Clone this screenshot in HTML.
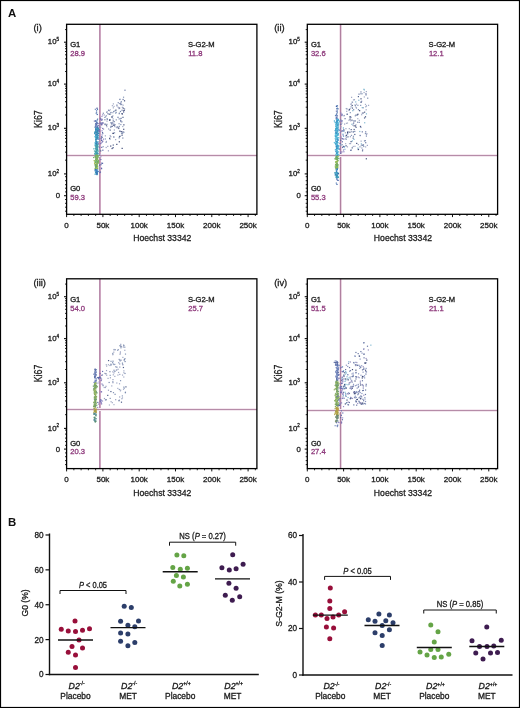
<!DOCTYPE html>
<html><head><meta charset="utf-8"><style>
html,body{margin:0;padding:0;background:#fff;overflow:hidden;}
svg{display:block;will-change:transform;}
text{font-family:"Liberation Sans", sans-serif;stroke-width:0.3px;}
</style></head><body>
<svg width="520" height="708" viewBox="0 0 520 708">
<rect x="0.5" y="0.5" width="519" height="707" fill="none" stroke="#000" stroke-width="1.2"/>
<text x="7.9" y="16.6" font-size="11.4" font-weight="bold" fill="#111">A</text>
<text x="7.9" y="525.8" font-size="11.4" font-weight="bold" fill="#111">B</text>
<line x1="64.00" y1="173.90" x2="66.60" y2="173.90" stroke="#111" stroke-width="1.1"/>
<line x1="65.00" y1="160.17" x2="66.60" y2="160.17" stroke="#111" stroke-width="0.9"/>
<line x1="65.00" y1="152.14" x2="66.60" y2="152.14" stroke="#111" stroke-width="0.9"/>
<line x1="65.00" y1="146.45" x2="66.60" y2="146.45" stroke="#111" stroke-width="0.9"/>
<line x1="65.00" y1="142.03" x2="66.60" y2="142.03" stroke="#111" stroke-width="0.9"/>
<line x1="65.00" y1="138.42" x2="66.60" y2="138.42" stroke="#111" stroke-width="0.9"/>
<line x1="65.00" y1="135.36" x2="66.60" y2="135.36" stroke="#111" stroke-width="0.9"/>
<line x1="65.00" y1="132.72" x2="66.60" y2="132.72" stroke="#111" stroke-width="0.9"/>
<line x1="65.00" y1="130.39" x2="66.60" y2="130.39" stroke="#111" stroke-width="0.9"/>
<line x1="64.00" y1="128.30" x2="66.60" y2="128.30" stroke="#111" stroke-width="1.1"/>
<line x1="65.00" y1="114.99" x2="66.60" y2="114.99" stroke="#111" stroke-width="0.9"/>
<line x1="65.00" y1="107.21" x2="66.60" y2="107.21" stroke="#111" stroke-width="0.9"/>
<line x1="65.00" y1="101.69" x2="66.60" y2="101.69" stroke="#111" stroke-width="0.9"/>
<line x1="65.00" y1="97.41" x2="66.60" y2="97.41" stroke="#111" stroke-width="0.9"/>
<line x1="65.00" y1="93.91" x2="66.60" y2="93.91" stroke="#111" stroke-width="0.9"/>
<line x1="65.00" y1="90.95" x2="66.60" y2="90.95" stroke="#111" stroke-width="0.9"/>
<line x1="65.00" y1="88.38" x2="66.60" y2="88.38" stroke="#111" stroke-width="0.9"/>
<line x1="65.00" y1="86.12" x2="66.60" y2="86.12" stroke="#111" stroke-width="0.9"/>
<line x1="64.00" y1="84.10" x2="66.60" y2="84.10" stroke="#111" stroke-width="1.1"/>
<line x1="65.00" y1="71.49" x2="66.60" y2="71.49" stroke="#111" stroke-width="0.9"/>
<line x1="65.00" y1="64.11" x2="66.60" y2="64.11" stroke="#111" stroke-width="0.9"/>
<line x1="65.00" y1="58.87" x2="66.60" y2="58.87" stroke="#111" stroke-width="0.9"/>
<line x1="65.00" y1="54.81" x2="66.60" y2="54.81" stroke="#111" stroke-width="0.9"/>
<line x1="65.00" y1="51.50" x2="66.60" y2="51.50" stroke="#111" stroke-width="0.9"/>
<line x1="65.00" y1="48.69" x2="66.60" y2="48.69" stroke="#111" stroke-width="0.9"/>
<line x1="65.00" y1="46.26" x2="66.60" y2="46.26" stroke="#111" stroke-width="0.9"/>
<line x1="65.00" y1="44.12" x2="66.60" y2="44.12" stroke="#111" stroke-width="0.9"/>
<line x1="64.00" y1="42.20" x2="66.60" y2="42.20" stroke="#111" stroke-width="1.1"/>
<line x1="65.00" y1="29.59" x2="66.60" y2="29.59" stroke="#111" stroke-width="0.9"/>
<line x1="64.00" y1="195.70" x2="66.60" y2="195.70" stroke="#111" stroke-width="1.1"/>
<line x1="65.00" y1="176.70" x2="66.60" y2="176.70" stroke="#111" stroke-width="0.9"/>
<line x1="65.00" y1="180.70" x2="66.60" y2="180.70" stroke="#111" stroke-width="0.9"/>
<line x1="65.00" y1="184.70" x2="66.60" y2="184.70" stroke="#111" stroke-width="0.9"/>
<line x1="65.00" y1="188.20" x2="66.60" y2="188.20" stroke="#111" stroke-width="0.9"/>
<line x1="65.00" y1="191.90" x2="66.60" y2="191.90" stroke="#111" stroke-width="0.9"/>
<line x1="65.00" y1="199.50" x2="66.60" y2="199.50" stroke="#111" stroke-width="0.9"/>
<line x1="65.00" y1="203.30" x2="66.60" y2="203.30" stroke="#111" stroke-width="0.9"/>
<line x1="65.00" y1="207.20" x2="66.60" y2="207.20" stroke="#111" stroke-width="0.9"/>
<line x1="65.00" y1="211.20" x2="66.60" y2="211.20" stroke="#111" stroke-width="0.9"/>
<line x1="66.60" y1="214.30" x2="66.60" y2="217.10" stroke="#111" stroke-width="1.0"/>
<line x1="73.86" y1="214.30" x2="73.86" y2="216.00" stroke="#111" stroke-width="0.9"/>
<line x1="81.12" y1="214.30" x2="81.12" y2="216.00" stroke="#111" stroke-width="0.9"/>
<line x1="88.38" y1="214.30" x2="88.38" y2="216.00" stroke="#111" stroke-width="0.9"/>
<line x1="95.64" y1="214.30" x2="95.64" y2="216.00" stroke="#111" stroke-width="0.9"/>
<line x1="102.90" y1="214.30" x2="102.90" y2="217.10" stroke="#111" stroke-width="1.0"/>
<line x1="110.16" y1="214.30" x2="110.16" y2="216.00" stroke="#111" stroke-width="0.9"/>
<line x1="117.42" y1="214.30" x2="117.42" y2="216.00" stroke="#111" stroke-width="0.9"/>
<line x1="124.67" y1="214.30" x2="124.67" y2="216.00" stroke="#111" stroke-width="0.9"/>
<line x1="131.93" y1="214.30" x2="131.93" y2="216.00" stroke="#111" stroke-width="0.9"/>
<line x1="139.19" y1="214.30" x2="139.19" y2="217.10" stroke="#111" stroke-width="1.0"/>
<line x1="146.45" y1="214.30" x2="146.45" y2="216.00" stroke="#111" stroke-width="0.9"/>
<line x1="153.71" y1="214.30" x2="153.71" y2="216.00" stroke="#111" stroke-width="0.9"/>
<line x1="160.97" y1="214.30" x2="160.97" y2="216.00" stroke="#111" stroke-width="0.9"/>
<line x1="168.23" y1="214.30" x2="168.23" y2="216.00" stroke="#111" stroke-width="0.9"/>
<line x1="175.49" y1="214.30" x2="175.49" y2="217.10" stroke="#111" stroke-width="1.0"/>
<line x1="182.75" y1="214.30" x2="182.75" y2="216.00" stroke="#111" stroke-width="0.9"/>
<line x1="190.01" y1="214.30" x2="190.01" y2="216.00" stroke="#111" stroke-width="0.9"/>
<line x1="197.27" y1="214.30" x2="197.27" y2="216.00" stroke="#111" stroke-width="0.9"/>
<line x1="204.53" y1="214.30" x2="204.53" y2="216.00" stroke="#111" stroke-width="0.9"/>
<line x1="211.79" y1="214.30" x2="211.79" y2="217.10" stroke="#111" stroke-width="1.0"/>
<line x1="219.05" y1="214.30" x2="219.05" y2="216.00" stroke="#111" stroke-width="0.9"/>
<line x1="226.31" y1="214.30" x2="226.31" y2="216.00" stroke="#111" stroke-width="0.9"/>
<line x1="233.57" y1="214.30" x2="233.57" y2="216.00" stroke="#111" stroke-width="0.9"/>
<line x1="240.82" y1="214.30" x2="240.82" y2="216.00" stroke="#111" stroke-width="0.9"/>
<line x1="248.08" y1="214.30" x2="248.08" y2="217.10" stroke="#111" stroke-width="1.0"/>
<line x1="255.34" y1="214.30" x2="255.34" y2="216.00" stroke="#111" stroke-width="0.9"/>
<rect x="99" y="24.30" width="1" height="190.00" fill="#b98cac" shape-rendering="crispEdges"/>
<rect x="100" y="24.30" width="1" height="190.00" fill="#cda5c0" shape-rendering="crispEdges"/>
<rect x="66.60" y="154" width="190.30" height="1" fill="#f5e8f0" shape-rendering="crispEdges"/>
<rect x="66.60" y="155" width="190.30" height="1" fill="#b68ca8" shape-rendering="crispEdges"/>
<rect x="66.60" y="156" width="190.30" height="1" fill="#f3e8ef" shape-rendering="crispEdges"/>
<g><rect x="96.88" y="108.88" width="1.2" height="1.2" fill="#5a80b8"/><rect x="94.75" y="108.70" width="1.2" height="1.2" fill="#6a88b8"/><rect x="95.55" y="112.59" width="1.2" height="1.2" fill="#6a88b8"/><rect x="96.42" y="107.71" width="1.2" height="1.2" fill="#6a88b8"/><rect x="96.00" y="112.16" width="1.2" height="1.2" fill="#6a88b8"/><rect x="95.94" y="110.33" width="1.2" height="1.2" fill="#4a70b0"/><rect x="96.63" y="113.90" width="1.2" height="1.2" fill="#3a60a8"/><rect x="96.47" y="107.68" width="1.2" height="1.2" fill="#7a78b0"/><rect x="97.01" y="118.48" width="1.2" height="1.2" fill="#6a88b8"/><rect x="95.07" y="124.93" width="1.2" height="1.2" fill="#7a78b0"/><rect x="95.03" y="120.40" width="1.2" height="1.2" fill="#4a70b0"/><rect x="96.40" y="121.51" width="1.2" height="1.2" fill="#5a80c0"/><rect x="95.28" y="120.37" width="1.2" height="1.2" fill="#3a60a8"/><rect x="96.19" y="122.15" width="1.2" height="1.2" fill="#7a78b0"/><rect x="97.03" y="126.70" width="1.2" height="1.2" fill="#5a80c0"/><rect x="96.75" y="126.14" width="1.2" height="1.2" fill="#3a60a8"/><rect x="97.92" y="125.09" width="1.2" height="1.2" fill="#7a78b0"/><rect x="94.52" y="126.83" width="1.2" height="1.2" fill="#6a88b8"/><rect x="96.49" y="122.97" width="1.2" height="1.2" fill="#5a80b8"/><rect x="95.69" y="123.69" width="1.2" height="1.2" fill="#6a88b8"/><rect x="94.80" y="126.02" width="1.2" height="1.2" fill="#3a60a8"/><rect x="95.96" y="122.72" width="1.2" height="1.2" fill="#5a80c0"/><rect x="95.52" y="125.58" width="1.2" height="1.2" fill="#7a78b0"/><rect x="96.28" y="126.34" width="1.2" height="1.2" fill="#6a90c8"/><rect x="95.32" y="124.47" width="1.2" height="1.2" fill="#7a78b0"/><rect x="96.69" y="119.37" width="1.2" height="1.2" fill="#4a70b0"/><rect x="95.18" y="123.09" width="1.2" height="1.2" fill="#3a60a8"/><rect x="96.65" y="122.62" width="1.2" height="1.2" fill="#5a80b8"/><rect x="97.20" y="124.73" width="1.2" height="1.2" fill="#6a88b8"/><rect x="95.87" y="124.22" width="1.2" height="1.2" fill="#4a70b0"/><rect x="97.53" y="122.92" width="1.2" height="1.2" fill="#7a78b0"/><rect x="95.83" y="126.68" width="1.2" height="1.2" fill="#7a78b0"/><rect x="93.79" y="120.49" width="1.2" height="1.2" fill="#7a78b0"/><rect x="95.81" y="121.58" width="1.2" height="1.2" fill="#5a80b8"/><rect x="94.87" y="124.33" width="1.2" height="1.2" fill="#6a88b8"/><rect x="95.08" y="125.45" width="1.2" height="1.2" fill="#6a90c8"/><rect x="97.00" y="126.99" width="1.2" height="1.2" fill="#4a70b0"/><rect x="95.59" y="123.07" width="1.2" height="1.2" fill="#7a78b0"/><rect x="96.98" y="130.89" width="1.2" height="1.2" fill="#3a88b8"/><rect x="95.68" y="137.09" width="1.2" height="1.2" fill="#4aa8c8"/><rect x="94.59" y="143.40" width="1.2" height="1.2" fill="#50b0d0"/><rect x="96.85" y="133.28" width="1.2" height="1.2" fill="#3a78b0"/><rect x="96.18" y="136.58" width="1.2" height="1.2" fill="#3a78b0"/><rect x="95.21" y="127.88" width="1.2" height="1.2" fill="#4aa8c8"/><rect x="95.46" y="138.20" width="1.2" height="1.2" fill="#3c96b4"/><rect x="95.82" y="140.97" width="1.2" height="1.2" fill="#3a88b8"/><rect x="96.32" y="127.95" width="1.2" height="1.2" fill="#3c96b4"/><rect x="95.88" y="135.10" width="1.2" height="1.2" fill="#3a88b8"/><rect x="96.97" y="131.64" width="1.2" height="1.2" fill="#3a88b8"/><rect x="96.80" y="132.33" width="1.2" height="1.2" fill="#4aa8c8"/><rect x="95.46" y="130.11" width="1.2" height="1.2" fill="#3a88b8"/><rect x="95.91" y="138.42" width="1.2" height="1.2" fill="#3a88b8"/><rect x="95.55" y="135.13" width="1.2" height="1.2" fill="#3c96b4"/><rect x="96.92" y="132.70" width="1.2" height="1.2" fill="#3a88b8"/><rect x="96.16" y="134.56" width="1.2" height="1.2" fill="#3a78b0"/><rect x="96.40" y="144.00" width="1.2" height="1.2" fill="#3a78b0"/><rect x="96.64" y="134.74" width="1.2" height="1.2" fill="#50b0d0"/><rect x="95.90" y="129.89" width="1.2" height="1.2" fill="#4aa8c8"/><rect x="95.05" y="134.98" width="1.2" height="1.2" fill="#4aa8c8"/><rect x="95.96" y="144.01" width="1.2" height="1.2" fill="#3a78b0"/><rect x="95.78" y="135.06" width="1.2" height="1.2" fill="#3a78b0"/><rect x="95.97" y="141.06" width="1.2" height="1.2" fill="#50b0d0"/><rect x="95.29" y="128.40" width="1.2" height="1.2" fill="#3c96b4"/><rect x="98.25" y="132.61" width="1.2" height="1.2" fill="#3c96b4"/><rect x="97.38" y="132.68" width="1.2" height="1.2" fill="#50b0d0"/><rect x="95.45" y="137.00" width="1.2" height="1.2" fill="#4aa8c8"/><rect x="96.18" y="127.54" width="1.2" height="1.2" fill="#4aa8c8"/><rect x="95.83" y="143.76" width="1.2" height="1.2" fill="#3a78b0"/><rect x="96.85" y="135.23" width="1.2" height="1.2" fill="#3a78b0"/><rect x="94.40" y="136.05" width="1.2" height="1.2" fill="#50b0d0"/><rect x="96.95" y="130.81" width="1.2" height="1.2" fill="#50b0d0"/><rect x="96.68" y="137.45" width="1.2" height="1.2" fill="#50b0d0"/><rect x="95.62" y="129.18" width="1.2" height="1.2" fill="#50b0d0"/><rect x="95.35" y="127.69" width="1.2" height="1.2" fill="#3a78b0"/><rect x="96.14" y="142.22" width="1.2" height="1.2" fill="#4aa8c8"/><rect x="95.90" y="141.98" width="1.2" height="1.2" fill="#3a78b0"/><rect x="95.67" y="140.71" width="1.2" height="1.2" fill="#3c96b4"/><rect x="96.53" y="141.64" width="1.2" height="1.2" fill="#3a78b0"/><rect x="97.01" y="133.25" width="1.2" height="1.2" fill="#50b0d0"/><rect x="95.08" y="140.46" width="1.2" height="1.2" fill="#3a78b0"/><rect x="95.94" y="131.39" width="1.2" height="1.2" fill="#4aa8c8"/><rect x="95.63" y="130.23" width="1.2" height="1.2" fill="#3a78b0"/><rect x="96.07" y="131.02" width="1.2" height="1.2" fill="#3a88b8"/><rect x="94.78" y="133.66" width="1.2" height="1.2" fill="#3a88b8"/><rect x="96.20" y="129.34" width="1.2" height="1.2" fill="#50b0d0"/><rect x="98.15" y="129.70" width="1.2" height="1.2" fill="#3a78b0"/><rect x="95.60" y="140.49" width="1.2" height="1.2" fill="#50b0d0"/><rect x="96.83" y="142.12" width="1.2" height="1.2" fill="#4aa8c8"/><rect x="95.33" y="141.48" width="1.2" height="1.2" fill="#50b0d0"/><rect x="97.05" y="128.70" width="1.2" height="1.2" fill="#3a78b0"/><rect x="96.62" y="131.20" width="1.2" height="1.2" fill="#3a88b8"/><rect x="96.35" y="137.00" width="1.2" height="1.2" fill="#3c96b4"/><rect x="95.73" y="135.18" width="1.2" height="1.2" fill="#3a88b8"/><rect x="97.56" y="127.61" width="1.2" height="1.2" fill="#3c96b4"/><rect x="97.40" y="128.96" width="1.2" height="1.2" fill="#3c96b4"/><rect x="97.24" y="130.59" width="1.2" height="1.2" fill="#3a78b0"/><rect x="96.41" y="134.56" width="1.2" height="1.2" fill="#4aa8c8"/><rect x="96.36" y="130.10" width="1.2" height="1.2" fill="#3c96b4"/><rect x="97.59" y="134.80" width="1.2" height="1.2" fill="#3a78b0"/><rect x="95.64" y="142.86" width="1.2" height="1.2" fill="#3a88b8"/><rect x="95.81" y="136.75" width="1.2" height="1.2" fill="#4aa8c8"/><rect x="95.24" y="138.48" width="1.2" height="1.2" fill="#3c96b4"/><rect x="96.47" y="127.86" width="1.2" height="1.2" fill="#3a78b0"/><rect x="94.00" y="132.84" width="1.2" height="1.2" fill="#50b0d0"/><rect x="97.84" y="132.73" width="1.2" height="1.2" fill="#3a78b0"/><rect x="96.77" y="143.89" width="1.2" height="1.2" fill="#3c96b4"/><rect x="96.34" y="131.65" width="1.2" height="1.2" fill="#3a78b0"/><rect x="94.48" y="142.15" width="1.2" height="1.2" fill="#50b0d0"/><rect x="95.94" y="138.65" width="1.2" height="1.2" fill="#3a88b8"/><rect x="97.12" y="130.79" width="1.2" height="1.2" fill="#3a88b8"/><rect x="95.50" y="128.78" width="1.2" height="1.2" fill="#50b0d0"/><rect x="98.53" y="128.94" width="1.2" height="1.2" fill="#3a78b0"/><rect x="96.83" y="138.34" width="1.2" height="1.2" fill="#3a88b8"/><rect x="95.67" y="128.10" width="1.2" height="1.2" fill="#4aa8c8"/><rect x="97.09" y="132.78" width="1.2" height="1.2" fill="#3a88b8"/><rect x="94.44" y="131.58" width="1.2" height="1.2" fill="#3c96b4"/><rect x="94.93" y="136.65" width="1.2" height="1.2" fill="#4aa8c8"/><rect x="95.42" y="131.14" width="1.2" height="1.2" fill="#4aa8c8"/><rect x="95.80" y="134.23" width="1.2" height="1.2" fill="#3c96b4"/><rect x="97.80" y="127.77" width="1.2" height="1.2" fill="#3c96b4"/><rect x="96.27" y="132.34" width="1.2" height="1.2" fill="#4aa8c8"/><rect x="94.99" y="129.12" width="1.2" height="1.2" fill="#3a88b8"/><rect x="96.53" y="128.71" width="1.2" height="1.2" fill="#4aa8c8"/><rect x="95.83" y="144.14" width="1.2" height="1.2" fill="#3a88b8"/><rect x="95.57" y="132.60" width="1.2" height="1.2" fill="#3a78b0"/><rect x="94.35" y="132.39" width="1.2" height="1.2" fill="#4aa8c8"/><rect x="96.19" y="129.81" width="1.2" height="1.2" fill="#3a88b8"/><rect x="95.88" y="141.36" width="1.2" height="1.2" fill="#3a78b0"/><rect x="97.44" y="141.07" width="1.2" height="1.2" fill="#4aa8c8"/><rect x="95.05" y="130.43" width="1.2" height="1.2" fill="#50b0d0"/><rect x="97.71" y="136.54" width="1.2" height="1.2" fill="#4aa8c8"/><rect x="96.54" y="131.69" width="1.2" height="1.2" fill="#3c96b4"/><rect x="95.10" y="139.00" width="1.2" height="1.2" fill="#3a88b8"/><rect x="96.31" y="136.60" width="1.2" height="1.2" fill="#3a78b0"/><rect x="95.35" y="135.11" width="1.2" height="1.2" fill="#3a88b8"/><rect x="96.50" y="135.66" width="1.2" height="1.2" fill="#50b0d0"/><rect x="97.37" y="144.00" width="1.2" height="1.2" fill="#3a78b0"/><rect x="96.16" y="129.75" width="1.2" height="1.2" fill="#4aa8c8"/><rect x="96.72" y="129.75" width="1.2" height="1.2" fill="#3a78b0"/><rect x="95.92" y="134.22" width="1.2" height="1.2" fill="#3a78b0"/><rect x="95.44" y="128.92" width="1.2" height="1.2" fill="#3a88b8"/><rect x="96.05" y="135.92" width="1.2" height="1.2" fill="#50b0d0"/><rect x="95.59" y="143.21" width="1.2" height="1.2" fill="#3a88b8"/><rect x="95.51" y="135.82" width="1.2" height="1.2" fill="#50b0d0"/><rect x="95.81" y="143.66" width="1.2" height="1.2" fill="#3a78b0"/><rect x="95.21" y="142.82" width="1.2" height="1.2" fill="#3a88b8"/><rect x="96.39" y="143.93" width="1.2" height="1.2" fill="#3a78b0"/><rect x="97.99" y="138.37" width="1.2" height="1.2" fill="#3a88b8"/><rect x="96.19" y="130.11" width="1.2" height="1.2" fill="#3a88b8"/><rect x="94.15" y="132.48" width="1.2" height="1.2" fill="#3a88b8"/><rect x="95.03" y="141.83" width="1.2" height="1.2" fill="#50b0d0"/><rect x="97.01" y="137.51" width="1.2" height="1.2" fill="#3c96b4"/><rect x="97.13" y="142.64" width="1.2" height="1.2" fill="#4aa8c8"/><rect x="95.71" y="130.05" width="1.2" height="1.2" fill="#50b0d0"/><rect x="94.63" y="131.10" width="1.2" height="1.2" fill="#3c96b4"/><rect x="95.36" y="135.82" width="1.2" height="1.2" fill="#50b0d0"/><rect x="95.37" y="139.59" width="1.2" height="1.2" fill="#4aa8c8"/><rect x="96.88" y="136.65" width="1.2" height="1.2" fill="#3c96b4"/><rect x="96.58" y="136.31" width="1.2" height="1.2" fill="#3c96b4"/><rect x="96.37" y="131.95" width="1.2" height="1.2" fill="#3c96b4"/><rect x="97.00" y="143.71" width="1.2" height="1.2" fill="#3c96b4"/><rect x="97.19" y="134.97" width="1.2" height="1.2" fill="#4aa8c8"/><rect x="94.80" y="143.91" width="1.2" height="1.2" fill="#50b0d0"/><rect x="97.09" y="134.15" width="1.2" height="1.2" fill="#3a88b8"/><rect x="95.25" y="134.85" width="1.2" height="1.2" fill="#4aa8c8"/><rect x="95.28" y="129.43" width="1.2" height="1.2" fill="#3a78b0"/><rect x="97.11" y="136.48" width="1.2" height="1.2" fill="#3a88b8"/><rect x="95.29" y="131.62" width="1.2" height="1.2" fill="#3a78b0"/><rect x="96.36" y="144.44" width="1.2" height="1.2" fill="#40a0b0"/><rect x="96.90" y="144.71" width="1.2" height="1.2" fill="#48a8b8"/><rect x="96.20" y="152.75" width="1.2" height="1.2" fill="#48a8b8"/><rect x="96.71" y="147.13" width="1.2" height="1.2" fill="#50a8a0"/><rect x="94.31" y="152.72" width="1.2" height="1.2" fill="#48a8b8"/><rect x="96.59" y="149.85" width="1.2" height="1.2" fill="#3a90b0"/><rect x="96.44" y="148.60" width="1.2" height="1.2" fill="#3a90b0"/><rect x="96.43" y="146.45" width="1.2" height="1.2" fill="#40a0b0"/><rect x="97.15" y="153.44" width="1.2" height="1.2" fill="#40a0b0"/><rect x="96.18" y="149.85" width="1.2" height="1.2" fill="#48a8b8"/><rect x="94.86" y="145.15" width="1.2" height="1.2" fill="#3a90b0"/><rect x="97.16" y="149.43" width="1.2" height="1.2" fill="#50a8a0"/><rect x="95.79" y="151.99" width="1.2" height="1.2" fill="#3a90b0"/><rect x="96.41" y="147.90" width="1.2" height="1.2" fill="#3a90b0"/><rect x="95.86" y="147.79" width="1.2" height="1.2" fill="#40a0b0"/><rect x="94.84" y="150.88" width="1.2" height="1.2" fill="#3a90b0"/><rect x="93.26" y="148.22" width="1.2" height="1.2" fill="#48a8b8"/><rect x="94.98" y="154.27" width="1.2" height="1.2" fill="#3a90b0"/><rect x="93.89" y="150.41" width="1.2" height="1.2" fill="#50a8a0"/><rect x="95.78" y="151.43" width="1.2" height="1.2" fill="#3a90b0"/><rect x="95.17" y="150.60" width="1.2" height="1.2" fill="#40a0b0"/><rect x="95.84" y="151.19" width="1.2" height="1.2" fill="#3a90b0"/><rect x="95.35" y="154.10" width="1.2" height="1.2" fill="#40a0b0"/><rect x="97.08" y="149.33" width="1.2" height="1.2" fill="#48a8b8"/><rect x="95.25" y="150.80" width="1.2" height="1.2" fill="#3a90b0"/><rect x="94.98" y="151.61" width="1.2" height="1.2" fill="#48a8b8"/><rect x="97.45" y="150.74" width="1.2" height="1.2" fill="#48a8b8"/><rect x="95.39" y="152.07" width="1.2" height="1.2" fill="#40a0b0"/><rect x="95.87" y="147.89" width="1.2" height="1.2" fill="#50a8a0"/><rect x="97.41" y="145.92" width="1.2" height="1.2" fill="#50a8a0"/><rect x="95.73" y="149.25" width="1.2" height="1.2" fill="#40a0b0"/><rect x="96.06" y="151.85" width="1.2" height="1.2" fill="#3a90b0"/><rect x="96.89" y="145.10" width="1.2" height="1.2" fill="#48a8b8"/><rect x="96.40" y="149.47" width="1.2" height="1.2" fill="#48a8b8"/><rect x="94.88" y="151.30" width="1.2" height="1.2" fill="#50a8a0"/><rect x="96.79" y="146.49" width="1.2" height="1.2" fill="#48a8b8"/><rect x="95.83" y="146.77" width="1.2" height="1.2" fill="#50a8a0"/><rect x="96.29" y="149.08" width="1.2" height="1.2" fill="#40a0b0"/><rect x="95.19" y="146.09" width="1.2" height="1.2" fill="#50a8a0"/><rect x="94.83" y="147.96" width="1.2" height="1.2" fill="#48a8b8"/><rect x="95.16" y="148.33" width="1.2" height="1.2" fill="#50a8a0"/><rect x="96.61" y="153.07" width="1.2" height="1.2" fill="#50a8a0"/><rect x="95.93" y="151.56" width="1.2" height="1.2" fill="#48a8b8"/><rect x="97.23" y="152.84" width="1.2" height="1.2" fill="#40a0b0"/><rect x="96.62" y="152.92" width="1.2" height="1.2" fill="#3a90b0"/><rect x="95.33" y="153.73" width="1.2" height="1.2" fill="#48a8b8"/><rect x="96.47" y="152.25" width="1.2" height="1.2" fill="#48a8b8"/><rect x="97.17" y="153.11" width="1.2" height="1.2" fill="#3a90b0"/><rect x="96.47" y="150.21" width="1.2" height="1.2" fill="#50a8a0"/><rect x="95.79" y="148.99" width="1.2" height="1.2" fill="#48a8b8"/><rect x="96.92" y="145.79" width="1.2" height="1.2" fill="#50a8a0"/><rect x="97.09" y="147.50" width="1.2" height="1.2" fill="#3a90b0"/><rect x="95.72" y="146.80" width="1.2" height="1.2" fill="#50a8a0"/><rect x="94.60" y="145.08" width="1.2" height="1.2" fill="#48a8b8"/><rect x="95.59" y="148.37" width="1.2" height="1.2" fill="#48a8b8"/><rect x="96.02" y="144.85" width="1.2" height="1.2" fill="#40a0b0"/><rect x="96.05" y="153.29" width="1.2" height="1.2" fill="#3a90b0"/><rect x="96.23" y="147.82" width="1.2" height="1.2" fill="#50a8a0"/><rect x="95.86" y="145.58" width="1.2" height="1.2" fill="#3a90b0"/><rect x="95.62" y="146.73" width="1.2" height="1.2" fill="#3a90b0"/><rect x="96.32" y="148.18" width="1.2" height="1.2" fill="#50a8a0"/><rect x="96.57" y="149.03" width="1.2" height="1.2" fill="#3a90b0"/><rect x="95.82" y="146.52" width="1.2" height="1.2" fill="#40a0b0"/><rect x="95.21" y="153.49" width="1.2" height="1.2" fill="#40a0b0"/><rect x="96.52" y="144.86" width="1.2" height="1.2" fill="#50a8a0"/><rect x="94.30" y="153.29" width="1.2" height="1.2" fill="#50a8a0"/><rect x="94.50" y="153.59" width="1.2" height="1.2" fill="#48a8b8"/><rect x="97.09" y="152.34" width="1.2" height="1.2" fill="#40a0b0"/><rect x="96.81" y="144.55" width="1.2" height="1.2" fill="#40a0b0"/><rect x="97.05" y="150.05" width="1.2" height="1.2" fill="#50a8a0"/><rect x="94.32" y="156.22" width="1.2" height="1.2" fill="#70b060"/><rect x="96.40" y="154.90" width="1.2" height="1.2" fill="#70b060"/><rect x="97.44" y="161.75" width="1.2" height="1.2" fill="#70b060"/><rect x="97.52" y="160.46" width="1.2" height="1.2" fill="#88b850"/><rect x="95.03" y="154.79" width="1.2" height="1.2" fill="#88b850"/><rect x="94.87" y="163.68" width="1.2" height="1.2" fill="#7aa868"/><rect x="95.92" y="159.02" width="1.2" height="1.2" fill="#88b850"/><rect x="96.69" y="157.84" width="1.2" height="1.2" fill="#b0c050"/><rect x="95.30" y="167.49" width="1.2" height="1.2" fill="#b0c050"/><rect x="95.55" y="164.17" width="1.2" height="1.2" fill="#b0c050"/><rect x="96.94" y="167.97" width="1.2" height="1.2" fill="#b0c050"/><rect x="95.36" y="157.19" width="1.2" height="1.2" fill="#b0c050"/><rect x="95.26" y="160.34" width="1.2" height="1.2" fill="#b0c050"/><rect x="94.79" y="164.50" width="1.2" height="1.2" fill="#70b060"/><rect x="96.51" y="157.92" width="1.2" height="1.2" fill="#88b850"/><rect x="95.92" y="166.36" width="1.2" height="1.2" fill="#70b060"/><rect x="97.38" y="155.14" width="1.2" height="1.2" fill="#7aa868"/><rect x="96.89" y="161.42" width="1.2" height="1.2" fill="#70b060"/><rect x="97.07" y="168.19" width="1.2" height="1.2" fill="#7aa868"/><rect x="96.28" y="163.70" width="1.2" height="1.2" fill="#7aa868"/><rect x="96.79" y="165.09" width="1.2" height="1.2" fill="#b0c050"/><rect x="95.42" y="158.18" width="1.2" height="1.2" fill="#60a878"/><rect x="96.20" y="165.61" width="1.2" height="1.2" fill="#7aa868"/><rect x="96.12" y="155.21" width="1.2" height="1.2" fill="#60a878"/><rect x="97.10" y="158.78" width="1.2" height="1.2" fill="#70b060"/><rect x="97.17" y="166.38" width="1.2" height="1.2" fill="#60a878"/><rect x="96.58" y="155.72" width="1.2" height="1.2" fill="#88b850"/><rect x="95.11" y="159.02" width="1.2" height="1.2" fill="#60a878"/><rect x="94.52" y="161.53" width="1.2" height="1.2" fill="#7aa868"/><rect x="97.21" y="155.87" width="1.2" height="1.2" fill="#7aa868"/><rect x="94.38" y="161.73" width="1.2" height="1.2" fill="#b0c050"/><rect x="95.38" y="164.22" width="1.2" height="1.2" fill="#b0c050"/><rect x="98.74" y="154.82" width="1.2" height="1.2" fill="#88b850"/><rect x="95.65" y="157.20" width="1.2" height="1.2" fill="#7aa868"/><rect x="96.68" y="161.70" width="1.2" height="1.2" fill="#b0c050"/><rect x="96.48" y="155.31" width="1.2" height="1.2" fill="#60a878"/><rect x="95.55" y="165.81" width="1.2" height="1.2" fill="#60a878"/><rect x="95.37" y="158.86" width="1.2" height="1.2" fill="#60a878"/><rect x="95.99" y="158.95" width="1.2" height="1.2" fill="#b0c050"/><rect x="94.94" y="156.11" width="1.2" height="1.2" fill="#60a878"/><rect x="95.63" y="167.20" width="1.2" height="1.2" fill="#70b060"/><rect x="96.71" y="160.73" width="1.2" height="1.2" fill="#60a878"/><rect x="97.76" y="161.12" width="1.2" height="1.2" fill="#7aa868"/><rect x="94.93" y="165.82" width="1.2" height="1.2" fill="#70b060"/><rect x="96.15" y="167.31" width="1.2" height="1.2" fill="#b0c050"/><rect x="95.54" y="161.29" width="1.2" height="1.2" fill="#60a878"/><rect x="95.57" y="165.38" width="1.2" height="1.2" fill="#60a878"/><rect x="94.57" y="168.27" width="1.2" height="1.2" fill="#60a878"/><rect x="93.55" y="160.04" width="1.2" height="1.2" fill="#b0c050"/><rect x="96.55" y="161.51" width="1.2" height="1.2" fill="#70b060"/><rect x="95.56" y="156.48" width="1.2" height="1.2" fill="#70b060"/><rect x="94.93" y="156.98" width="1.2" height="1.2" fill="#7aa868"/><rect x="94.80" y="167.55" width="1.2" height="1.2" fill="#b0c050"/><rect x="94.88" y="163.94" width="1.2" height="1.2" fill="#70b060"/><rect x="97.07" y="157.26" width="1.2" height="1.2" fill="#70b060"/><rect x="96.48" y="166.37" width="1.2" height="1.2" fill="#88b850"/><rect x="96.83" y="163.41" width="1.2" height="1.2" fill="#70b060"/><rect x="97.59" y="162.67" width="1.2" height="1.2" fill="#7aa868"/><rect x="95.60" y="164.34" width="1.2" height="1.2" fill="#b0c050"/><rect x="97.85" y="161.31" width="1.2" height="1.2" fill="#88b850"/><rect x="95.49" y="160.36" width="1.2" height="1.2" fill="#88b850"/><rect x="94.99" y="165.57" width="1.2" height="1.2" fill="#70b060"/><rect x="96.69" y="165.80" width="1.2" height="1.2" fill="#88b850"/><rect x="95.99" y="154.52" width="1.2" height="1.2" fill="#b0c050"/><rect x="94.96" y="165.18" width="1.2" height="1.2" fill="#7aa868"/><rect x="95.91" y="163.02" width="1.2" height="1.2" fill="#b0c050"/><rect x="95.78" y="165.55" width="1.2" height="1.2" fill="#7aa868"/><rect x="95.87" y="154.49" width="1.2" height="1.2" fill="#60a878"/><rect x="95.30" y="164.14" width="1.2" height="1.2" fill="#60a878"/><rect x="95.13" y="161.57" width="1.2" height="1.2" fill="#60a878"/><rect x="94.87" y="167.99" width="1.2" height="1.2" fill="#b0c050"/><rect x="95.69" y="158.36" width="1.2" height="1.2" fill="#7aa868"/><rect x="96.93" y="161.99" width="1.2" height="1.2" fill="#7aa868"/><rect x="93.98" y="162.84" width="1.2" height="1.2" fill="#b0c050"/><rect x="95.66" y="158.71" width="1.2" height="1.2" fill="#b0c050"/><rect x="97.01" y="156.36" width="1.2" height="1.2" fill="#88b850"/><rect x="96.94" y="157.94" width="1.2" height="1.2" fill="#b0c050"/><rect x="96.06" y="154.91" width="1.2" height="1.2" fill="#7aa868"/><rect x="97.76" y="160.03" width="1.2" height="1.2" fill="#70b060"/><rect x="95.26" y="166.98" width="1.2" height="1.2" fill="#70b060"/><rect x="95.25" y="166.25" width="1.2" height="1.2" fill="#60a878"/><rect x="96.67" y="163.30" width="1.2" height="1.2" fill="#7aa868"/><rect x="94.76" y="165.16" width="1.2" height="1.2" fill="#7aa868"/><rect x="97.05" y="159.36" width="1.2" height="1.2" fill="#7aa868"/><rect x="97.65" y="156.48" width="1.2" height="1.2" fill="#60a878"/><rect x="95.95" y="166.41" width="1.2" height="1.2" fill="#b0c050"/><rect x="96.88" y="165.41" width="1.2" height="1.2" fill="#b0c050"/><rect x="95.71" y="158.42" width="1.2" height="1.2" fill="#7aa868"/><rect x="94.57" y="164.08" width="1.2" height="1.2" fill="#7aa868"/><rect x="96.63" y="157.42" width="1.2" height="1.2" fill="#7aa868"/><rect x="95.23" y="167.69" width="1.2" height="1.2" fill="#70b060"/><rect x="96.55" y="156.21" width="1.2" height="1.2" fill="#88b850"/><rect x="96.68" y="157.61" width="1.2" height="1.2" fill="#7aa868"/><rect x="96.11" y="165.25" width="1.2" height="1.2" fill="#70b060"/><rect x="95.72" y="159.99" width="1.2" height="1.2" fill="#70b060"/><rect x="94.32" y="160.39" width="1.2" height="1.2" fill="#70b060"/><rect x="95.19" y="162.09" width="1.2" height="1.2" fill="#70b060"/><rect x="95.82" y="164.68" width="1.2" height="1.2" fill="#7aa868"/><rect x="95.84" y="166.09" width="1.2" height="1.2" fill="#60a878"/><rect x="93.07" y="156.91" width="1.2" height="1.2" fill="#70b060"/><rect x="95.86" y="173.12" width="1.2" height="1.2" fill="#3868a8"/><rect x="95.72" y="169.14" width="1.2" height="1.2" fill="#3868a8"/><rect x="94.44" y="170.17" width="1.2" height="1.2" fill="#4080c0"/><rect x="95.92" y="172.04" width="1.2" height="1.2" fill="#3868a8"/><rect x="94.82" y="169.03" width="1.2" height="1.2" fill="#3a70b0"/><rect x="97.02" y="169.40" width="1.2" height="1.2" fill="#4a90c8"/><rect x="97.71" y="170.90" width="1.2" height="1.2" fill="#4a90c8"/><rect x="94.55" y="173.61" width="1.2" height="1.2" fill="#3a98b8"/><rect x="96.24" y="173.88" width="1.2" height="1.2" fill="#3868a8"/><rect x="95.02" y="169.02" width="1.2" height="1.2" fill="#4a90c8"/><rect x="96.56" y="173.95" width="1.2" height="1.2" fill="#3a98b8"/><rect x="95.89" y="172.15" width="1.2" height="1.2" fill="#4a90c8"/><rect x="96.28" y="172.96" width="1.2" height="1.2" fill="#4a90c8"/><rect x="95.57" y="170.02" width="1.2" height="1.2" fill="#3a70b0"/><rect x="96.32" y="170.87" width="1.2" height="1.2" fill="#3a98b8"/><rect x="96.35" y="172.18" width="1.2" height="1.2" fill="#4080c0"/><rect x="95.68" y="171.60" width="1.2" height="1.2" fill="#3868a8"/><rect x="95.74" y="170.02" width="1.2" height="1.2" fill="#3868a8"/><rect x="95.95" y="172.57" width="1.2" height="1.2" fill="#4a90c8"/><rect x="96.50" y="171.99" width="1.2" height="1.2" fill="#3a70b0"/><rect x="95.64" y="170.43" width="1.2" height="1.2" fill="#3a98b8"/><rect x="95.72" y="172.57" width="1.2" height="1.2" fill="#3a98b8"/><rect x="95.12" y="169.30" width="1.2" height="1.2" fill="#3a70b0"/><rect x="95.98" y="172.27" width="1.2" height="1.2" fill="#3a70b0"/><rect x="95.36" y="170.29" width="1.2" height="1.2" fill="#3a70b0"/><rect x="96.03" y="173.72" width="1.2" height="1.2" fill="#4a90c8"/><rect x="95.11" y="169.75" width="1.2" height="1.2" fill="#4080c0"/><rect x="94.98" y="171.78" width="1.2" height="1.2" fill="#4080c0"/><rect x="96.29" y="169.76" width="1.2" height="1.2" fill="#4a90c8"/><rect x="96.89" y="170.93" width="1.2" height="1.2" fill="#4080c0"/><rect x="96.58" y="173.04" width="1.2" height="1.2" fill="#3a70b0"/><rect x="94.80" y="168.91" width="1.2" height="1.2" fill="#3a70b0"/><rect x="94.99" y="170.08" width="1.2" height="1.2" fill="#4a90c8"/><rect x="94.98" y="172.01" width="1.2" height="1.2" fill="#3a98b8"/><rect x="96.48" y="170.68" width="1.2" height="1.2" fill="#4080c0"/><rect x="117.81" y="102.05" width="1.2" height="1.2" fill="#8898b8"/><rect x="122.37" y="116.74" width="1.2" height="1.2" fill="#50608a"/><rect x="111.77" y="105.11" width="1.2" height="1.2" fill="#a0a8c4"/><rect x="122.98" y="110.46" width="1.2" height="1.2" fill="#404c78"/><rect x="118.47" y="123.11" width="1.2" height="1.2" fill="#8898b8"/><rect x="119.52" y="118.20" width="1.2" height="1.2" fill="#6a78a4"/><rect x="120.20" y="104.04" width="1.2" height="1.2" fill="#a8b0c8"/><rect x="109.57" y="129.50" width="1.2" height="1.2" fill="#50608a"/><rect x="122.20" y="132.15" width="1.2" height="1.2" fill="#50608a"/><rect x="121.41" y="112.99" width="1.2" height="1.2" fill="#50608a"/><rect x="115.67" y="119.24" width="1.2" height="1.2" fill="#8898b8"/><rect x="114.41" y="124.16" width="1.2" height="1.2" fill="#6a78a4"/><rect x="107.94" y="109.64" width="1.2" height="1.2" fill="#6a78a4"/><rect x="110.86" y="122.50" width="1.2" height="1.2" fill="#9aa0c0"/><rect x="110.35" y="111.88" width="1.2" height="1.2" fill="#6a78a4"/><rect x="121.74" y="132.92" width="1.2" height="1.2" fill="#8898b8"/><rect x="116.96" y="126.00" width="1.2" height="1.2" fill="#a8b0c8"/><rect x="119.06" y="98.90" width="1.2" height="1.2" fill="#9aa0c0"/><rect x="106.41" y="120.51" width="1.2" height="1.2" fill="#9aa0c0"/><rect x="106.02" y="111.71" width="1.2" height="1.2" fill="#a0a8c4"/><rect x="105.69" y="115.17" width="1.2" height="1.2" fill="#8898b8"/><rect x="113.02" y="136.36" width="1.2" height="1.2" fill="#7888ac"/><rect x="119.45" y="98.67" width="1.2" height="1.2" fill="#8898b8"/><rect x="121.11" y="103.91" width="1.2" height="1.2" fill="#8898b8"/><rect x="118.97" y="107.52" width="1.2" height="1.2" fill="#404c78"/><rect x="110.26" y="122.12" width="1.2" height="1.2" fill="#8898b8"/><rect x="123.31" y="131.69" width="1.2" height="1.2" fill="#8898b8"/><rect x="122.66" y="107.56" width="1.2" height="1.2" fill="#404c78"/><rect x="117.40" y="116.72" width="1.2" height="1.2" fill="#6a78a4"/><rect x="115.58" y="126.35" width="1.2" height="1.2" fill="#a8b0c8"/><rect x="120.19" y="103.30" width="1.2" height="1.2" fill="#6a78a4"/><rect x="102.23" y="132.93" width="1.2" height="1.2" fill="#8898b8"/><rect x="120.64" y="117.69" width="1.2" height="1.2" fill="#7888ac"/><rect x="121.56" y="147.77" width="1.2" height="1.2" fill="#404c78"/><rect x="122.18" y="125.94" width="1.2" height="1.2" fill="#a0a8c4"/><rect x="123.95" y="100.21" width="1.2" height="1.2" fill="#404c78"/><rect x="118.15" y="127.94" width="1.2" height="1.2" fill="#a0a8c4"/><rect x="122.23" y="137.45" width="1.2" height="1.2" fill="#7888ac"/><rect x="120.46" y="120.97" width="1.2" height="1.2" fill="#a0a8c4"/><rect x="113.76" y="129.39" width="1.2" height="1.2" fill="#a0a8c4"/><rect x="119.72" y="130.93" width="1.2" height="1.2" fill="#a0a8c4"/><rect x="118.45" y="118.31" width="1.2" height="1.2" fill="#a0a8c4"/><rect x="112.79" y="132.70" width="1.2" height="1.2" fill="#404c78"/><rect x="120.37" y="101.95" width="1.2" height="1.2" fill="#9aa0c0"/><rect x="118.73" y="141.18" width="1.2" height="1.2" fill="#404c78"/><rect x="102.97" y="128.61" width="1.2" height="1.2" fill="#a0a8c4"/><rect x="122.68" y="131.21" width="1.2" height="1.2" fill="#9aa0c0"/><rect x="117.74" y="102.01" width="1.2" height="1.2" fill="#a0a8c4"/><rect x="105.95" y="124.52" width="1.2" height="1.2" fill="#404c78"/><rect x="110.17" y="136.07" width="1.2" height="1.2" fill="#9aa0c0"/><rect x="113.48" y="123.52" width="1.2" height="1.2" fill="#9aa0c0"/><rect x="113.44" y="105.78" width="1.2" height="1.2" fill="#a8b0c8"/><rect x="113.86" y="110.46" width="1.2" height="1.2" fill="#a0a8c4"/><rect x="108.96" y="119.59" width="1.2" height="1.2" fill="#404c78"/><rect x="118.81" y="112.69" width="1.2" height="1.2" fill="#50608a"/><rect x="116.30" y="104.52" width="1.2" height="1.2" fill="#6a78a4"/><rect x="116.44" y="105.42" width="1.2" height="1.2" fill="#a0a8c4"/><rect x="109.66" y="109.17" width="1.2" height="1.2" fill="#a8b0c8"/><rect x="112.42" y="132.84" width="1.2" height="1.2" fill="#404c78"/><rect x="112.39" y="147.16" width="1.2" height="1.2" fill="#a8b0c8"/><rect x="100.82" y="124.36" width="1.2" height="1.2" fill="#a0a8c4"/><rect x="109.42" y="138.75" width="1.2" height="1.2" fill="#a0a8c4"/><rect x="112.26" y="115.25" width="1.2" height="1.2" fill="#a0a8c4"/><rect x="104.31" y="119.15" width="1.2" height="1.2" fill="#7888ac"/><rect x="115.03" y="139.06" width="1.2" height="1.2" fill="#a0a8c4"/><rect x="122.53" y="104.59" width="1.2" height="1.2" fill="#a0a8c4"/><rect x="101.39" y="136.76" width="1.2" height="1.2" fill="#404c78"/><rect x="108.76" y="110.07" width="1.2" height="1.2" fill="#9aa0c0"/><rect x="109.61" y="135.11" width="1.2" height="1.2" fill="#a0a8c4"/><rect x="121.13" y="130.96" width="1.2" height="1.2" fill="#404c78"/><rect x="107.82" y="150.24" width="1.2" height="1.2" fill="#9aa0c0"/><rect x="111.45" y="116.63" width="1.2" height="1.2" fill="#6a78a4"/><rect x="114.98" y="110.09" width="1.2" height="1.2" fill="#a8b0c8"/><rect x="104.98" y="116.19" width="1.2" height="1.2" fill="#9aa0c0"/><rect x="122.96" y="96.63" width="1.2" height="1.2" fill="#8898b8"/><rect x="118.65" y="113.19" width="1.2" height="1.2" fill="#a0a8c4"/><rect x="110.13" y="145.46" width="1.2" height="1.2" fill="#404c78"/><rect x="121.29" y="121.22" width="1.2" height="1.2" fill="#7888ac"/><rect x="104.77" y="138.38" width="1.2" height="1.2" fill="#8898b8"/><rect x="116.22" y="143.78" width="1.2" height="1.2" fill="#404c78"/><rect x="121.79" y="106.74" width="1.2" height="1.2" fill="#9aa0c0"/><rect x="112.77" y="103.30" width="1.2" height="1.2" fill="#a0a8c4"/><rect x="112.64" y="120.34" width="1.2" height="1.2" fill="#50608a"/><rect x="112.21" y="112.08" width="1.2" height="1.2" fill="#a0a8c4"/><rect x="123.60" y="109.78" width="1.2" height="1.2" fill="#404c78"/><rect x="112.54" y="122.55" width="1.2" height="1.2" fill="#a8b0c8"/><rect x="117.65" y="106.72" width="1.2" height="1.2" fill="#9aa0c0"/><rect x="120.74" y="120.85" width="1.2" height="1.2" fill="#50608a"/><rect x="104.47" y="123.54" width="1.2" height="1.2" fill="#404c78"/><rect x="106.53" y="118.24" width="1.2" height="1.2" fill="#6a78a4"/><rect x="115.11" y="112.55" width="1.2" height="1.2" fill="#8898b8"/><rect x="112.77" y="124.60" width="1.2" height="1.2" fill="#6a78a4"/><rect x="99.60" y="149.52" width="1.2" height="1.2" fill="#9aa0c0"/><rect x="111.48" y="125.82" width="1.2" height="1.2" fill="#404c78"/><rect x="109.53" y="119.30" width="1.2" height="1.2" fill="#8898b8"/><rect x="123.12" y="128.69" width="1.2" height="1.2" fill="#404c78"/><rect x="107.18" y="145.77" width="1.2" height="1.2" fill="#9aa0c0"/><rect x="120.74" y="120.90" width="1.2" height="1.2" fill="#a8b0c8"/><rect x="111.23" y="123.49" width="1.2" height="1.2" fill="#6a78a4"/><rect x="120.23" y="123.95" width="1.2" height="1.2" fill="#8898b8"/><rect x="121.54" y="131.86" width="1.2" height="1.2" fill="#a0a8c4"/><rect x="112.55" y="147.00" width="1.2" height="1.2" fill="#6a78a4"/><rect x="108.00" y="128.37" width="1.2" height="1.2" fill="#9aa0c0"/><rect x="123.28" y="124.25" width="1.2" height="1.2" fill="#404c78"/><rect x="113.82" y="121.06" width="1.2" height="1.2" fill="#8898b8"/><rect x="121.46" y="109.64" width="1.2" height="1.2" fill="#6a78a4"/><rect x="109.05" y="137.73" width="1.2" height="1.2" fill="#404c78"/><rect x="118.34" y="108.02" width="1.2" height="1.2" fill="#a0a8c4"/><rect x="103.70" y="114.38" width="1.2" height="1.2" fill="#a0a8c4"/><rect x="123.95" y="108.34" width="1.2" height="1.2" fill="#7888ac"/><rect x="110.42" y="125.76" width="1.2" height="1.2" fill="#6a78a4"/><rect x="104.65" y="124.04" width="1.2" height="1.2" fill="#8898b8"/><rect x="104.75" y="135.25" width="1.2" height="1.2" fill="#9aa0c0"/><rect x="118.91" y="136.02" width="1.2" height="1.2" fill="#50608a"/><rect x="106.26" y="126.08" width="1.2" height="1.2" fill="#a0a8c4"/><rect x="104.22" y="116.83" width="1.2" height="1.2" fill="#8898b8"/><rect x="118.77" y="125.79" width="1.2" height="1.2" fill="#8898b8"/><rect x="118.08" y="127.40" width="1.2" height="1.2" fill="#404c78"/><rect x="120.93" y="132.74" width="1.2" height="1.2" fill="#8898b8"/><rect x="106.38" y="123.68" width="1.2" height="1.2" fill="#9aa0c0"/><rect x="113.54" y="124.70" width="1.2" height="1.2" fill="#404c78"/><rect x="111.44" y="122.39" width="1.2" height="1.2" fill="#6a78a4"/><rect x="102.55" y="146.05" width="1.2" height="1.2" fill="#8898b8"/><rect x="101.81" y="122.61" width="1.2" height="1.2" fill="#50608a"/><rect x="113.01" y="110.95" width="1.2" height="1.2" fill="#8898b8"/><rect x="112.49" y="118.34" width="1.2" height="1.2" fill="#9aa0c0"/><rect x="119.89" y="110.90" width="1.2" height="1.2" fill="#7888ac"/><rect x="110.20" y="126.87" width="1.2" height="1.2" fill="#8898b8"/><rect x="119.28" y="130.52" width="1.2" height="1.2" fill="#404c78"/><rect x="116.52" y="127.08" width="1.2" height="1.2" fill="#6a78a4"/><rect x="112.65" y="144.47" width="1.2" height="1.2" fill="#50608a"/><rect x="120.68" y="100.95" width="1.2" height="1.2" fill="#8898b8"/><rect x="105.81" y="140.85" width="1.2" height="1.2" fill="#a0a8c4"/><rect x="119.99" y="120.11" width="1.2" height="1.2" fill="#6a78a4"/><rect x="105.55" y="141.73" width="1.2" height="1.2" fill="#8898b8"/><rect x="119.41" y="135.66" width="1.2" height="1.2" fill="#50608a"/><rect x="121.47" y="134.61" width="1.2" height="1.2" fill="#404c78"/><rect x="109.19" y="119.31" width="1.2" height="1.2" fill="#404c78"/><rect x="119.29" y="102.99" width="1.2" height="1.2" fill="#6a78a4"/><rect x="122.59" y="98.91" width="1.2" height="1.2" fill="#7888ac"/><rect x="122.47" y="98.87" width="1.2" height="1.2" fill="#9aa0c0"/><rect x="115.31" y="109.50" width="1.2" height="1.2" fill="#50608a"/><rect x="111.38" y="116.26" width="1.2" height="1.2" fill="#404c78"/><rect x="113.46" y="136.49" width="1.2" height="1.2" fill="#a0a8c4"/><rect x="113.94" y="132.20" width="1.2" height="1.2" fill="#8898b8"/><rect x="101.44" y="119.15" width="1.2" height="1.2" fill="#7888ac"/><rect x="105.59" y="146.90" width="1.2" height="1.2" fill="#a0a8c4"/><rect x="118.56" y="137.23" width="1.2" height="1.2" fill="#7888ac"/><rect x="112.75" y="107.22" width="1.2" height="1.2" fill="#a0a8c4"/><rect x="123.06" y="111.80" width="1.2" height="1.2" fill="#9aa0c0"/><rect x="109.95" y="113.49" width="1.2" height="1.2" fill="#8898b8"/><rect x="100.14" y="150.32" width="1.2" height="1.2" fill="#50608a"/><rect x="121.71" y="113.40" width="1.2" height="1.2" fill="#404c78"/><rect x="106.54" y="111.33" width="1.2" height="1.2" fill="#8898b8"/><rect x="117.43" y="126.63" width="1.2" height="1.2" fill="#a0a8c4"/><rect x="102.72" y="112.65" width="1.2" height="1.2" fill="#7888ac"/><rect x="114.05" y="125.96" width="1.2" height="1.2" fill="#a8b0c8"/><rect x="100.14" y="126.75" width="1.2" height="1.2" fill="#9aa0c0"/><rect x="111.92" y="122.11" width="1.2" height="1.2" fill="#9aa0c0"/><rect x="106.79" y="118.81" width="1.2" height="1.2" fill="#8898b8"/><rect x="115.60" y="111.79" width="1.2" height="1.2" fill="#8898b8"/><rect x="108.68" y="113.59" width="1.2" height="1.2" fill="#404c78"/><rect x="107.34" y="113.14" width="1.2" height="1.2" fill="#6a78a4"/><rect x="102.41" y="122.25" width="1.2" height="1.2" fill="#6a78a4"/><rect x="111.50" y="147.93" width="1.2" height="1.2" fill="#404c78"/><rect x="124.38" y="89.62" width="1.2" height="1.2" fill="#6a78a4"/><rect x="101.79" y="122.70" width="1.2" height="1.2" fill="#8a80c0"/><rect x="102.24" y="122.71" width="1.2" height="1.2" fill="#8a80c0"/><rect x="98.43" y="130.26" width="1.2" height="1.2" fill="#6a70b0"/><rect x="101.71" y="141.36" width="1.2" height="1.2" fill="#6a70b0"/><rect x="100.14" y="143.05" width="1.2" height="1.2" fill="#7a6ab0"/><rect x="100.53" y="122.09" width="1.2" height="1.2" fill="#9a90c8"/><rect x="100.75" y="123.25" width="1.2" height="1.2" fill="#6a70b0"/><rect x="101.32" y="115.82" width="1.2" height="1.2" fill="#9a90c8"/><rect x="98.67" y="146.68" width="1.2" height="1.2" fill="#7a6ab0"/><rect x="101.91" y="132.00" width="1.2" height="1.2" fill="#5a68a8"/><rect x="101.67" y="119.14" width="1.2" height="1.2" fill="#9a90c8"/><rect x="99.22" y="154.09" width="1.2" height="1.2" fill="#6a70b0"/><rect x="98.84" y="126.50" width="1.2" height="1.2" fill="#8a80c0"/><rect x="97.77" y="142.58" width="1.2" height="1.2" fill="#7a6ab0"/><rect x="100.77" y="138.59" width="1.2" height="1.2" fill="#9a90c8"/><rect x="100.72" y="142.24" width="1.2" height="1.2" fill="#9a90c8"/><rect x="100.69" y="123.83" width="1.2" height="1.2" fill="#6a70b0"/><rect x="102.24" y="149.61" width="1.2" height="1.2" fill="#5a68a8"/><rect x="99.11" y="130.59" width="1.2" height="1.2" fill="#7a6ab0"/><rect x="99.73" y="117.68" width="1.2" height="1.2" fill="#6a70b0"/><rect x="102.13" y="127.88" width="1.2" height="1.2" fill="#7a6ab0"/><rect x="101.01" y="136.13" width="1.2" height="1.2" fill="#6a70b0"/><rect x="102.17" y="140.61" width="1.2" height="1.2" fill="#7a6ab0"/><rect x="102.04" y="114.27" width="1.2" height="1.2" fill="#9a90c8"/><rect x="100.22" y="118.85" width="1.2" height="1.2" fill="#7a6ab0"/><rect x="101.38" y="124.06" width="1.2" height="1.2" fill="#7a6ab0"/><rect x="101.41" y="130.26" width="1.2" height="1.2" fill="#8a80c0"/><rect x="101.02" y="139.86" width="1.2" height="1.2" fill="#5a68a8"/><rect x="98.65" y="138.65" width="1.2" height="1.2" fill="#6a70b0"/><rect x="100.77" y="119.50" width="1.2" height="1.2" fill="#6a70b0"/><rect x="101.20" y="118.41" width="1.2" height="1.2" fill="#9a90c8"/><rect x="102.88" y="138.53" width="1.2" height="1.2" fill="#8a80c0"/><rect x="100.56" y="137.86" width="1.2" height="1.2" fill="#6a70b0"/><rect x="101.11" y="146.78" width="1.2" height="1.2" fill="#6a70b0"/><rect x="101.42" y="134.38" width="1.2" height="1.2" fill="#8a80c0"/><rect x="98.55" y="138.70" width="1.2" height="1.2" fill="#9a90c8"/><rect x="98.58" y="130.52" width="1.2" height="1.2" fill="#7a6ab0"/><rect x="99.56" y="122.51" width="1.2" height="1.2" fill="#5a68a8"/><rect x="100.87" y="167.51" width="1.2" height="1.2" fill="#8a80c0"/><rect x="99.04" y="169.11" width="1.2" height="1.2" fill="#9a90c8"/><rect x="100.31" y="156.12" width="1.2" height="1.2" fill="#9a90c8"/><rect x="100.98" y="168.06" width="1.2" height="1.2" fill="#5a68a8"/><rect x="100.27" y="158.91" width="1.2" height="1.2" fill="#6a70b0"/><rect x="99.86" y="171.50" width="1.2" height="1.2" fill="#5a68a8"/><rect x="101.15" y="162.57" width="1.2" height="1.2" fill="#5a68a8"/><rect x="101.95" y="162.76" width="1.2" height="1.2" fill="#5a68a8"/><rect x="99.26" y="171.96" width="1.2" height="1.2" fill="#6a70b0"/><rect x="98.91" y="164.61" width="1.2" height="1.2" fill="#5a68a8"/><rect x="98.95" y="167.43" width="1.2" height="1.2" fill="#9a90c8"/><rect x="100.40" y="164.11" width="1.2" height="1.2" fill="#5a68a8"/></g>
<rect x="66.60" y="24.30" width="190.30" height="190.00" fill="none" stroke="#000" stroke-width="1.3"/>
<text x="70.20" y="47.30" font-size="7.6" text-anchor="start" fill="#1a1a1a" stroke="#1a1a1a" >G1</text>
<text x="70.20" y="56.00" font-size="7.6" text-anchor="start" fill="#8e3a7c" stroke="#8e3a7c" >28.9</text>
<text x="187.90" y="47.30" font-size="7.6" text-anchor="start" fill="#1a1a1a" stroke="#1a1a1a" >S-G2-M</text>
<text x="188.20" y="56.20" font-size="7.6" text-anchor="start" fill="#8e3a7c" stroke="#8e3a7c" >11.8</text>
<text x="70.20" y="191.30" font-size="7.6" text-anchor="start" fill="#1a1a1a" stroke="#1a1a1a" >G0</text>
<text x="70.20" y="199.90" font-size="7.6" text-anchor="start" fill="#8e3a7c" stroke="#8e3a7c" >59.3</text>
<text x="59.10" y="176.00" font-size="7.8" text-anchor="end" fill="#1a1a1a" stroke="#1a1a1a">10<tspan font-size="4.6" dy="-3.2">2</tspan></text>
<text x="59.10" y="130.40" font-size="7.8" text-anchor="end" fill="#1a1a1a" stroke="#1a1a1a">10<tspan font-size="4.6" dy="-3.2">3</tspan></text>
<text x="59.10" y="86.20" font-size="7.8" text-anchor="end" fill="#1a1a1a" stroke="#1a1a1a">10<tspan font-size="4.6" dy="-3.2">4</tspan></text>
<text x="59.10" y="44.30" font-size="7.8" text-anchor="end" fill="#1a1a1a" stroke="#1a1a1a">10<tspan font-size="4.6" dy="-3.2">5</tspan></text>
<text x="60.20" y="198.40" font-size="7.8" text-anchor="end" fill="#1a1a1a" stroke="#1a1a1a" >0</text>
<text x="66.60" y="227.50" font-size="8.0" text-anchor="middle" fill="#1a1a1a" stroke="#1a1a1a" >0</text>
<text x="102.90" y="227.50" font-size="8.0" text-anchor="middle" fill="#1a1a1a" stroke="#1a1a1a" >50k</text>
<text x="139.19" y="227.50" font-size="8.0" text-anchor="middle" fill="#1a1a1a" stroke="#1a1a1a" >100k</text>
<text x="175.49" y="227.50" font-size="8.0" text-anchor="middle" fill="#1a1a1a" stroke="#1a1a1a" >150k</text>
<text x="211.79" y="227.50" font-size="8.0" text-anchor="middle" fill="#1a1a1a" stroke="#1a1a1a" >200k</text>
<text x="248.08" y="227.50" font-size="8.0" text-anchor="middle" fill="#1a1a1a" stroke="#1a1a1a" >250k</text>
<text x="162.25" y="241.30" font-size="9.8" text-anchor="middle" fill="#1a1a1a" stroke="#1a1a1a" textLength="58.2" lengthAdjust="spacingAndGlyphs">Hoechst 33342</text>
<text transform="translate(41.70,119.10) rotate(-90)" font-size="10.2" text-anchor="middle" textLength="17.6" lengthAdjust="spacingAndGlyphs" fill="#1a1a1a" stroke="#1a1a1a">Ki67</text>
<text x="33.50" y="31.30" font-size="9.4" text-anchor="start" fill="#1a1a1a" stroke="#1a1a1a" >(i)</text>
<line x1="304.70" y1="173.90" x2="307.30" y2="173.90" stroke="#111" stroke-width="1.1"/>
<line x1="305.70" y1="160.17" x2="307.30" y2="160.17" stroke="#111" stroke-width="0.9"/>
<line x1="305.70" y1="152.14" x2="307.30" y2="152.14" stroke="#111" stroke-width="0.9"/>
<line x1="305.70" y1="146.45" x2="307.30" y2="146.45" stroke="#111" stroke-width="0.9"/>
<line x1="305.70" y1="142.03" x2="307.30" y2="142.03" stroke="#111" stroke-width="0.9"/>
<line x1="305.70" y1="138.42" x2="307.30" y2="138.42" stroke="#111" stroke-width="0.9"/>
<line x1="305.70" y1="135.36" x2="307.30" y2="135.36" stroke="#111" stroke-width="0.9"/>
<line x1="305.70" y1="132.72" x2="307.30" y2="132.72" stroke="#111" stroke-width="0.9"/>
<line x1="305.70" y1="130.39" x2="307.30" y2="130.39" stroke="#111" stroke-width="0.9"/>
<line x1="304.70" y1="128.30" x2="307.30" y2="128.30" stroke="#111" stroke-width="1.1"/>
<line x1="305.70" y1="114.99" x2="307.30" y2="114.99" stroke="#111" stroke-width="0.9"/>
<line x1="305.70" y1="107.21" x2="307.30" y2="107.21" stroke="#111" stroke-width="0.9"/>
<line x1="305.70" y1="101.69" x2="307.30" y2="101.69" stroke="#111" stroke-width="0.9"/>
<line x1="305.70" y1="97.41" x2="307.30" y2="97.41" stroke="#111" stroke-width="0.9"/>
<line x1="305.70" y1="93.91" x2="307.30" y2="93.91" stroke="#111" stroke-width="0.9"/>
<line x1="305.70" y1="90.95" x2="307.30" y2="90.95" stroke="#111" stroke-width="0.9"/>
<line x1="305.70" y1="88.38" x2="307.30" y2="88.38" stroke="#111" stroke-width="0.9"/>
<line x1="305.70" y1="86.12" x2="307.30" y2="86.12" stroke="#111" stroke-width="0.9"/>
<line x1="304.70" y1="84.10" x2="307.30" y2="84.10" stroke="#111" stroke-width="1.1"/>
<line x1="305.70" y1="71.49" x2="307.30" y2="71.49" stroke="#111" stroke-width="0.9"/>
<line x1="305.70" y1="64.11" x2="307.30" y2="64.11" stroke="#111" stroke-width="0.9"/>
<line x1="305.70" y1="58.87" x2="307.30" y2="58.87" stroke="#111" stroke-width="0.9"/>
<line x1="305.70" y1="54.81" x2="307.30" y2="54.81" stroke="#111" stroke-width="0.9"/>
<line x1="305.70" y1="51.50" x2="307.30" y2="51.50" stroke="#111" stroke-width="0.9"/>
<line x1="305.70" y1="48.69" x2="307.30" y2="48.69" stroke="#111" stroke-width="0.9"/>
<line x1="305.70" y1="46.26" x2="307.30" y2="46.26" stroke="#111" stroke-width="0.9"/>
<line x1="305.70" y1="44.12" x2="307.30" y2="44.12" stroke="#111" stroke-width="0.9"/>
<line x1="304.70" y1="42.20" x2="307.30" y2="42.20" stroke="#111" stroke-width="1.1"/>
<line x1="305.70" y1="29.59" x2="307.30" y2="29.59" stroke="#111" stroke-width="0.9"/>
<line x1="304.70" y1="195.70" x2="307.30" y2="195.70" stroke="#111" stroke-width="1.1"/>
<line x1="305.70" y1="176.70" x2="307.30" y2="176.70" stroke="#111" stroke-width="0.9"/>
<line x1="305.70" y1="180.70" x2="307.30" y2="180.70" stroke="#111" stroke-width="0.9"/>
<line x1="305.70" y1="184.70" x2="307.30" y2="184.70" stroke="#111" stroke-width="0.9"/>
<line x1="305.70" y1="188.20" x2="307.30" y2="188.20" stroke="#111" stroke-width="0.9"/>
<line x1="305.70" y1="191.90" x2="307.30" y2="191.90" stroke="#111" stroke-width="0.9"/>
<line x1="305.70" y1="199.50" x2="307.30" y2="199.50" stroke="#111" stroke-width="0.9"/>
<line x1="305.70" y1="203.30" x2="307.30" y2="203.30" stroke="#111" stroke-width="0.9"/>
<line x1="305.70" y1="207.20" x2="307.30" y2="207.20" stroke="#111" stroke-width="0.9"/>
<line x1="305.70" y1="211.20" x2="307.30" y2="211.20" stroke="#111" stroke-width="0.9"/>
<line x1="307.30" y1="214.30" x2="307.30" y2="217.10" stroke="#111" stroke-width="1.0"/>
<line x1="314.56" y1="214.30" x2="314.56" y2="216.00" stroke="#111" stroke-width="0.9"/>
<line x1="321.82" y1="214.30" x2="321.82" y2="216.00" stroke="#111" stroke-width="0.9"/>
<line x1="329.08" y1="214.30" x2="329.08" y2="216.00" stroke="#111" stroke-width="0.9"/>
<line x1="336.34" y1="214.30" x2="336.34" y2="216.00" stroke="#111" stroke-width="0.9"/>
<line x1="343.60" y1="214.30" x2="343.60" y2="217.10" stroke="#111" stroke-width="1.0"/>
<line x1="350.86" y1="214.30" x2="350.86" y2="216.00" stroke="#111" stroke-width="0.9"/>
<line x1="358.12" y1="214.30" x2="358.12" y2="216.00" stroke="#111" stroke-width="0.9"/>
<line x1="365.37" y1="214.30" x2="365.37" y2="216.00" stroke="#111" stroke-width="0.9"/>
<line x1="372.63" y1="214.30" x2="372.63" y2="216.00" stroke="#111" stroke-width="0.9"/>
<line x1="379.89" y1="214.30" x2="379.89" y2="217.10" stroke="#111" stroke-width="1.0"/>
<line x1="387.15" y1="214.30" x2="387.15" y2="216.00" stroke="#111" stroke-width="0.9"/>
<line x1="394.41" y1="214.30" x2="394.41" y2="216.00" stroke="#111" stroke-width="0.9"/>
<line x1="401.67" y1="214.30" x2="401.67" y2="216.00" stroke="#111" stroke-width="0.9"/>
<line x1="408.93" y1="214.30" x2="408.93" y2="216.00" stroke="#111" stroke-width="0.9"/>
<line x1="416.19" y1="214.30" x2="416.19" y2="217.10" stroke="#111" stroke-width="1.0"/>
<line x1="423.45" y1="214.30" x2="423.45" y2="216.00" stroke="#111" stroke-width="0.9"/>
<line x1="430.71" y1="214.30" x2="430.71" y2="216.00" stroke="#111" stroke-width="0.9"/>
<line x1="437.97" y1="214.30" x2="437.97" y2="216.00" stroke="#111" stroke-width="0.9"/>
<line x1="445.23" y1="214.30" x2="445.23" y2="216.00" stroke="#111" stroke-width="0.9"/>
<line x1="452.49" y1="214.30" x2="452.49" y2="217.10" stroke="#111" stroke-width="1.0"/>
<line x1="459.75" y1="214.30" x2="459.75" y2="216.00" stroke="#111" stroke-width="0.9"/>
<line x1="467.01" y1="214.30" x2="467.01" y2="216.00" stroke="#111" stroke-width="0.9"/>
<line x1="474.27" y1="214.30" x2="474.27" y2="216.00" stroke="#111" stroke-width="0.9"/>
<line x1="481.52" y1="214.30" x2="481.52" y2="216.00" stroke="#111" stroke-width="0.9"/>
<line x1="488.78" y1="214.30" x2="488.78" y2="217.10" stroke="#111" stroke-width="1.0"/>
<line x1="496.04" y1="214.30" x2="496.04" y2="216.00" stroke="#111" stroke-width="0.9"/>
<rect x="339" y="24.30" width="1" height="190.00" fill="#f2e4ec" shape-rendering="crispEdges"/>
<rect x="340" y="24.30" width="1" height="190.00" fill="#b080a0" shape-rendering="crispEdges"/>
<rect x="341" y="24.30" width="1" height="190.00" fill="#e8d4e0" shape-rendering="crispEdges"/>
<rect x="307.30" y="154" width="190.30" height="1" fill="#f5e8f0" shape-rendering="crispEdges"/>
<rect x="307.30" y="155" width="190.30" height="1" fill="#b68ca8" shape-rendering="crispEdges"/>
<rect x="307.30" y="156" width="190.30" height="1" fill="#f3e8ef" shape-rendering="crispEdges"/>
<g><rect x="336.51" y="117.70" width="1.2" height="1.2" fill="#3a60a8"/><rect x="336.23" y="108.18" width="1.2" height="1.2" fill="#4a70b0"/><rect x="336.03" y="114.18" width="1.2" height="1.2" fill="#7a78b0"/><rect x="335.82" y="105.80" width="1.2" height="1.2" fill="#3a60a8"/><rect x="336.67" y="111.70" width="1.2" height="1.2" fill="#6a88b8"/><rect x="336.87" y="115.26" width="1.2" height="1.2" fill="#7a78b0"/><rect x="335.63" y="117.59" width="1.2" height="1.2" fill="#5a80b8"/><rect x="336.11" y="116.82" width="1.2" height="1.2" fill="#3a60a8"/><rect x="337.57" y="108.22" width="1.2" height="1.2" fill="#6a88b8"/><rect x="335.72" y="116.67" width="1.2" height="1.2" fill="#7a78b0"/><rect x="336.50" y="105.03" width="1.2" height="1.2" fill="#4a70b0"/><rect x="336.72" y="107.60" width="1.2" height="1.2" fill="#4a70b0"/><rect x="335.81" y="110.56" width="1.2" height="1.2" fill="#7a78b0"/><rect x="336.89" y="105.31" width="1.2" height="1.2" fill="#6a88b8"/><rect x="336.16" y="115.15" width="1.2" height="1.2" fill="#5a80b8"/><rect x="334.91" y="115.04" width="1.2" height="1.2" fill="#5a80b8"/><rect x="336.74" y="108.19" width="1.2" height="1.2" fill="#6a88b8"/><rect x="335.76" y="113.84" width="1.2" height="1.2" fill="#6a88b8"/><rect x="336.30" y="112.88" width="1.2" height="1.2" fill="#6a88b8"/><rect x="336.82" y="110.41" width="1.2" height="1.2" fill="#5a80b8"/><rect x="334.64" y="142.88" width="1.2" height="1.2" fill="#40a0c8"/><rect x="336.79" y="139.41" width="1.2" height="1.2" fill="#60c0e0"/><rect x="335.74" y="145.18" width="1.2" height="1.2" fill="#40a0c8"/><rect x="336.35" y="148.54" width="1.2" height="1.2" fill="#48b0d0"/><rect x="335.27" y="150.84" width="1.2" height="1.2" fill="#3a88c0"/><rect x="335.38" y="129.85" width="1.2" height="1.2" fill="#60c0e0"/><rect x="335.19" y="139.20" width="1.2" height="1.2" fill="#3a88c0"/><rect x="336.25" y="129.94" width="1.2" height="1.2" fill="#48b0d0"/><rect x="335.49" y="136.49" width="1.2" height="1.2" fill="#50b8d8"/><rect x="337.20" y="147.42" width="1.2" height="1.2" fill="#40a0c8"/><rect x="336.74" y="145.26" width="1.2" height="1.2" fill="#50b8d8"/><rect x="336.01" y="120.57" width="1.2" height="1.2" fill="#50b8d8"/><rect x="336.54" y="128.50" width="1.2" height="1.2" fill="#50b8d8"/><rect x="337.92" y="146.31" width="1.2" height="1.2" fill="#48b0d0"/><rect x="336.32" y="150.00" width="1.2" height="1.2" fill="#50b8d8"/><rect x="336.85" y="134.05" width="1.2" height="1.2" fill="#50b8d8"/><rect x="335.91" y="120.50" width="1.2" height="1.2" fill="#50b8d8"/><rect x="336.77" y="121.47" width="1.2" height="1.2" fill="#50b8d8"/><rect x="336.28" y="119.34" width="1.2" height="1.2" fill="#40a0c8"/><rect x="336.14" y="123.13" width="1.2" height="1.2" fill="#48b0d0"/><rect x="336.25" y="145.59" width="1.2" height="1.2" fill="#60c0e0"/><rect x="336.29" y="120.00" width="1.2" height="1.2" fill="#48b0d0"/><rect x="337.02" y="124.00" width="1.2" height="1.2" fill="#60c0e0"/><rect x="336.47" y="141.63" width="1.2" height="1.2" fill="#50b8d8"/><rect x="335.61" y="128.98" width="1.2" height="1.2" fill="#60c0e0"/><rect x="336.35" y="146.74" width="1.2" height="1.2" fill="#50b8d8"/><rect x="336.36" y="151.77" width="1.2" height="1.2" fill="#48b0d0"/><rect x="334.71" y="135.89" width="1.2" height="1.2" fill="#48b0d0"/><rect x="335.71" y="121.86" width="1.2" height="1.2" fill="#50b8d8"/><rect x="334.89" y="134.97" width="1.2" height="1.2" fill="#48b0d0"/><rect x="336.48" y="137.58" width="1.2" height="1.2" fill="#40a0c8"/><rect x="335.39" y="123.72" width="1.2" height="1.2" fill="#40a0c8"/><rect x="335.64" y="127.99" width="1.2" height="1.2" fill="#50b8d8"/><rect x="335.78" y="144.28" width="1.2" height="1.2" fill="#48b0d0"/><rect x="336.29" y="143.21" width="1.2" height="1.2" fill="#48b0d0"/><rect x="336.73" y="121.95" width="1.2" height="1.2" fill="#48b0d0"/><rect x="338.16" y="137.21" width="1.2" height="1.2" fill="#48b0d0"/><rect x="336.11" y="127.00" width="1.2" height="1.2" fill="#3a88c0"/><rect x="336.80" y="121.12" width="1.2" height="1.2" fill="#60c0e0"/><rect x="336.58" y="144.65" width="1.2" height="1.2" fill="#40a0c8"/><rect x="336.06" y="143.73" width="1.2" height="1.2" fill="#48b0d0"/><rect x="337.61" y="119.71" width="1.2" height="1.2" fill="#3a88c0"/><rect x="335.96" y="124.33" width="1.2" height="1.2" fill="#50b8d8"/><rect x="336.27" y="122.09" width="1.2" height="1.2" fill="#48b0d0"/><rect x="336.44" y="146.17" width="1.2" height="1.2" fill="#3a88c0"/><rect x="336.41" y="135.19" width="1.2" height="1.2" fill="#60c0e0"/><rect x="336.71" y="142.15" width="1.2" height="1.2" fill="#48b0d0"/><rect x="337.99" y="145.37" width="1.2" height="1.2" fill="#3a88c0"/><rect x="337.36" y="134.15" width="1.2" height="1.2" fill="#3a88c0"/><rect x="336.44" y="152.77" width="1.2" height="1.2" fill="#60c0e0"/><rect x="337.50" y="125.11" width="1.2" height="1.2" fill="#40a0c8"/><rect x="337.10" y="119.12" width="1.2" height="1.2" fill="#50b8d8"/><rect x="335.74" y="140.99" width="1.2" height="1.2" fill="#40a0c8"/><rect x="338.52" y="129.81" width="1.2" height="1.2" fill="#3a88c0"/><rect x="335.77" y="122.14" width="1.2" height="1.2" fill="#50b8d8"/><rect x="337.74" y="148.45" width="1.2" height="1.2" fill="#50b8d8"/><rect x="335.76" y="133.59" width="1.2" height="1.2" fill="#60c0e0"/><rect x="336.35" y="141.10" width="1.2" height="1.2" fill="#50b8d8"/><rect x="334.99" y="128.92" width="1.2" height="1.2" fill="#50b8d8"/><rect x="337.64" y="126.51" width="1.2" height="1.2" fill="#3a88c0"/><rect x="335.58" y="125.52" width="1.2" height="1.2" fill="#3a88c0"/><rect x="335.95" y="123.57" width="1.2" height="1.2" fill="#40a0c8"/><rect x="336.59" y="133.02" width="1.2" height="1.2" fill="#50b8d8"/><rect x="336.58" y="141.21" width="1.2" height="1.2" fill="#40a0c8"/><rect x="337.49" y="142.12" width="1.2" height="1.2" fill="#50b8d8"/><rect x="335.99" y="141.27" width="1.2" height="1.2" fill="#3a88c0"/><rect x="336.14" y="147.16" width="1.2" height="1.2" fill="#40a0c8"/><rect x="335.37" y="153.91" width="1.2" height="1.2" fill="#48b0d0"/><rect x="336.18" y="147.95" width="1.2" height="1.2" fill="#3a88c0"/><rect x="337.27" y="145.02" width="1.2" height="1.2" fill="#3a88c0"/><rect x="336.65" y="152.89" width="1.2" height="1.2" fill="#48b0d0"/><rect x="335.72" y="124.19" width="1.2" height="1.2" fill="#60c0e0"/><rect x="335.22" y="128.00" width="1.2" height="1.2" fill="#50b8d8"/><rect x="336.83" y="140.08" width="1.2" height="1.2" fill="#60c0e0"/><rect x="334.57" y="121.95" width="1.2" height="1.2" fill="#48b0d0"/><rect x="338.50" y="148.23" width="1.2" height="1.2" fill="#50b8d8"/><rect x="337.33" y="147.95" width="1.2" height="1.2" fill="#50b8d8"/><rect x="335.66" y="123.16" width="1.2" height="1.2" fill="#40a0c8"/><rect x="335.87" y="132.85" width="1.2" height="1.2" fill="#40a0c8"/><rect x="334.69" y="134.64" width="1.2" height="1.2" fill="#60c0e0"/><rect x="337.61" y="129.02" width="1.2" height="1.2" fill="#3a88c0"/><rect x="338.25" y="121.96" width="1.2" height="1.2" fill="#60c0e0"/><rect x="335.81" y="127.60" width="1.2" height="1.2" fill="#48b0d0"/><rect x="336.26" y="135.45" width="1.2" height="1.2" fill="#48b0d0"/><rect x="337.70" y="133.35" width="1.2" height="1.2" fill="#60c0e0"/><rect x="336.26" y="145.37" width="1.2" height="1.2" fill="#3a88c0"/><rect x="337.36" y="134.72" width="1.2" height="1.2" fill="#48b0d0"/><rect x="336.50" y="132.94" width="1.2" height="1.2" fill="#50b8d8"/><rect x="335.26" y="136.25" width="1.2" height="1.2" fill="#3a88c0"/><rect x="337.01" y="144.50" width="1.2" height="1.2" fill="#3a88c0"/><rect x="335.09" y="131.72" width="1.2" height="1.2" fill="#50b8d8"/><rect x="335.93" y="146.58" width="1.2" height="1.2" fill="#48b0d0"/><rect x="336.86" y="138.12" width="1.2" height="1.2" fill="#3a88c0"/><rect x="337.66" y="154.56" width="1.2" height="1.2" fill="#50b8d8"/><rect x="334.58" y="129.98" width="1.2" height="1.2" fill="#3a88c0"/><rect x="336.04" y="142.45" width="1.2" height="1.2" fill="#50b8d8"/><rect x="337.51" y="119.03" width="1.2" height="1.2" fill="#60c0e0"/><rect x="335.85" y="132.67" width="1.2" height="1.2" fill="#48b0d0"/><rect x="337.49" y="151.13" width="1.2" height="1.2" fill="#48b0d0"/><rect x="337.17" y="128.55" width="1.2" height="1.2" fill="#60c0e0"/><rect x="335.20" y="139.87" width="1.2" height="1.2" fill="#50b8d8"/><rect x="336.37" y="141.06" width="1.2" height="1.2" fill="#3a88c0"/><rect x="335.81" y="136.24" width="1.2" height="1.2" fill="#48b0d0"/><rect x="336.26" y="154.38" width="1.2" height="1.2" fill="#50b8d8"/><rect x="337.12" y="131.36" width="1.2" height="1.2" fill="#50b8d8"/><rect x="335.75" y="146.32" width="1.2" height="1.2" fill="#3a88c0"/><rect x="337.08" y="152.62" width="1.2" height="1.2" fill="#60c0e0"/><rect x="335.88" y="135.43" width="1.2" height="1.2" fill="#50b8d8"/><rect x="335.52" y="141.10" width="1.2" height="1.2" fill="#3a88c0"/><rect x="337.40" y="127.85" width="1.2" height="1.2" fill="#48b0d0"/><rect x="333.80" y="120.40" width="1.2" height="1.2" fill="#40a0c8"/><rect x="336.31" y="124.17" width="1.2" height="1.2" fill="#40a0c8"/><rect x="337.05" y="139.02" width="1.2" height="1.2" fill="#60c0e0"/><rect x="336.14" y="149.85" width="1.2" height="1.2" fill="#60c0e0"/><rect x="336.77" y="134.78" width="1.2" height="1.2" fill="#48b0d0"/><rect x="335.80" y="136.30" width="1.2" height="1.2" fill="#60c0e0"/><rect x="336.10" y="144.71" width="1.2" height="1.2" fill="#40a0c8"/><rect x="336.88" y="129.65" width="1.2" height="1.2" fill="#40a0c8"/><rect x="335.10" y="142.58" width="1.2" height="1.2" fill="#50b8d8"/><rect x="337.26" y="137.21" width="1.2" height="1.2" fill="#48b0d0"/><rect x="334.77" y="132.87" width="1.2" height="1.2" fill="#60c0e0"/><rect x="336.00" y="141.67" width="1.2" height="1.2" fill="#40a0c8"/><rect x="337.28" y="119.92" width="1.2" height="1.2" fill="#60c0e0"/><rect x="335.98" y="128.67" width="1.2" height="1.2" fill="#50b8d8"/><rect x="336.63" y="122.54" width="1.2" height="1.2" fill="#40a0c8"/><rect x="335.59" y="126.31" width="1.2" height="1.2" fill="#40a0c8"/><rect x="335.83" y="121.26" width="1.2" height="1.2" fill="#3a88c0"/><rect x="336.43" y="150.57" width="1.2" height="1.2" fill="#3a88c0"/><rect x="337.06" y="151.50" width="1.2" height="1.2" fill="#48b0d0"/><rect x="335.89" y="152.80" width="1.2" height="1.2" fill="#40a0c8"/><rect x="336.99" y="124.28" width="1.2" height="1.2" fill="#40a0c8"/><rect x="335.72" y="125.26" width="1.2" height="1.2" fill="#48b0d0"/><rect x="336.45" y="147.82" width="1.2" height="1.2" fill="#3a88c0"/><rect x="337.75" y="133.21" width="1.2" height="1.2" fill="#40a0c8"/><rect x="336.10" y="128.79" width="1.2" height="1.2" fill="#60c0e0"/><rect x="335.24" y="143.93" width="1.2" height="1.2" fill="#40a0c8"/><rect x="336.31" y="145.87" width="1.2" height="1.2" fill="#40a0c8"/><rect x="334.69" y="138.08" width="1.2" height="1.2" fill="#50b8d8"/><rect x="335.91" y="132.00" width="1.2" height="1.2" fill="#40a0c8"/><rect x="336.60" y="134.71" width="1.2" height="1.2" fill="#50b8d8"/><rect x="337.09" y="151.46" width="1.2" height="1.2" fill="#48b0d0"/><rect x="338.18" y="154.22" width="1.2" height="1.2" fill="#50b8d8"/><rect x="335.17" y="131.38" width="1.2" height="1.2" fill="#3a88c0"/><rect x="337.68" y="118.71" width="1.2" height="1.2" fill="#40a0c8"/><rect x="336.70" y="127.16" width="1.2" height="1.2" fill="#40a0c8"/><rect x="335.61" y="135.75" width="1.2" height="1.2" fill="#48b0d0"/><rect x="336.58" y="131.71" width="1.2" height="1.2" fill="#48b0d0"/><rect x="337.20" y="147.40" width="1.2" height="1.2" fill="#40a0c8"/><rect x="335.77" y="127.69" width="1.2" height="1.2" fill="#40a0c8"/><rect x="336.59" y="125.34" width="1.2" height="1.2" fill="#48b0d0"/><rect x="338.12" y="145.34" width="1.2" height="1.2" fill="#60c0e0"/><rect x="336.85" y="120.68" width="1.2" height="1.2" fill="#48b0d0"/><rect x="337.10" y="124.97" width="1.2" height="1.2" fill="#40a0c8"/><rect x="336.63" y="123.31" width="1.2" height="1.2" fill="#60c0e0"/><rect x="337.16" y="139.74" width="1.2" height="1.2" fill="#60c0e0"/><rect x="337.07" y="153.82" width="1.2" height="1.2" fill="#48b0d0"/><rect x="335.59" y="155.30" width="1.2" height="1.2" fill="#60c0e0"/><rect x="336.87" y="150.64" width="1.2" height="1.2" fill="#60c0e0"/><rect x="335.43" y="149.39" width="1.2" height="1.2" fill="#60c0e0"/><rect x="335.69" y="142.99" width="1.2" height="1.2" fill="#3a88c0"/><rect x="336.78" y="154.99" width="1.2" height="1.2" fill="#3a88c0"/><rect x="335.56" y="132.68" width="1.2" height="1.2" fill="#3a88c0"/><rect x="338.33" y="120.11" width="1.2" height="1.2" fill="#48b0d0"/><rect x="337.95" y="122.78" width="1.2" height="1.2" fill="#60c0e0"/><rect x="336.90" y="152.26" width="1.2" height="1.2" fill="#50b8d8"/><rect x="336.62" y="127.76" width="1.2" height="1.2" fill="#40a0c8"/><rect x="337.13" y="126.56" width="1.2" height="1.2" fill="#50b8d8"/><rect x="336.43" y="130.83" width="1.2" height="1.2" fill="#3a88c0"/><rect x="336.78" y="120.24" width="1.2" height="1.2" fill="#3a88c0"/><rect x="335.95" y="123.56" width="1.2" height="1.2" fill="#50b8d8"/><rect x="336.02" y="123.53" width="1.2" height="1.2" fill="#48b0d0"/><rect x="336.30" y="138.61" width="1.2" height="1.2" fill="#50b8d8"/><rect x="335.10" y="148.82" width="1.2" height="1.2" fill="#48b0d0"/><rect x="336.13" y="123.58" width="1.2" height="1.2" fill="#3a88c0"/><rect x="335.72" y="118.46" width="1.2" height="1.2" fill="#3a88c0"/><rect x="336.15" y="126.24" width="1.2" height="1.2" fill="#50b8d8"/><rect x="335.79" y="141.19" width="1.2" height="1.2" fill="#3a88c0"/><rect x="335.78" y="151.85" width="1.2" height="1.2" fill="#60c0e0"/><rect x="336.71" y="137.16" width="1.2" height="1.2" fill="#50b8d8"/><rect x="336.06" y="149.23" width="1.2" height="1.2" fill="#48b0d0"/><rect x="336.49" y="141.60" width="1.2" height="1.2" fill="#40a0c8"/><rect x="337.05" y="131.00" width="1.2" height="1.2" fill="#48b0d0"/><rect x="335.15" y="134.23" width="1.2" height="1.2" fill="#50b8d8"/><rect x="337.15" y="139.21" width="1.2" height="1.2" fill="#3a88c0"/><rect x="335.39" y="128.48" width="1.2" height="1.2" fill="#40a0c8"/><rect x="336.14" y="126.88" width="1.2" height="1.2" fill="#48b0d0"/><rect x="336.19" y="144.27" width="1.2" height="1.2" fill="#60c0e0"/><rect x="336.13" y="146.22" width="1.2" height="1.2" fill="#48b0d0"/><rect x="335.29" y="125.59" width="1.2" height="1.2" fill="#50b8d8"/><rect x="335.75" y="145.86" width="1.2" height="1.2" fill="#3a88c0"/><rect x="336.17" y="138.37" width="1.2" height="1.2" fill="#48b0d0"/><rect x="334.72" y="149.31" width="1.2" height="1.2" fill="#60c0e0"/><rect x="335.28" y="129.96" width="1.2" height="1.2" fill="#48b0d0"/><rect x="333.76" y="141.93" width="1.2" height="1.2" fill="#60c0e0"/><rect x="336.33" y="152.33" width="1.2" height="1.2" fill="#3a88c0"/><rect x="335.95" y="141.69" width="1.2" height="1.2" fill="#48b0d0"/><rect x="335.63" y="124.23" width="1.2" height="1.2" fill="#60c0e0"/><rect x="337.62" y="139.45" width="1.2" height="1.2" fill="#3a88c0"/><rect x="336.20" y="151.63" width="1.2" height="1.2" fill="#40a0c8"/><rect x="336.12" y="142.79" width="1.2" height="1.2" fill="#50b8d8"/><rect x="336.11" y="163.67" width="1.2" height="1.2" fill="#70b060"/><rect x="334.39" y="158.19" width="1.2" height="1.2" fill="#60a878"/><rect x="336.15" y="158.80" width="1.2" height="1.2" fill="#88b850"/><rect x="335.24" y="160.99" width="1.2" height="1.2" fill="#88b850"/><rect x="336.50" y="164.41" width="1.2" height="1.2" fill="#7aa868"/><rect x="335.45" y="168.02" width="1.2" height="1.2" fill="#7aa868"/><rect x="336.29" y="161.55" width="1.2" height="1.2" fill="#7aa868"/><rect x="336.82" y="161.18" width="1.2" height="1.2" fill="#7aa868"/><rect x="336.14" y="166.45" width="1.2" height="1.2" fill="#60a878"/><rect x="336.56" y="163.27" width="1.2" height="1.2" fill="#7aa868"/><rect x="335.42" y="158.29" width="1.2" height="1.2" fill="#88b850"/><rect x="335.52" y="164.27" width="1.2" height="1.2" fill="#60a878"/><rect x="334.85" y="166.70" width="1.2" height="1.2" fill="#70b060"/><rect x="335.97" y="155.56" width="1.2" height="1.2" fill="#70b060"/><rect x="336.03" y="157.97" width="1.2" height="1.2" fill="#60a878"/><rect x="336.95" y="165.70" width="1.2" height="1.2" fill="#60a878"/><rect x="337.11" y="166.09" width="1.2" height="1.2" fill="#70b060"/><rect x="336.69" y="159.07" width="1.2" height="1.2" fill="#b0c050"/><rect x="336.94" y="157.11" width="1.2" height="1.2" fill="#7aa868"/><rect x="337.19" y="164.77" width="1.2" height="1.2" fill="#b0c050"/><rect x="336.24" y="161.21" width="1.2" height="1.2" fill="#7aa868"/><rect x="336.63" y="165.81" width="1.2" height="1.2" fill="#88b850"/><rect x="335.67" y="157.37" width="1.2" height="1.2" fill="#88b850"/><rect x="338.27" y="158.04" width="1.2" height="1.2" fill="#60a878"/><rect x="336.01" y="163.09" width="1.2" height="1.2" fill="#88b850"/><rect x="335.37" y="163.77" width="1.2" height="1.2" fill="#b0c050"/><rect x="336.08" y="156.20" width="1.2" height="1.2" fill="#b0c050"/><rect x="335.92" y="164.92" width="1.2" height="1.2" fill="#7aa868"/><rect x="335.53" y="156.95" width="1.2" height="1.2" fill="#7aa868"/><rect x="336.52" y="159.10" width="1.2" height="1.2" fill="#88b850"/><rect x="334.86" y="158.31" width="1.2" height="1.2" fill="#70b060"/><rect x="336.00" y="163.24" width="1.2" height="1.2" fill="#b0c050"/><rect x="337.48" y="164.17" width="1.2" height="1.2" fill="#7aa868"/><rect x="336.72" y="158.41" width="1.2" height="1.2" fill="#60a878"/><rect x="335.33" y="156.71" width="1.2" height="1.2" fill="#7aa868"/><rect x="336.24" y="162.95" width="1.2" height="1.2" fill="#7aa868"/><rect x="336.33" y="164.95" width="1.2" height="1.2" fill="#7aa868"/><rect x="336.48" y="155.94" width="1.2" height="1.2" fill="#88b850"/><rect x="336.31" y="158.08" width="1.2" height="1.2" fill="#88b850"/><rect x="336.55" y="163.80" width="1.2" height="1.2" fill="#70b060"/><rect x="335.13" y="163.74" width="1.2" height="1.2" fill="#88b850"/><rect x="335.99" y="161.09" width="1.2" height="1.2" fill="#88b850"/><rect x="335.67" y="155.84" width="1.2" height="1.2" fill="#70b060"/><rect x="336.25" y="167.68" width="1.2" height="1.2" fill="#60a878"/><rect x="336.16" y="165.33" width="1.2" height="1.2" fill="#60a878"/><rect x="335.97" y="156.79" width="1.2" height="1.2" fill="#60a878"/><rect x="337.38" y="160.12" width="1.2" height="1.2" fill="#7aa868"/><rect x="335.93" y="167.05" width="1.2" height="1.2" fill="#b0c050"/><rect x="336.44" y="163.20" width="1.2" height="1.2" fill="#7aa868"/><rect x="336.49" y="166.29" width="1.2" height="1.2" fill="#70b060"/><rect x="337.28" y="159.94" width="1.2" height="1.2" fill="#70b060"/><rect x="336.15" y="166.61" width="1.2" height="1.2" fill="#70b060"/><rect x="334.93" y="164.38" width="1.2" height="1.2" fill="#7aa868"/><rect x="336.24" y="160.85" width="1.2" height="1.2" fill="#88b850"/><rect x="337.33" y="157.51" width="1.2" height="1.2" fill="#60a878"/><rect x="336.60" y="164.15" width="1.2" height="1.2" fill="#60a878"/><rect x="337.73" y="155.66" width="1.2" height="1.2" fill="#b0c050"/><rect x="334.76" y="165.64" width="1.2" height="1.2" fill="#88b850"/><rect x="336.63" y="160.64" width="1.2" height="1.2" fill="#b0c050"/><rect x="336.09" y="167.26" width="1.2" height="1.2" fill="#88b850"/><rect x="336.33" y="158.43" width="1.2" height="1.2" fill="#7aa868"/><rect x="336.38" y="156.44" width="1.2" height="1.2" fill="#60a878"/><rect x="336.48" y="162.97" width="1.2" height="1.2" fill="#b0c050"/><rect x="337.26" y="167.37" width="1.2" height="1.2" fill="#7aa868"/><rect x="336.89" y="167.29" width="1.2" height="1.2" fill="#7aa868"/><rect x="336.90" y="164.96" width="1.2" height="1.2" fill="#70b060"/><rect x="335.43" y="168.06" width="1.2" height="1.2" fill="#7aa868"/><rect x="335.88" y="167.70" width="1.2" height="1.2" fill="#b0c050"/><rect x="336.65" y="167.76" width="1.2" height="1.2" fill="#88b850"/><rect x="335.20" y="161.84" width="1.2" height="1.2" fill="#88b850"/><rect x="336.67" y="166.49" width="1.2" height="1.2" fill="#88b850"/><rect x="336.78" y="168.11" width="1.2" height="1.2" fill="#7aa868"/><rect x="336.30" y="162.81" width="1.2" height="1.2" fill="#7aa868"/><rect x="337.16" y="157.85" width="1.2" height="1.2" fill="#7aa868"/><rect x="336.56" y="158.90" width="1.2" height="1.2" fill="#70b060"/><rect x="337.48" y="176.20" width="1.2" height="1.2" fill="#3aa0b8"/><rect x="336.44" y="172.45" width="1.2" height="1.2" fill="#3a98b8"/><rect x="336.23" y="172.93" width="1.2" height="1.2" fill="#4080c0"/><rect x="336.32" y="174.92" width="1.2" height="1.2" fill="#3a70b0"/><rect x="337.44" y="173.36" width="1.2" height="1.2" fill="#3868a8"/><rect x="336.33" y="177.02" width="1.2" height="1.2" fill="#3a98b0"/><rect x="337.70" y="172.78" width="1.2" height="1.2" fill="#3a70b0"/><rect x="334.76" y="172.39" width="1.2" height="1.2" fill="#4a90c8"/><rect x="336.25" y="169.51" width="1.2" height="1.2" fill="#3868a8"/><rect x="334.52" y="174.33" width="1.2" height="1.2" fill="#4a90c8"/><rect x="336.82" y="172.70" width="1.2" height="1.2" fill="#3a70b0"/><rect x="335.89" y="177.08" width="1.2" height="1.2" fill="#4aa8c0"/><rect x="336.15" y="174.71" width="1.2" height="1.2" fill="#3a98b0"/><rect x="334.16" y="172.28" width="1.2" height="1.2" fill="#3a98b0"/><rect x="336.32" y="172.27" width="1.2" height="1.2" fill="#3a70b0"/><rect x="335.44" y="173.82" width="1.2" height="1.2" fill="#4080c0"/><rect x="336.88" y="174.77" width="1.2" height="1.2" fill="#3aa0b8"/><rect x="337.07" y="172.21" width="1.2" height="1.2" fill="#48b0cc"/><rect x="336.50" y="168.50" width="1.2" height="1.2" fill="#3a70b0"/><rect x="336.00" y="171.46" width="1.2" height="1.2" fill="#3a70b0"/><rect x="336.97" y="175.84" width="1.2" height="1.2" fill="#3a98b8"/><rect x="334.98" y="174.10" width="1.2" height="1.2" fill="#3868a8"/><rect x="337.23" y="176.81" width="1.2" height="1.2" fill="#3aa0b8"/><rect x="336.17" y="171.67" width="1.2" height="1.2" fill="#3aa0b8"/><rect x="336.67" y="168.49" width="1.2" height="1.2" fill="#4a90c8"/><rect x="337.83" y="172.94" width="1.2" height="1.2" fill="#3868a8"/><rect x="335.15" y="174.47" width="1.2" height="1.2" fill="#4aa8c0"/><rect x="335.97" y="170.52" width="1.2" height="1.2" fill="#4080c0"/><rect x="336.02" y="175.82" width="1.2" height="1.2" fill="#4a90c8"/><rect x="336.18" y="173.80" width="1.2" height="1.2" fill="#4080c0"/><rect x="335.50" y="169.22" width="1.2" height="1.2" fill="#4aa8c0"/><rect x="336.37" y="173.85" width="1.2" height="1.2" fill="#3a98b0"/><rect x="337.69" y="176.90" width="1.2" height="1.2" fill="#3a98b8"/><rect x="336.21" y="176.11" width="1.2" height="1.2" fill="#3868a8"/><rect x="335.79" y="170.66" width="1.2" height="1.2" fill="#4080c0"/><rect x="335.87" y="173.98" width="1.2" height="1.2" fill="#4a90c8"/><rect x="336.27" y="175.69" width="1.2" height="1.2" fill="#3a70b0"/><rect x="335.79" y="174.57" width="1.2" height="1.2" fill="#3a98b0"/><rect x="335.26" y="176.42" width="1.2" height="1.2" fill="#3aa0b8"/><rect x="336.63" y="175.91" width="1.2" height="1.2" fill="#4aa8c0"/><rect x="336.67" y="168.41" width="1.2" height="1.2" fill="#48b0cc"/><rect x="335.54" y="172.74" width="1.2" height="1.2" fill="#4080c0"/><rect x="335.39" y="172.16" width="1.2" height="1.2" fill="#3aa0b8"/><rect x="336.74" y="168.50" width="1.2" height="1.2" fill="#3a70b0"/><rect x="335.87" y="172.89" width="1.2" height="1.2" fill="#48b0cc"/><rect x="335.95" y="178.39" width="1.2" height="1.2" fill="#6a88b8"/><rect x="336.38" y="183.82" width="1.2" height="1.2" fill="#3a60a8"/><rect x="336.84" y="179.64" width="1.2" height="1.2" fill="#7a78b0"/><rect x="335.72" y="182.50" width="1.2" height="1.2" fill="#5a80b8"/><rect x="337.63" y="179.76" width="1.2" height="1.2" fill="#4a70b0"/><rect x="336.53" y="178.41" width="1.2" height="1.2" fill="#4a70b0"/><rect x="365.12" y="142.12" width="1.2" height="1.2" fill="#6a78a4"/><rect x="350.47" y="106.31" width="1.2" height="1.2" fill="#8898b8"/><rect x="345.38" y="135.64" width="1.2" height="1.2" fill="#a0a8c4"/><rect x="343.70" y="114.91" width="1.2" height="1.2" fill="#8898b8"/><rect x="360.76" y="143.29" width="1.2" height="1.2" fill="#80b8d0"/><rect x="350.61" y="129.02" width="1.2" height="1.2" fill="#50608a"/><rect x="362.88" y="144.32" width="1.2" height="1.2" fill="#6a78a4"/><rect x="359.39" y="146.26" width="1.2" height="1.2" fill="#8898b8"/><rect x="361.92" y="150.20" width="1.2" height="1.2" fill="#50608a"/><rect x="362.54" y="107.18" width="1.2" height="1.2" fill="#7888ac"/><rect x="359.03" y="110.09" width="1.2" height="1.2" fill="#404c78"/><rect x="358.42" y="93.54" width="1.2" height="1.2" fill="#6a78a4"/><rect x="365.45" y="93.29" width="1.2" height="1.2" fill="#a0a8c4"/><rect x="345.67" y="107.94" width="1.2" height="1.2" fill="#a0a8c4"/><rect x="361.29" y="147.43" width="1.2" height="1.2" fill="#9aa0c0"/><rect x="360.53" y="140.54" width="1.2" height="1.2" fill="#a0a8c4"/><rect x="363.71" y="96.36" width="1.2" height="1.2" fill="#a0a8c4"/><rect x="349.70" y="112.03" width="1.2" height="1.2" fill="#8898b8"/><rect x="357.31" y="113.65" width="1.2" height="1.2" fill="#404c78"/><rect x="366.75" y="144.78" width="1.2" height="1.2" fill="#9aa0c0"/><rect x="354.43" y="104.41" width="1.2" height="1.2" fill="#8898b8"/><rect x="350.58" y="149.47" width="1.2" height="1.2" fill="#7888ac"/><rect x="349.57" y="116.17" width="1.2" height="1.2" fill="#404c78"/><rect x="341.19" y="122.52" width="1.2" height="1.2" fill="#8898b8"/><rect x="365.05" y="146.30" width="1.2" height="1.2" fill="#a0a8c4"/><rect x="357.79" y="96.02" width="1.2" height="1.2" fill="#50608a"/><rect x="361.08" y="100.61" width="1.2" height="1.2" fill="#9aa0c0"/><rect x="349.59" y="116.49" width="1.2" height="1.2" fill="#404c78"/><rect x="363.71" y="89.30" width="1.2" height="1.2" fill="#80b8d0"/><rect x="355.46" y="114.51" width="1.2" height="1.2" fill="#50608a"/><rect x="351.75" y="140.34" width="1.2" height="1.2" fill="#80b8d0"/><rect x="359.73" y="134.95" width="1.2" height="1.2" fill="#6a78a4"/><rect x="350.48" y="141.05" width="1.2" height="1.2" fill="#404c78"/><rect x="357.27" y="147.53" width="1.2" height="1.2" fill="#80b8d0"/><rect x="356.88" y="114.28" width="1.2" height="1.2" fill="#50608a"/><rect x="347.24" y="131.20" width="1.2" height="1.2" fill="#6a78a4"/><rect x="360.30" y="126.82" width="1.2" height="1.2" fill="#8898b8"/><rect x="346.65" y="113.79" width="1.2" height="1.2" fill="#404c78"/><rect x="362.06" y="149.03" width="1.2" height="1.2" fill="#9aa0c0"/><rect x="354.88" y="105.21" width="1.2" height="1.2" fill="#7888ac"/><rect x="367.12" y="97.59" width="1.2" height="1.2" fill="#7888ac"/><rect x="357.19" y="118.05" width="1.2" height="1.2" fill="#a8b0c8"/><rect x="365.28" y="92.97" width="1.2" height="1.2" fill="#a0a8c4"/><rect x="365.92" y="133.75" width="1.2" height="1.2" fill="#9aa0c0"/><rect x="365.81" y="135.45" width="1.2" height="1.2" fill="#7888ac"/><rect x="351.62" y="147.27" width="1.2" height="1.2" fill="#50608a"/><rect x="345.47" y="145.25" width="1.2" height="1.2" fill="#404c78"/><rect x="365.42" y="94.31" width="1.2" height="1.2" fill="#6a78a4"/><rect x="343.38" y="130.50" width="1.2" height="1.2" fill="#9aa0c0"/><rect x="341.63" y="144.08" width="1.2" height="1.2" fill="#8898b8"/><rect x="364.87" y="103.81" width="1.2" height="1.2" fill="#a8b0c8"/><rect x="367.97" y="104.76" width="1.2" height="1.2" fill="#a0a8c4"/><rect x="351.29" y="123.67" width="1.2" height="1.2" fill="#80b8d0"/><rect x="364.82" y="132.95" width="1.2" height="1.2" fill="#8898b8"/><rect x="362.48" y="112.39" width="1.2" height="1.2" fill="#404c78"/><rect x="365.88" y="105.35" width="1.2" height="1.2" fill="#8898b8"/><rect x="361.47" y="144.60" width="1.2" height="1.2" fill="#50608a"/><rect x="346.90" y="132.29" width="1.2" height="1.2" fill="#80b8d0"/><rect x="342.92" y="145.82" width="1.2" height="1.2" fill="#8898b8"/><rect x="353.07" y="109.14" width="1.2" height="1.2" fill="#7888ac"/><rect x="351.89" y="101.68" width="1.2" height="1.2" fill="#8898b8"/><rect x="357.70" y="144.04" width="1.2" height="1.2" fill="#a0a8c4"/><rect x="350.14" y="120.21" width="1.2" height="1.2" fill="#9aa0c0"/><rect x="354.18" y="130.86" width="1.2" height="1.2" fill="#7888ac"/><rect x="360.08" y="104.77" width="1.2" height="1.2" fill="#8898b8"/><rect x="357.71" y="148.99" width="1.2" height="1.2" fill="#6a78a4"/><rect x="341.21" y="130.89" width="1.2" height="1.2" fill="#8898b8"/><rect x="355.13" y="101.33" width="1.2" height="1.2" fill="#80b8d0"/><rect x="347.05" y="133.27" width="1.2" height="1.2" fill="#6a78a4"/><rect x="364.03" y="111.58" width="1.2" height="1.2" fill="#50608a"/><rect x="345.36" y="128.06" width="1.2" height="1.2" fill="#a0a8c4"/><rect x="360.41" y="98.22" width="1.2" height="1.2" fill="#404c78"/><rect x="346.88" y="122.45" width="1.2" height="1.2" fill="#a8b0c8"/><rect x="342.44" y="146.14" width="1.2" height="1.2" fill="#a8b0c8"/><rect x="353.51" y="125.21" width="1.2" height="1.2" fill="#404c78"/><rect x="354.39" y="120.44" width="1.2" height="1.2" fill="#50608a"/><rect x="344.76" y="132.21" width="1.2" height="1.2" fill="#a0a8c4"/><rect x="351.53" y="101.54" width="1.2" height="1.2" fill="#a0a8c4"/><rect x="346.45" y="108.38" width="1.2" height="1.2" fill="#8898b8"/><rect x="350.15" y="103.63" width="1.2" height="1.2" fill="#a8b0c8"/><rect x="365.11" y="131.27" width="1.2" height="1.2" fill="#6a78a4"/><rect x="365.85" y="113.27" width="1.2" height="1.2" fill="#80b8d0"/><rect x="354.33" y="145.70" width="1.2" height="1.2" fill="#a0a8c4"/><rect x="346.85" y="146.24" width="1.2" height="1.2" fill="#a0a8c4"/><rect x="348.43" y="119.64" width="1.2" height="1.2" fill="#9aa0c0"/><rect x="349.80" y="136.10" width="1.2" height="1.2" fill="#9aa0c0"/><rect x="352.72" y="131.79" width="1.2" height="1.2" fill="#a8b0c8"/><rect x="361.70" y="112.70" width="1.2" height="1.2" fill="#9aa0c0"/><rect x="359.19" y="130.90" width="1.2" height="1.2" fill="#80b8d0"/><rect x="363.16" y="145.91" width="1.2" height="1.2" fill="#8898b8"/><rect x="361.70" y="131.25" width="1.2" height="1.2" fill="#6a78a4"/><rect x="343.28" y="129.35" width="1.2" height="1.2" fill="#50608a"/><rect x="342.98" y="129.26" width="1.2" height="1.2" fill="#8898b8"/><rect x="355.48" y="126.70" width="1.2" height="1.2" fill="#50608a"/><rect x="350.87" y="134.78" width="1.2" height="1.2" fill="#8898b8"/><rect x="358.20" y="99.65" width="1.2" height="1.2" fill="#80b8d0"/><rect x="363.49" y="91.92" width="1.2" height="1.2" fill="#a0a8c4"/><rect x="364.90" y="116.22" width="1.2" height="1.2" fill="#404c78"/><rect x="355.54" y="106.90" width="1.2" height="1.2" fill="#a8b0c8"/><rect x="347.32" y="131.33" width="1.2" height="1.2" fill="#a0a8c4"/><rect x="350.15" y="149.78" width="1.2" height="1.2" fill="#6a78a4"/><rect x="352.67" y="131.04" width="1.2" height="1.2" fill="#7888ac"/><rect x="343.29" y="115.23" width="1.2" height="1.2" fill="#a8b0c8"/><rect x="349.30" y="131.59" width="1.2" height="1.2" fill="#404c78"/><rect x="352.83" y="135.70" width="1.2" height="1.2" fill="#8898b8"/><rect x="346.00" y="134.56" width="1.2" height="1.2" fill="#9aa0c0"/><rect x="346.11" y="110.73" width="1.2" height="1.2" fill="#a0a8c4"/><rect x="361.45" y="93.15" width="1.2" height="1.2" fill="#8898b8"/><rect x="349.46" y="118.54" width="1.2" height="1.2" fill="#404c78"/><rect x="360.39" y="101.74" width="1.2" height="1.2" fill="#9aa0c0"/><rect x="340.13" y="119.27" width="1.2" height="1.2" fill="#7888ac"/><rect x="350.09" y="116.90" width="1.2" height="1.2" fill="#6a78a4"/><rect x="360.27" y="93.14" width="1.2" height="1.2" fill="#8898b8"/><rect x="344.48" y="118.05" width="1.2" height="1.2" fill="#6a78a4"/><rect x="355.34" y="124.12" width="1.2" height="1.2" fill="#a8b0c8"/><rect x="361.68" y="106.99" width="1.2" height="1.2" fill="#80b8d0"/><rect x="357.86" y="109.10" width="1.2" height="1.2" fill="#7888ac"/><rect x="345.77" y="136.89" width="1.2" height="1.2" fill="#a8b0c8"/><rect x="354.71" y="115.23" width="1.2" height="1.2" fill="#8898b8"/><rect x="350.85" y="103.33" width="1.2" height="1.2" fill="#a0a8c4"/><rect x="343.28" y="145.95" width="1.2" height="1.2" fill="#404c78"/><rect x="351.59" y="104.90" width="1.2" height="1.2" fill="#404c78"/><rect x="357.30" y="104.73" width="1.2" height="1.2" fill="#8898b8"/><rect x="349.97" y="142.99" width="1.2" height="1.2" fill="#a0a8c4"/><rect x="362.26" y="144.73" width="1.2" height="1.2" fill="#7888ac"/><rect x="364.09" y="122.16" width="1.2" height="1.2" fill="#80b8d0"/><rect x="352.59" y="137.52" width="1.2" height="1.2" fill="#50608a"/><rect x="347.00" y="131.93" width="1.2" height="1.2" fill="#404c78"/><rect x="359.90" y="126.20" width="1.2" height="1.2" fill="#a0a8c4"/><rect x="354.20" y="133.88" width="1.2" height="1.2" fill="#50608a"/><rect x="354.51" y="120.10" width="1.2" height="1.2" fill="#a0a8c4"/><rect x="357.87" y="148.81" width="1.2" height="1.2" fill="#404c78"/><rect x="364.60" y="140.04" width="1.2" height="1.2" fill="#6a78a4"/><rect x="354.87" y="125.38" width="1.2" height="1.2" fill="#404c78"/><rect x="352.65" y="123.26" width="1.2" height="1.2" fill="#a0a8c4"/><rect x="355.87" y="107.46" width="1.2" height="1.2" fill="#9aa0c0"/><rect x="348.71" y="128.05" width="1.2" height="1.2" fill="#a0a8c4"/><rect x="344.33" y="148.67" width="1.2" height="1.2" fill="#80b8d0"/><rect x="340.50" y="126.27" width="1.2" height="1.2" fill="#9aa0c0"/><rect x="348.48" y="109.88" width="1.2" height="1.2" fill="#8898b8"/><rect x="358.61" y="121.77" width="1.2" height="1.2" fill="#7888ac"/><rect x="345.87" y="122.75" width="1.2" height="1.2" fill="#a8b0c8"/><rect x="351.86" y="107.48" width="1.2" height="1.2" fill="#50608a"/><rect x="360.65" y="145.01" width="1.2" height="1.2" fill="#a8b0c8"/><rect x="359.46" y="134.85" width="1.2" height="1.2" fill="#9aa0c0"/><rect x="356.13" y="142.80" width="1.2" height="1.2" fill="#404c78"/><rect x="341.59" y="137.98" width="1.2" height="1.2" fill="#404c78"/><rect x="360.36" y="91.33" width="1.2" height="1.2" fill="#7888ac"/><rect x="350.98" y="96.73" width="1.2" height="1.2" fill="#a0a8c4"/><rect x="351.39" y="119.57" width="1.2" height="1.2" fill="#50608a"/><rect x="352.66" y="145.86" width="1.2" height="1.2" fill="#a0a8c4"/><rect x="345.04" y="143.07" width="1.2" height="1.2" fill="#a8b0c8"/><rect x="353.09" y="122.39" width="1.2" height="1.2" fill="#6a78a4"/><rect x="344.03" y="123.47" width="1.2" height="1.2" fill="#9aa0c0"/><rect x="347.22" y="136.37" width="1.2" height="1.2" fill="#a0a8c4"/><rect x="352.92" y="99.26" width="1.2" height="1.2" fill="#a8b0c8"/><rect x="360.55" y="101.46" width="1.2" height="1.2" fill="#50608a"/><rect x="363.31" y="88.69" width="1.2" height="1.2" fill="#80b8d0"/><rect x="350.93" y="131.09" width="1.2" height="1.2" fill="#a0a8c4"/><rect x="352.16" y="110.10" width="1.2" height="1.2" fill="#80b8d0"/><rect x="363.95" y="117.36" width="1.2" height="1.2" fill="#50608a"/><rect x="359.88" y="125.83" width="1.2" height="1.2" fill="#50608a"/><rect x="349.59" y="108.16" width="1.2" height="1.2" fill="#a0a8c4"/><rect x="346.60" y="113.47" width="1.2" height="1.2" fill="#8898b8"/><rect x="344.98" y="138.19" width="1.2" height="1.2" fill="#a8b0c8"/><rect x="345.70" y="138.66" width="1.2" height="1.2" fill="#8898b8"/><rect x="353.56" y="128.90" width="1.2" height="1.2" fill="#50608a"/><rect x="355.90" y="103.58" width="1.2" height="1.2" fill="#a0a8c4"/><rect x="352.90" y="120.38" width="1.2" height="1.2" fill="#8898b8"/><rect x="353.40" y="138.77" width="1.2" height="1.2" fill="#80b8d0"/><rect x="347.43" y="136.14" width="1.2" height="1.2" fill="#8898b8"/><rect x="365.58" y="109.18" width="1.2" height="1.2" fill="#a0a8c4"/><rect x="352.34" y="124.74" width="1.2" height="1.2" fill="#a8b0c8"/><rect x="358.71" y="119.76" width="1.2" height="1.2" fill="#a0a8c4"/><rect x="361.07" y="114.11" width="1.2" height="1.2" fill="#a0a8c4"/><rect x="348.90" y="143.03" width="1.2" height="1.2" fill="#a8b0c8"/><rect x="366.31" y="133.05" width="1.2" height="1.2" fill="#a0a8c4"/><rect x="356.97" y="121.64" width="1.2" height="1.2" fill="#8898b8"/><rect x="350.42" y="116.64" width="1.2" height="1.2" fill="#a0a8c4"/><rect x="365.75" y="90.98" width="1.2" height="1.2" fill="#a0a8c4"/><rect x="363.90" y="140.33" width="1.2" height="1.2" fill="#8898b8"/><rect x="365.11" y="106.18" width="1.2" height="1.2" fill="#a0a8c4"/><rect x="353.84" y="99.13" width="1.2" height="1.2" fill="#9aa0c0"/><rect x="348.72" y="108.89" width="1.2" height="1.2" fill="#404c78"/><rect x="345.70" y="134.86" width="1.2" height="1.2" fill="#404c78"/><rect x="365.74" y="158.19" width="1.2" height="1.2" fill="#404c78"/><rect x="340.17" y="152.58" width="1.2" height="1.2" fill="#5a68a8"/><rect x="343.77" y="146.41" width="1.2" height="1.2" fill="#60a8d0"/><rect x="341.46" y="130.20" width="1.2" height="1.2" fill="#5a68a8"/><rect x="342.40" y="133.64" width="1.2" height="1.2" fill="#60a8d0"/><rect x="339.04" y="120.94" width="1.2" height="1.2" fill="#70b0d0"/><rect x="339.85" y="128.68" width="1.2" height="1.2" fill="#6a70b0"/><rect x="342.92" y="149.40" width="1.2" height="1.2" fill="#8a80c0"/><rect x="342.95" y="135.72" width="1.2" height="1.2" fill="#70b0d0"/><rect x="340.33" y="123.82" width="1.2" height="1.2" fill="#5a68a8"/><rect x="340.25" y="144.43" width="1.2" height="1.2" fill="#60a8d0"/><rect x="340.21" y="139.76" width="1.2" height="1.2" fill="#5a68a8"/><rect x="341.39" y="120.14" width="1.2" height="1.2" fill="#5a68a8"/><rect x="342.82" y="127.38" width="1.2" height="1.2" fill="#60a8d0"/><rect x="341.32" y="151.32" width="1.2" height="1.2" fill="#7a6ab0"/><rect x="340.12" y="120.43" width="1.2" height="1.2" fill="#8a80c0"/><rect x="343.29" y="151.16" width="1.2" height="1.2" fill="#8a80c0"/><rect x="338.04" y="123.93" width="1.2" height="1.2" fill="#60a8d0"/><rect x="341.18" y="120.96" width="1.2" height="1.2" fill="#8a80c0"/><rect x="339.88" y="151.45" width="1.2" height="1.2" fill="#8a80c0"/><rect x="339.55" y="129.00" width="1.2" height="1.2" fill="#9a90c8"/><rect x="341.93" y="138.18" width="1.2" height="1.2" fill="#8a80c0"/><rect x="341.40" y="113.72" width="1.2" height="1.2" fill="#5a68a8"/><rect x="339.16" y="148.60" width="1.2" height="1.2" fill="#7a6ab0"/><rect x="341.73" y="141.19" width="1.2" height="1.2" fill="#5a68a8"/><rect x="340.69" y="136.49" width="1.2" height="1.2" fill="#9a90c8"/><rect x="341.10" y="113.80" width="1.2" height="1.2" fill="#9a90c8"/><rect x="339.47" y="142.79" width="1.2" height="1.2" fill="#5a68a8"/><rect x="343.18" y="138.50" width="1.2" height="1.2" fill="#6a70b0"/><rect x="340.21" y="112.49" width="1.2" height="1.2" fill="#8a80c0"/><rect x="341.95" y="146.87" width="1.2" height="1.2" fill="#6a70b0"/><rect x="342.63" y="134.67" width="1.2" height="1.2" fill="#9a90c8"/><rect x="343.03" y="130.33" width="1.2" height="1.2" fill="#70b0d0"/><rect x="342.24" y="130.22" width="1.2" height="1.2" fill="#8a80c0"/><rect x="341.32" y="114.94" width="1.2" height="1.2" fill="#6a70b0"/><rect x="339.78" y="131.97" width="1.2" height="1.2" fill="#8a80c0"/></g>
<rect x="307.30" y="24.30" width="190.30" height="190.00" fill="none" stroke="#000" stroke-width="1.3"/>
<text x="310.90" y="47.30" font-size="7.6" text-anchor="start" fill="#1a1a1a" stroke="#1a1a1a" >G1</text>
<text x="310.90" y="56.00" font-size="7.6" text-anchor="start" fill="#8e3a7c" stroke="#8e3a7c" >32.6</text>
<text x="428.60" y="47.30" font-size="7.6" text-anchor="start" fill="#1a1a1a" stroke="#1a1a1a" >S-G2-M</text>
<text x="428.90" y="56.20" font-size="7.6" text-anchor="start" fill="#8e3a7c" stroke="#8e3a7c" >12.1</text>
<text x="310.90" y="191.30" font-size="7.6" text-anchor="start" fill="#1a1a1a" stroke="#1a1a1a" >G0</text>
<text x="310.90" y="199.90" font-size="7.6" text-anchor="start" fill="#8e3a7c" stroke="#8e3a7c" >55.3</text>
<text x="299.80" y="176.00" font-size="7.8" text-anchor="end" fill="#1a1a1a" stroke="#1a1a1a">10<tspan font-size="4.6" dy="-3.2">2</tspan></text>
<text x="299.80" y="130.40" font-size="7.8" text-anchor="end" fill="#1a1a1a" stroke="#1a1a1a">10<tspan font-size="4.6" dy="-3.2">3</tspan></text>
<text x="299.80" y="86.20" font-size="7.8" text-anchor="end" fill="#1a1a1a" stroke="#1a1a1a">10<tspan font-size="4.6" dy="-3.2">4</tspan></text>
<text x="299.80" y="44.30" font-size="7.8" text-anchor="end" fill="#1a1a1a" stroke="#1a1a1a">10<tspan font-size="4.6" dy="-3.2">5</tspan></text>
<text x="300.90" y="198.40" font-size="7.8" text-anchor="end" fill="#1a1a1a" stroke="#1a1a1a" >0</text>
<text x="307.30" y="227.50" font-size="8.0" text-anchor="middle" fill="#1a1a1a" stroke="#1a1a1a" >0</text>
<text x="343.60" y="227.50" font-size="8.0" text-anchor="middle" fill="#1a1a1a" stroke="#1a1a1a" >50k</text>
<text x="379.89" y="227.50" font-size="8.0" text-anchor="middle" fill="#1a1a1a" stroke="#1a1a1a" >100k</text>
<text x="416.19" y="227.50" font-size="8.0" text-anchor="middle" fill="#1a1a1a" stroke="#1a1a1a" >150k</text>
<text x="452.49" y="227.50" font-size="8.0" text-anchor="middle" fill="#1a1a1a" stroke="#1a1a1a" >200k</text>
<text x="488.78" y="227.50" font-size="8.0" text-anchor="middle" fill="#1a1a1a" stroke="#1a1a1a" >250k</text>
<text x="402.95" y="241.30" font-size="9.8" text-anchor="middle" fill="#1a1a1a" stroke="#1a1a1a" textLength="58.2" lengthAdjust="spacingAndGlyphs">Hoechst 33342</text>
<text transform="translate(282.40,119.10) rotate(-90)" font-size="10.2" text-anchor="middle" textLength="17.6" lengthAdjust="spacingAndGlyphs" fill="#1a1a1a" stroke="#1a1a1a">Ki67</text>
<text x="274.20" y="31.30" font-size="9.4" text-anchor="start" fill="#1a1a1a" stroke="#1a1a1a" >(ii)</text>
<line x1="64.00" y1="428.40" x2="66.60" y2="428.40" stroke="#111" stroke-width="1.1"/>
<line x1="65.00" y1="414.67" x2="66.60" y2="414.67" stroke="#111" stroke-width="0.9"/>
<line x1="65.00" y1="406.64" x2="66.60" y2="406.64" stroke="#111" stroke-width="0.9"/>
<line x1="65.00" y1="400.95" x2="66.60" y2="400.95" stroke="#111" stroke-width="0.9"/>
<line x1="65.00" y1="396.53" x2="66.60" y2="396.53" stroke="#111" stroke-width="0.9"/>
<line x1="65.00" y1="392.92" x2="66.60" y2="392.92" stroke="#111" stroke-width="0.9"/>
<line x1="65.00" y1="389.86" x2="66.60" y2="389.86" stroke="#111" stroke-width="0.9"/>
<line x1="65.00" y1="387.22" x2="66.60" y2="387.22" stroke="#111" stroke-width="0.9"/>
<line x1="65.00" y1="384.89" x2="66.60" y2="384.89" stroke="#111" stroke-width="0.9"/>
<line x1="64.00" y1="382.80" x2="66.60" y2="382.80" stroke="#111" stroke-width="1.1"/>
<line x1="65.00" y1="369.49" x2="66.60" y2="369.49" stroke="#111" stroke-width="0.9"/>
<line x1="65.00" y1="361.71" x2="66.60" y2="361.71" stroke="#111" stroke-width="0.9"/>
<line x1="65.00" y1="356.19" x2="66.60" y2="356.19" stroke="#111" stroke-width="0.9"/>
<line x1="65.00" y1="351.91" x2="66.60" y2="351.91" stroke="#111" stroke-width="0.9"/>
<line x1="65.00" y1="348.41" x2="66.60" y2="348.41" stroke="#111" stroke-width="0.9"/>
<line x1="65.00" y1="345.45" x2="66.60" y2="345.45" stroke="#111" stroke-width="0.9"/>
<line x1="65.00" y1="342.88" x2="66.60" y2="342.88" stroke="#111" stroke-width="0.9"/>
<line x1="65.00" y1="340.62" x2="66.60" y2="340.62" stroke="#111" stroke-width="0.9"/>
<line x1="64.00" y1="338.60" x2="66.60" y2="338.60" stroke="#111" stroke-width="1.1"/>
<line x1="65.00" y1="325.99" x2="66.60" y2="325.99" stroke="#111" stroke-width="0.9"/>
<line x1="65.00" y1="318.61" x2="66.60" y2="318.61" stroke="#111" stroke-width="0.9"/>
<line x1="65.00" y1="313.37" x2="66.60" y2="313.37" stroke="#111" stroke-width="0.9"/>
<line x1="65.00" y1="309.31" x2="66.60" y2="309.31" stroke="#111" stroke-width="0.9"/>
<line x1="65.00" y1="306.00" x2="66.60" y2="306.00" stroke="#111" stroke-width="0.9"/>
<line x1="65.00" y1="303.19" x2="66.60" y2="303.19" stroke="#111" stroke-width="0.9"/>
<line x1="65.00" y1="300.76" x2="66.60" y2="300.76" stroke="#111" stroke-width="0.9"/>
<line x1="65.00" y1="298.62" x2="66.60" y2="298.62" stroke="#111" stroke-width="0.9"/>
<line x1="64.00" y1="296.70" x2="66.60" y2="296.70" stroke="#111" stroke-width="1.1"/>
<line x1="65.00" y1="284.09" x2="66.60" y2="284.09" stroke="#111" stroke-width="0.9"/>
<line x1="64.00" y1="449.10" x2="66.60" y2="449.10" stroke="#111" stroke-width="1.1"/>
<line x1="65.00" y1="430.10" x2="66.60" y2="430.10" stroke="#111" stroke-width="0.9"/>
<line x1="65.00" y1="434.10" x2="66.60" y2="434.10" stroke="#111" stroke-width="0.9"/>
<line x1="65.00" y1="438.10" x2="66.60" y2="438.10" stroke="#111" stroke-width="0.9"/>
<line x1="65.00" y1="441.60" x2="66.60" y2="441.60" stroke="#111" stroke-width="0.9"/>
<line x1="65.00" y1="445.30" x2="66.60" y2="445.30" stroke="#111" stroke-width="0.9"/>
<line x1="65.00" y1="452.90" x2="66.60" y2="452.90" stroke="#111" stroke-width="0.9"/>
<line x1="65.00" y1="456.70" x2="66.60" y2="456.70" stroke="#111" stroke-width="0.9"/>
<line x1="65.00" y1="460.60" x2="66.60" y2="460.60" stroke="#111" stroke-width="0.9"/>
<line x1="65.00" y1="464.60" x2="66.60" y2="464.60" stroke="#111" stroke-width="0.9"/>
<line x1="66.60" y1="468.60" x2="66.60" y2="471.40" stroke="#111" stroke-width="1.0"/>
<line x1="73.86" y1="468.60" x2="73.86" y2="470.30" stroke="#111" stroke-width="0.9"/>
<line x1="81.12" y1="468.60" x2="81.12" y2="470.30" stroke="#111" stroke-width="0.9"/>
<line x1="88.38" y1="468.60" x2="88.38" y2="470.30" stroke="#111" stroke-width="0.9"/>
<line x1="95.64" y1="468.60" x2="95.64" y2="470.30" stroke="#111" stroke-width="0.9"/>
<line x1="102.90" y1="468.60" x2="102.90" y2="471.40" stroke="#111" stroke-width="1.0"/>
<line x1="110.16" y1="468.60" x2="110.16" y2="470.30" stroke="#111" stroke-width="0.9"/>
<line x1="117.42" y1="468.60" x2="117.42" y2="470.30" stroke="#111" stroke-width="0.9"/>
<line x1="124.67" y1="468.60" x2="124.67" y2="470.30" stroke="#111" stroke-width="0.9"/>
<line x1="131.93" y1="468.60" x2="131.93" y2="470.30" stroke="#111" stroke-width="0.9"/>
<line x1="139.19" y1="468.60" x2="139.19" y2="471.40" stroke="#111" stroke-width="1.0"/>
<line x1="146.45" y1="468.60" x2="146.45" y2="470.30" stroke="#111" stroke-width="0.9"/>
<line x1="153.71" y1="468.60" x2="153.71" y2="470.30" stroke="#111" stroke-width="0.9"/>
<line x1="160.97" y1="468.60" x2="160.97" y2="470.30" stroke="#111" stroke-width="0.9"/>
<line x1="168.23" y1="468.60" x2="168.23" y2="470.30" stroke="#111" stroke-width="0.9"/>
<line x1="175.49" y1="468.60" x2="175.49" y2="471.40" stroke="#111" stroke-width="1.0"/>
<line x1="182.75" y1="468.60" x2="182.75" y2="470.30" stroke="#111" stroke-width="0.9"/>
<line x1="190.01" y1="468.60" x2="190.01" y2="470.30" stroke="#111" stroke-width="0.9"/>
<line x1="197.27" y1="468.60" x2="197.27" y2="470.30" stroke="#111" stroke-width="0.9"/>
<line x1="204.53" y1="468.60" x2="204.53" y2="470.30" stroke="#111" stroke-width="0.9"/>
<line x1="211.79" y1="468.60" x2="211.79" y2="471.40" stroke="#111" stroke-width="1.0"/>
<line x1="219.05" y1="468.60" x2="219.05" y2="470.30" stroke="#111" stroke-width="0.9"/>
<line x1="226.31" y1="468.60" x2="226.31" y2="470.30" stroke="#111" stroke-width="0.9"/>
<line x1="233.57" y1="468.60" x2="233.57" y2="470.30" stroke="#111" stroke-width="0.9"/>
<line x1="240.82" y1="468.60" x2="240.82" y2="470.30" stroke="#111" stroke-width="0.9"/>
<line x1="248.08" y1="468.60" x2="248.08" y2="471.40" stroke="#111" stroke-width="1.0"/>
<line x1="255.34" y1="468.60" x2="255.34" y2="470.30" stroke="#111" stroke-width="0.9"/>
<rect x="99" y="278.80" width="1" height="189.80" fill="#b98cac" shape-rendering="crispEdges"/>
<rect x="100" y="278.80" width="1" height="189.80" fill="#cda5c0" shape-rendering="crispEdges"/>
<rect x="66.60" y="408" width="190.30" height="1" fill="#f5e8f0" shape-rendering="crispEdges"/>
<rect x="66.60" y="409" width="190.30" height="1" fill="#b68ca8" shape-rendering="crispEdges"/>
<rect x="66.60" y="410" width="190.30" height="1" fill="#f3e8ef" shape-rendering="crispEdges"/>
<g><rect x="94.01" y="371.46" width="1.2" height="1.2" fill="#5a6aa0"/><rect x="94.43" y="374.69" width="1.2" height="1.2" fill="#5a6aa0"/><rect x="95.82" y="369.10" width="1.2" height="1.2" fill="#7a90c0"/><rect x="94.70" y="375.75" width="1.2" height="1.2" fill="#5a70b0"/><rect x="93.40" y="381.84" width="1.2" height="1.2" fill="#8090c0"/><rect x="94.83" y="373.64" width="1.2" height="1.2" fill="#5a70b0"/><rect x="95.45" y="371.38" width="1.2" height="1.2" fill="#8090c0"/><rect x="95.79" y="378.36" width="1.2" height="1.2" fill="#6a80b8"/><rect x="94.78" y="370.38" width="1.2" height="1.2" fill="#6a80b8"/><rect x="94.55" y="379.48" width="1.2" height="1.2" fill="#7a90c0"/><rect x="94.34" y="374.68" width="1.2" height="1.2" fill="#8090c0"/><rect x="93.31" y="373.61" width="1.2" height="1.2" fill="#5a6aa0"/><rect x="95.81" y="374.29" width="1.2" height="1.2" fill="#6a80b8"/><rect x="94.08" y="368.69" width="1.2" height="1.2" fill="#8090c0"/><rect x="95.27" y="371.17" width="1.2" height="1.2" fill="#7a90c0"/><rect x="94.45" y="373.97" width="1.2" height="1.2" fill="#8090c0"/><rect x="93.96" y="376.06" width="1.2" height="1.2" fill="#5a70b0"/><rect x="94.46" y="380.59" width="1.2" height="1.2" fill="#6a80b8"/><rect x="95.55" y="379.93" width="1.2" height="1.2" fill="#5a70b0"/><rect x="94.55" y="377.77" width="1.2" height="1.2" fill="#7a90c0"/><rect x="95.29" y="381.42" width="1.2" height="1.2" fill="#5a70b0"/><rect x="94.13" y="376.87" width="1.2" height="1.2" fill="#5a6aa0"/><rect x="95.12" y="371.86" width="1.2" height="1.2" fill="#8090c0"/><rect x="95.12" y="369.41" width="1.2" height="1.2" fill="#6a80b8"/><rect x="94.91" y="373.82" width="1.2" height="1.2" fill="#8090c0"/><rect x="95.03" y="380.16" width="1.2" height="1.2" fill="#6a80b8"/><rect x="94.65" y="376.49" width="1.2" height="1.2" fill="#5a6aa0"/><rect x="93.98" y="372.73" width="1.2" height="1.2" fill="#7a90c0"/><rect x="95.15" y="375.12" width="1.2" height="1.2" fill="#6a80b8"/><rect x="94.59" y="369.68" width="1.2" height="1.2" fill="#5a6aa0"/><rect x="94.81" y="368.63" width="1.2" height="1.2" fill="#5a6aa0"/><rect x="95.22" y="371.81" width="1.2" height="1.2" fill="#6a80b8"/><rect x="94.28" y="381.62" width="1.2" height="1.2" fill="#5a70b0"/><rect x="95.11" y="380.48" width="1.2" height="1.2" fill="#8090c0"/><rect x="95.03" y="373.36" width="1.2" height="1.2" fill="#5a6aa0"/><rect x="94.02" y="398.92" width="1.2" height="1.2" fill="#80a860"/><rect x="95.49" y="397.40" width="1.2" height="1.2" fill="#98b860"/><rect x="94.25" y="397.76" width="1.2" height="1.2" fill="#90b058"/><rect x="94.03" y="405.31" width="1.2" height="1.2" fill="#74a068"/><rect x="94.84" y="395.61" width="1.2" height="1.2" fill="#80a860"/><rect x="95.29" y="401.61" width="1.2" height="1.2" fill="#98b860"/><rect x="94.55" y="397.29" width="1.2" height="1.2" fill="#90b058"/><rect x="93.98" y="383.40" width="1.2" height="1.2" fill="#74a068"/><rect x="93.96" y="397.12" width="1.2" height="1.2" fill="#74a068"/><rect x="94.88" y="400.35" width="1.2" height="1.2" fill="#80a860"/><rect x="94.64" y="405.98" width="1.2" height="1.2" fill="#74a068"/><rect x="94.27" y="397.60" width="1.2" height="1.2" fill="#90b058"/><rect x="95.63" y="391.00" width="1.2" height="1.2" fill="#74a068"/><rect x="94.95" y="400.85" width="1.2" height="1.2" fill="#98b860"/><rect x="94.08" y="384.52" width="1.2" height="1.2" fill="#80a860"/><rect x="94.43" y="406.18" width="1.2" height="1.2" fill="#68987a"/><rect x="94.21" y="387.46" width="1.2" height="1.2" fill="#74a068"/><rect x="94.93" y="387.87" width="1.2" height="1.2" fill="#80a860"/><rect x="95.39" y="384.45" width="1.2" height="1.2" fill="#74a068"/><rect x="94.34" y="405.63" width="1.2" height="1.2" fill="#90b058"/><rect x="94.09" y="383.90" width="1.2" height="1.2" fill="#90b058"/><rect x="94.06" y="404.02" width="1.2" height="1.2" fill="#80a860"/><rect x="94.77" y="382.75" width="1.2" height="1.2" fill="#90b058"/><rect x="95.14" y="389.78" width="1.2" height="1.2" fill="#74a068"/><rect x="93.70" y="390.40" width="1.2" height="1.2" fill="#80a860"/><rect x="94.36" y="402.06" width="1.2" height="1.2" fill="#74a068"/><rect x="94.95" y="394.86" width="1.2" height="1.2" fill="#74a068"/><rect x="94.16" y="393.52" width="1.2" height="1.2" fill="#68987a"/><rect x="94.11" y="392.14" width="1.2" height="1.2" fill="#98b860"/><rect x="96.52" y="385.80" width="1.2" height="1.2" fill="#68987a"/><rect x="94.66" y="406.57" width="1.2" height="1.2" fill="#98b860"/><rect x="95.87" y="395.87" width="1.2" height="1.2" fill="#80a860"/><rect x="94.49" y="400.54" width="1.2" height="1.2" fill="#68987a"/><rect x="92.98" y="405.98" width="1.2" height="1.2" fill="#80a860"/><rect x="94.14" y="403.35" width="1.2" height="1.2" fill="#74a068"/><rect x="94.61" y="384.90" width="1.2" height="1.2" fill="#68987a"/><rect x="94.81" y="405.00" width="1.2" height="1.2" fill="#98b860"/><rect x="95.92" y="396.32" width="1.2" height="1.2" fill="#90b058"/><rect x="94.71" y="394.48" width="1.2" height="1.2" fill="#90b058"/><rect x="93.78" y="398.47" width="1.2" height="1.2" fill="#68987a"/><rect x="94.47" y="384.74" width="1.2" height="1.2" fill="#90b058"/><rect x="95.19" y="388.21" width="1.2" height="1.2" fill="#80a860"/><rect x="93.90" y="390.70" width="1.2" height="1.2" fill="#90b058"/><rect x="94.91" y="384.96" width="1.2" height="1.2" fill="#90b058"/><rect x="94.34" y="401.69" width="1.2" height="1.2" fill="#90b058"/><rect x="95.72" y="402.49" width="1.2" height="1.2" fill="#98b860"/><rect x="94.65" y="383.15" width="1.2" height="1.2" fill="#74a068"/><rect x="93.89" y="388.11" width="1.2" height="1.2" fill="#80a860"/><rect x="93.95" y="393.72" width="1.2" height="1.2" fill="#80a860"/><rect x="94.64" y="403.33" width="1.2" height="1.2" fill="#80a860"/><rect x="94.36" y="383.61" width="1.2" height="1.2" fill="#80a860"/><rect x="95.41" y="403.26" width="1.2" height="1.2" fill="#74a068"/><rect x="95.09" y="385.83" width="1.2" height="1.2" fill="#80a860"/><rect x="93.96" y="390.68" width="1.2" height="1.2" fill="#74a068"/><rect x="93.75" y="388.52" width="1.2" height="1.2" fill="#74a068"/><rect x="94.65" y="392.62" width="1.2" height="1.2" fill="#98b860"/><rect x="94.65" y="401.78" width="1.2" height="1.2" fill="#68987a"/><rect x="93.84" y="386.36" width="1.2" height="1.2" fill="#68987a"/><rect x="95.38" y="391.41" width="1.2" height="1.2" fill="#80a860"/><rect x="93.90" y="397.47" width="1.2" height="1.2" fill="#98b860"/><rect x="94.92" y="400.90" width="1.2" height="1.2" fill="#74a068"/><rect x="94.29" y="392.41" width="1.2" height="1.2" fill="#90b058"/><rect x="93.77" y="387.37" width="1.2" height="1.2" fill="#74a068"/><rect x="95.36" y="399.28" width="1.2" height="1.2" fill="#98b860"/><rect x="94.97" y="385.16" width="1.2" height="1.2" fill="#80a860"/><rect x="93.40" y="405.31" width="1.2" height="1.2" fill="#74a068"/><rect x="95.81" y="384.94" width="1.2" height="1.2" fill="#80a860"/><rect x="94.42" y="405.38" width="1.2" height="1.2" fill="#68987a"/><rect x="93.05" y="401.71" width="1.2" height="1.2" fill="#80a860"/><rect x="94.26" y="400.24" width="1.2" height="1.2" fill="#68987a"/><rect x="94.45" y="399.81" width="1.2" height="1.2" fill="#98b860"/><rect x="94.64" y="385.49" width="1.2" height="1.2" fill="#80a860"/><rect x="94.36" y="396.01" width="1.2" height="1.2" fill="#98b860"/><rect x="96.12" y="386.38" width="1.2" height="1.2" fill="#80a860"/><rect x="94.83" y="382.54" width="1.2" height="1.2" fill="#80a860"/><rect x="95.62" y="398.74" width="1.2" height="1.2" fill="#68987a"/><rect x="92.91" y="389.38" width="1.2" height="1.2" fill="#80a860"/><rect x="94.70" y="382.81" width="1.2" height="1.2" fill="#90b058"/><rect x="93.65" y="384.57" width="1.2" height="1.2" fill="#80a860"/><rect x="95.26" y="405.26" width="1.2" height="1.2" fill="#68987a"/><rect x="94.87" y="386.41" width="1.2" height="1.2" fill="#80a860"/><rect x="94.86" y="387.95" width="1.2" height="1.2" fill="#68987a"/><rect x="95.15" y="399.40" width="1.2" height="1.2" fill="#98b860"/><rect x="93.07" y="388.22" width="1.2" height="1.2" fill="#68987a"/><rect x="93.49" y="392.36" width="1.2" height="1.2" fill="#80a860"/><rect x="94.77" y="391.28" width="1.2" height="1.2" fill="#90b058"/><rect x="96.43" y="392.28" width="1.2" height="1.2" fill="#68987a"/><rect x="94.16" y="400.80" width="1.2" height="1.2" fill="#98b860"/><rect x="93.74" y="385.80" width="1.2" height="1.2" fill="#98b860"/><rect x="94.81" y="404.34" width="1.2" height="1.2" fill="#98b860"/><rect x="94.89" y="404.82" width="1.2" height="1.2" fill="#68987a"/><rect x="93.25" y="405.67" width="1.2" height="1.2" fill="#90b058"/><rect x="93.78" y="388.58" width="1.2" height="1.2" fill="#90b058"/><rect x="92.74" y="385.56" width="1.2" height="1.2" fill="#68987a"/><rect x="94.42" y="405.74" width="1.2" height="1.2" fill="#74a068"/><rect x="95.26" y="398.68" width="1.2" height="1.2" fill="#68987a"/><rect x="93.75" y="396.52" width="1.2" height="1.2" fill="#74a068"/><rect x="94.38" y="404.14" width="1.2" height="1.2" fill="#98b860"/><rect x="95.19" y="386.92" width="1.2" height="1.2" fill="#68987a"/><rect x="94.00" y="390.91" width="1.2" height="1.2" fill="#90b058"/><rect x="95.84" y="392.36" width="1.2" height="1.2" fill="#98b860"/><rect x="94.89" y="399.44" width="1.2" height="1.2" fill="#68987a"/><rect x="95.61" y="382.59" width="1.2" height="1.2" fill="#80a860"/><rect x="93.55" y="403.32" width="1.2" height="1.2" fill="#80a860"/><rect x="95.36" y="393.58" width="1.2" height="1.2" fill="#90b058"/><rect x="93.77" y="404.17" width="1.2" height="1.2" fill="#80a860"/><rect x="93.49" y="405.87" width="1.2" height="1.2" fill="#74a068"/><rect x="94.83" y="387.95" width="1.2" height="1.2" fill="#90b058"/><rect x="95.17" y="397.45" width="1.2" height="1.2" fill="#80a860"/><rect x="94.55" y="404.39" width="1.2" height="1.2" fill="#74a068"/><rect x="96.20" y="386.48" width="1.2" height="1.2" fill="#80a860"/><rect x="94.90" y="400.12" width="1.2" height="1.2" fill="#74a068"/><rect x="94.78" y="382.80" width="1.2" height="1.2" fill="#98b860"/><rect x="94.56" y="396.41" width="1.2" height="1.2" fill="#74a068"/><rect x="94.52" y="390.19" width="1.2" height="1.2" fill="#98b860"/><rect x="94.86" y="394.05" width="1.2" height="1.2" fill="#98b860"/><rect x="95.63" y="391.67" width="1.2" height="1.2" fill="#68987a"/><rect x="94.84" y="389.87" width="1.2" height="1.2" fill="#98b860"/><rect x="94.39" y="384.71" width="1.2" height="1.2" fill="#68987a"/><rect x="96.16" y="404.62" width="1.2" height="1.2" fill="#74a068"/><rect x="95.69" y="410.63" width="1.2" height="1.2" fill="#c0a048"/><rect x="94.26" y="411.07" width="1.2" height="1.2" fill="#a0a050"/><rect x="95.75" y="412.09" width="1.2" height="1.2" fill="#c0a048"/><rect x="95.28" y="407.49" width="1.2" height="1.2" fill="#a0a050"/><rect x="94.35" y="409.85" width="1.2" height="1.2" fill="#b0a040"/><rect x="94.32" y="410.57" width="1.2" height="1.2" fill="#c0a048"/><rect x="94.58" y="410.63" width="1.2" height="1.2" fill="#a0a050"/><rect x="93.81" y="410.98" width="1.2" height="1.2" fill="#b0a040"/><rect x="93.57" y="407.89" width="1.2" height="1.2" fill="#a0a050"/><rect x="95.40" y="409.40" width="1.2" height="1.2" fill="#c0a048"/><rect x="95.24" y="410.45" width="1.2" height="1.2" fill="#a0a050"/><rect x="93.51" y="410.19" width="1.2" height="1.2" fill="#c0a048"/><rect x="94.21" y="409.55" width="1.2" height="1.2" fill="#b0a040"/><rect x="94.99" y="410.78" width="1.2" height="1.2" fill="#a0a050"/><rect x="94.92" y="409.89" width="1.2" height="1.2" fill="#a0a050"/><rect x="95.11" y="409.06" width="1.2" height="1.2" fill="#b0a040"/><rect x="94.97" y="411.70" width="1.2" height="1.2" fill="#b0a040"/><rect x="94.44" y="409.53" width="1.2" height="1.2" fill="#a0a050"/><rect x="95.82" y="408.85" width="1.2" height="1.2" fill="#c0a048"/><rect x="93.22" y="412.10" width="1.2" height="1.2" fill="#b0a040"/><rect x="95.07" y="408.84" width="1.2" height="1.2" fill="#b0a040"/><rect x="93.58" y="407.73" width="1.2" height="1.2" fill="#a0a050"/><rect x="94.02" y="419.41" width="1.2" height="1.2" fill="#508890"/><rect x="94.30" y="413.41" width="1.2" height="1.2" fill="#508890"/><rect x="93.72" y="419.09" width="1.2" height="1.2" fill="#508890"/><rect x="93.49" y="413.56" width="1.2" height="1.2" fill="#5a9070"/><rect x="93.71" y="417.30" width="1.2" height="1.2" fill="#5a9070"/><rect x="94.76" y="417.52" width="1.2" height="1.2" fill="#6a98a0"/><rect x="95.12" y="412.67" width="1.2" height="1.2" fill="#6a98a0"/><rect x="95.27" y="420.42" width="1.2" height="1.2" fill="#508890"/><rect x="94.38" y="420.56" width="1.2" height="1.2" fill="#6a98a0"/><rect x="95.69" y="418.10" width="1.2" height="1.2" fill="#6a98a0"/><rect x="94.44" y="420.46" width="1.2" height="1.2" fill="#508890"/><rect x="93.67" y="416.76" width="1.2" height="1.2" fill="#5a9070"/><rect x="93.91" y="413.37" width="1.2" height="1.2" fill="#508890"/><rect x="95.07" y="414.50" width="1.2" height="1.2" fill="#5a9070"/><rect x="95.49" y="414.14" width="1.2" height="1.2" fill="#508890"/><rect x="95.23" y="414.31" width="1.2" height="1.2" fill="#6a98a0"/><rect x="93.08" y="413.40" width="1.2" height="1.2" fill="#6a98a0"/><rect x="94.90" y="421.03" width="1.2" height="1.2" fill="#5a9070"/><rect x="94.36" y="418.01" width="1.2" height="1.2" fill="#5a9070"/><rect x="93.97" y="412.63" width="1.2" height="1.2" fill="#6a98a0"/><rect x="94.02" y="417.25" width="1.2" height="1.2" fill="#6a98a0"/><rect x="95.36" y="415.31" width="1.2" height="1.2" fill="#5a9070"/><rect x="93.79" y="413.12" width="1.2" height="1.2" fill="#508890"/><rect x="94.89" y="419.38" width="1.2" height="1.2" fill="#6a98a0"/><rect x="94.66" y="421.38" width="1.2" height="1.2" fill="#5a9070"/><rect x="95.10" y="420.79" width="1.2" height="1.2" fill="#5a9070"/><rect x="94.01" y="416.77" width="1.2" height="1.2" fill="#5a9070"/><rect x="93.43" y="419.48" width="1.2" height="1.2" fill="#508890"/><rect x="123.23" y="386.50" width="1.2" height="1.2" fill="#8898b8"/><rect x="124.85" y="391.60" width="1.2" height="1.2" fill="#8898b8"/><rect x="105.26" y="373.13" width="1.2" height="1.2" fill="#50608a"/><rect x="106.06" y="365.49" width="1.2" height="1.2" fill="#a0a8c4"/><rect x="123.57" y="359.79" width="1.2" height="1.2" fill="#a0a8c4"/><rect x="106.09" y="374.62" width="1.2" height="1.2" fill="#a0a8c4"/><rect x="120.36" y="347.24" width="1.2" height="1.2" fill="#8898b8"/><rect x="121.88" y="397.29" width="1.2" height="1.2" fill="#a8b0c8"/><rect x="118.43" y="400.10" width="1.2" height="1.2" fill="#50608a"/><rect x="120.40" y="346.01" width="1.2" height="1.2" fill="#50608a"/><rect x="121.27" y="398.13" width="1.2" height="1.2" fill="#a0a8c4"/><rect x="118.79" y="399.59" width="1.2" height="1.2" fill="#8898b8"/><rect x="124.89" y="353.48" width="1.2" height="1.2" fill="#8898b8"/><rect x="112.26" y="381.23" width="1.2" height="1.2" fill="#7888ac"/><rect x="103.87" y="397.91" width="1.2" height="1.2" fill="#9aa0c0"/><rect x="119.06" y="396.37" width="1.2" height="1.2" fill="#9aa0c0"/><rect x="119.75" y="352.53" width="1.2" height="1.2" fill="#a0a8c4"/><rect x="101.86" y="374.27" width="1.2" height="1.2" fill="#a0a8c4"/><rect x="122.93" y="388.71" width="1.2" height="1.2" fill="#a8b0c8"/><rect x="124.38" y="372.87" width="1.2" height="1.2" fill="#7888ac"/><rect x="112.14" y="352.84" width="1.2" height="1.2" fill="#8898b8"/><rect x="118.58" y="358.82" width="1.2" height="1.2" fill="#8898b8"/><rect x="112.87" y="392.02" width="1.2" height="1.2" fill="#8898b8"/><rect x="111.71" y="402.07" width="1.2" height="1.2" fill="#a0a8c4"/><rect x="120.07" y="359.77" width="1.2" height="1.2" fill="#8898b8"/><rect x="113.19" y="351.56" width="1.2" height="1.2" fill="#a0a8c4"/><rect x="112.02" y="362.05" width="1.2" height="1.2" fill="#8898b8"/><rect x="123.64" y="387.60" width="1.2" height="1.2" fill="#8898b8"/><rect x="123.25" y="372.11" width="1.2" height="1.2" fill="#a8b0c8"/><rect x="108.54" y="381.88" width="1.2" height="1.2" fill="#7888ac"/><rect x="110.30" y="363.56" width="1.2" height="1.2" fill="#8898b8"/><rect x="113.50" y="348.90" width="1.2" height="1.2" fill="#a0a8c4"/><rect x="122.74" y="346.40" width="1.2" height="1.2" fill="#9aa0c0"/><rect x="105.47" y="399.13" width="1.2" height="1.2" fill="#50608a"/><rect x="124.50" y="360.95" width="1.2" height="1.2" fill="#7888ac"/><rect x="117.77" y="348.97" width="1.2" height="1.2" fill="#a0a8c4"/><rect x="125.33" y="386.27" width="1.2" height="1.2" fill="#50608a"/><rect x="104.18" y="372.76" width="1.2" height="1.2" fill="#a8b0c8"/><rect x="117.08" y="349.67" width="1.2" height="1.2" fill="#8898b8"/><rect x="112.77" y="363.43" width="1.2" height="1.2" fill="#8898b8"/><rect x="115.06" y="399.09" width="1.2" height="1.2" fill="#9aa0c0"/><rect x="113.38" y="369.64" width="1.2" height="1.2" fill="#8898b8"/><rect x="119.17" y="359.60" width="1.2" height="1.2" fill="#8898b8"/><rect x="107.15" y="394.78" width="1.2" height="1.2" fill="#50608a"/><rect x="109.82" y="377.17" width="1.2" height="1.2" fill="#9aa0c0"/><rect x="107.44" y="377.79" width="1.2" height="1.2" fill="#a0a8c4"/><rect x="121.73" y="395.32" width="1.2" height="1.2" fill="#8898b8"/><rect x="118.11" y="362.14" width="1.2" height="1.2" fill="#9aa0c0"/><rect x="110.31" y="390.96" width="1.2" height="1.2" fill="#50608a"/><rect x="108.83" y="404.41" width="1.2" height="1.2" fill="#a8b0c8"/><rect x="119.19" y="366.49" width="1.2" height="1.2" fill="#9aa0c0"/><rect x="114.57" y="349.14" width="1.2" height="1.2" fill="#7888ac"/><rect x="105.93" y="369.97" width="1.2" height="1.2" fill="#a0a8c4"/><rect x="111.17" y="385.33" width="1.2" height="1.2" fill="#a0a8c4"/><rect x="119.96" y="380.06" width="1.2" height="1.2" fill="#8898b8"/><rect x="123.77" y="358.92" width="1.2" height="1.2" fill="#7888ac"/><rect x="119.54" y="360.51" width="1.2" height="1.2" fill="#a8b0c8"/><rect x="123.02" y="344.55" width="1.2" height="1.2" fill="#7888ac"/><rect x="122.31" y="364.18" width="1.2" height="1.2" fill="#a0a8c4"/><rect x="109.57" y="374.75" width="1.2" height="1.2" fill="#8898b8"/><rect x="110.50" y="401.11" width="1.2" height="1.2" fill="#a0a8c4"/><rect x="120.14" y="343.72" width="1.2" height="1.2" fill="#a0a8c4"/><rect x="117.32" y="374.45" width="1.2" height="1.2" fill="#a0a8c4"/><rect x="112.38" y="379.01" width="1.2" height="1.2" fill="#9aa0c0"/><rect x="103.64" y="386.88" width="1.2" height="1.2" fill="#a0a8c4"/><rect x="119.44" y="353.67" width="1.2" height="1.2" fill="#a0a8c4"/><rect x="119.79" y="390.23" width="1.2" height="1.2" fill="#a0a8c4"/><rect x="110.55" y="364.31" width="1.2" height="1.2" fill="#7888ac"/><rect x="123.28" y="370.28" width="1.2" height="1.2" fill="#a0a8c4"/><rect x="112.33" y="353.68" width="1.2" height="1.2" fill="#a8b0c8"/><rect x="121.93" y="374.50" width="1.2" height="1.2" fill="#a0a8c4"/><rect x="124.80" y="392.10" width="1.2" height="1.2" fill="#7888ac"/><rect x="107.86" y="389.64" width="1.2" height="1.2" fill="#9aa0c0"/><rect x="117.97" y="371.87" width="1.2" height="1.2" fill="#a0a8c4"/><rect x="115.18" y="366.18" width="1.2" height="1.2" fill="#8898b8"/><rect x="119.09" y="363.37" width="1.2" height="1.2" fill="#8898b8"/><rect x="123.32" y="345.10" width="1.2" height="1.2" fill="#8898b8"/><rect x="102.28" y="384.28" width="1.2" height="1.2" fill="#9aa0c0"/><rect x="105.42" y="385.72" width="1.2" height="1.2" fill="#a0a8c4"/><rect x="121.97" y="363.95" width="1.2" height="1.2" fill="#a0a8c4"/><rect x="115.70" y="369.63" width="1.2" height="1.2" fill="#a8b0c8"/><rect x="114.24" y="375.81" width="1.2" height="1.2" fill="#a0a8c4"/><rect x="109.61" y="397.80" width="1.2" height="1.2" fill="#8898b8"/><rect x="119.17" y="373.85" width="1.2" height="1.2" fill="#9aa0c0"/><rect x="112.42" y="360.60" width="1.2" height="1.2" fill="#7888ac"/><rect x="113.35" y="372.31" width="1.2" height="1.2" fill="#9aa0c0"/><rect x="112.23" y="371.23" width="1.2" height="1.2" fill="#9aa0c0"/><rect x="107.97" y="359.98" width="1.2" height="1.2" fill="#50608a"/><rect x="102.50" y="385.09" width="1.2" height="1.2" fill="#8898b8"/><rect x="113.38" y="404.04" width="1.2" height="1.2" fill="#a8b0c8"/><rect x="120.07" y="389.51" width="1.2" height="1.2" fill="#a8b0c8"/><rect x="112.18" y="354.13" width="1.2" height="1.2" fill="#a8b0c8"/><rect x="114.23" y="363.77" width="1.2" height="1.2" fill="#a0a8c4"/><rect x="122.83" y="366.91" width="1.2" height="1.2" fill="#50608a"/><rect x="117.21" y="387.80" width="1.2" height="1.2" fill="#a8b0c8"/><rect x="114.31" y="370.79" width="1.2" height="1.2" fill="#7888ac"/><rect x="124.21" y="349.69" width="1.2" height="1.2" fill="#a0a8c4"/><rect x="113.39" y="349.23" width="1.2" height="1.2" fill="#a8b0c8"/><rect x="112.32" y="382.10" width="1.2" height="1.2" fill="#a0a8c4"/><rect x="122.28" y="356.79" width="1.2" height="1.2" fill="#a0a8c4"/><rect x="104.86" y="386.90" width="1.2" height="1.2" fill="#a0a8c4"/><rect x="119.23" y="345.13" width="1.2" height="1.2" fill="#8898b8"/><rect x="123.20" y="376.42" width="1.2" height="1.2" fill="#a0a8c4"/><rect x="114.48" y="393.71" width="1.2" height="1.2" fill="#7888ac"/><rect x="121.85" y="362.56" width="1.2" height="1.2" fill="#7888ac"/><rect x="110.42" y="360.74" width="1.2" height="1.2" fill="#8898b8"/><rect x="109.40" y="364.90" width="1.2" height="1.2" fill="#9aa0c0"/><rect x="107.82" y="364.11" width="1.2" height="1.2" fill="#a8b0c8"/><rect x="109.32" y="371.08" width="1.2" height="1.2" fill="#7888ac"/><rect x="120.10" y="344.81" width="1.2" height="1.2" fill="#a0a8c4"/><rect x="118.69" y="388.88" width="1.2" height="1.2" fill="#8898b8"/><rect x="116.22" y="382.41" width="1.2" height="1.2" fill="#a0a8c4"/><rect x="120.53" y="359.57" width="1.2" height="1.2" fill="#a8b0c8"/><rect x="105.67" y="364.12" width="1.2" height="1.2" fill="#a8b0c8"/><rect x="120.87" y="401.59" width="1.2" height="1.2" fill="#50608a"/><rect x="116.21" y="369.29" width="1.2" height="1.2" fill="#9aa0c0"/><rect x="124.20" y="346.61" width="1.2" height="1.2" fill="#8898b8"/><rect x="118.93" y="383.17" width="1.2" height="1.2" fill="#a0a8c4"/><rect x="119.82" y="351.37" width="1.2" height="1.2" fill="#9aa0c0"/><rect x="113.45" y="363.97" width="1.2" height="1.2" fill="#8898b8"/><rect x="112.70" y="374.21" width="1.2" height="1.2" fill="#a0a8c4"/><rect x="116.31" y="366.59" width="1.2" height="1.2" fill="#7888ac"/><rect x="124.37" y="358.11" width="1.2" height="1.2" fill="#7888ac"/><rect x="117.49" y="368.67" width="1.2" height="1.2" fill="#a0a8c4"/><rect x="104.89" y="399.25" width="1.2" height="1.2" fill="#8898b8"/><rect x="100.48" y="399.69" width="1.2" height="1.2" fill="#6a70b0"/><rect x="99.25" y="376.43" width="1.2" height="1.2" fill="#7a6ab0"/><rect x="100.98" y="403.27" width="1.2" height="1.2" fill="#7a6ab0"/><rect x="100.26" y="377.57" width="1.2" height="1.2" fill="#5a68a8"/><rect x="99.74" y="400.65" width="1.2" height="1.2" fill="#5a68a8"/><rect x="98.55" y="381.27" width="1.2" height="1.2" fill="#9a90c8"/><rect x="99.12" y="376.75" width="1.2" height="1.2" fill="#6a70b0"/><rect x="101.22" y="374.73" width="1.2" height="1.2" fill="#6a70b0"/><rect x="100.82" y="401.50" width="1.2" height="1.2" fill="#8a80c0"/><rect x="98.17" y="403.48" width="1.2" height="1.2" fill="#8a80c0"/><rect x="100.33" y="391.18" width="1.2" height="1.2" fill="#9a90c8"/><rect x="100.95" y="391.22" width="1.2" height="1.2" fill="#7a6ab0"/><rect x="99.53" y="372.90" width="1.2" height="1.2" fill="#7a6ab0"/><rect x="97.94" y="378.12" width="1.2" height="1.2" fill="#5a68a8"/><rect x="101.98" y="370.86" width="1.2" height="1.2" fill="#6a70b0"/><rect x="98.00" y="376.91" width="1.2" height="1.2" fill="#5a68a8"/><rect x="100.15" y="399.30" width="1.2" height="1.2" fill="#5a68a8"/><rect x="100.34" y="402.11" width="1.2" height="1.2" fill="#8a80c0"/><rect x="99.09" y="376.98" width="1.2" height="1.2" fill="#5a68a8"/><rect x="101.36" y="383.39" width="1.2" height="1.2" fill="#8a80c0"/><rect x="101.90" y="400.40" width="1.2" height="1.2" fill="#9a90c8"/><rect x="100.59" y="380.01" width="1.2" height="1.2" fill="#7a6ab0"/><rect x="100.96" y="378.61" width="1.2" height="1.2" fill="#9a90c8"/><rect x="97.34" y="382.52" width="1.2" height="1.2" fill="#9a90c8"/><rect x="97.08" y="406.87" width="1.2" height="1.2" fill="#9a90c8"/><rect x="97.23" y="401.85" width="1.2" height="1.2" fill="#5a68a8"/><rect x="96.83" y="377.01" width="1.2" height="1.2" fill="#6a70b0"/><rect x="99.89" y="400.19" width="1.2" height="1.2" fill="#8a80c0"/></g>
<rect x="66.60" y="278.80" width="190.30" height="189.80" fill="none" stroke="#000" stroke-width="1.3"/>
<text x="70.20" y="301.80" font-size="7.6" text-anchor="start" fill="#1a1a1a" stroke="#1a1a1a" >G1</text>
<text x="70.20" y="310.50" font-size="7.6" text-anchor="start" fill="#8e3a7c" stroke="#8e3a7c" >54.0</text>
<text x="187.90" y="301.80" font-size="7.6" text-anchor="start" fill="#1a1a1a" stroke="#1a1a1a" >S-G2-M</text>
<text x="188.20" y="310.70" font-size="7.6" text-anchor="start" fill="#8e3a7c" stroke="#8e3a7c" >25.7</text>
<text x="70.20" y="445.80" font-size="7.6" text-anchor="start" fill="#1a1a1a" stroke="#1a1a1a" >G0</text>
<text x="70.20" y="454.40" font-size="7.6" text-anchor="start" fill="#8e3a7c" stroke="#8e3a7c" >20.3</text>
<text x="59.10" y="430.50" font-size="7.8" text-anchor="end" fill="#1a1a1a" stroke="#1a1a1a">10<tspan font-size="4.6" dy="-3.2">2</tspan></text>
<text x="59.10" y="384.90" font-size="7.8" text-anchor="end" fill="#1a1a1a" stroke="#1a1a1a">10<tspan font-size="4.6" dy="-3.2">3</tspan></text>
<text x="59.10" y="340.70" font-size="7.8" text-anchor="end" fill="#1a1a1a" stroke="#1a1a1a">10<tspan font-size="4.6" dy="-3.2">4</tspan></text>
<text x="59.10" y="298.80" font-size="7.8" text-anchor="end" fill="#1a1a1a" stroke="#1a1a1a">10<tspan font-size="4.6" dy="-3.2">5</tspan></text>
<text x="60.20" y="451.80" font-size="7.8" text-anchor="end" fill="#1a1a1a" stroke="#1a1a1a" >0</text>
<text x="66.60" y="481.80" font-size="8.0" text-anchor="middle" fill="#1a1a1a" stroke="#1a1a1a" >0</text>
<text x="102.90" y="481.80" font-size="8.0" text-anchor="middle" fill="#1a1a1a" stroke="#1a1a1a" >50k</text>
<text x="139.19" y="481.80" font-size="8.0" text-anchor="middle" fill="#1a1a1a" stroke="#1a1a1a" >100k</text>
<text x="175.49" y="481.80" font-size="8.0" text-anchor="middle" fill="#1a1a1a" stroke="#1a1a1a" >150k</text>
<text x="211.79" y="481.80" font-size="8.0" text-anchor="middle" fill="#1a1a1a" stroke="#1a1a1a" >200k</text>
<text x="248.08" y="481.80" font-size="8.0" text-anchor="middle" fill="#1a1a1a" stroke="#1a1a1a" >250k</text>
<text x="162.25" y="495.60" font-size="9.8" text-anchor="middle" fill="#1a1a1a" stroke="#1a1a1a" textLength="58.2" lengthAdjust="spacingAndGlyphs">Hoechst 33342</text>
<text transform="translate(41.70,373.50) rotate(-90)" font-size="10.2" text-anchor="middle" textLength="17.6" lengthAdjust="spacingAndGlyphs" fill="#1a1a1a" stroke="#1a1a1a">Ki67</text>
<text x="33.50" y="285.80" font-size="9.4" text-anchor="start" fill="#1a1a1a" stroke="#1a1a1a" >(iii)</text>
<line x1="304.70" y1="428.40" x2="307.30" y2="428.40" stroke="#111" stroke-width="1.1"/>
<line x1="305.70" y1="414.67" x2="307.30" y2="414.67" stroke="#111" stroke-width="0.9"/>
<line x1="305.70" y1="406.64" x2="307.30" y2="406.64" stroke="#111" stroke-width="0.9"/>
<line x1="305.70" y1="400.95" x2="307.30" y2="400.95" stroke="#111" stroke-width="0.9"/>
<line x1="305.70" y1="396.53" x2="307.30" y2="396.53" stroke="#111" stroke-width="0.9"/>
<line x1="305.70" y1="392.92" x2="307.30" y2="392.92" stroke="#111" stroke-width="0.9"/>
<line x1="305.70" y1="389.86" x2="307.30" y2="389.86" stroke="#111" stroke-width="0.9"/>
<line x1="305.70" y1="387.22" x2="307.30" y2="387.22" stroke="#111" stroke-width="0.9"/>
<line x1="305.70" y1="384.89" x2="307.30" y2="384.89" stroke="#111" stroke-width="0.9"/>
<line x1="304.70" y1="382.80" x2="307.30" y2="382.80" stroke="#111" stroke-width="1.1"/>
<line x1="305.70" y1="369.49" x2="307.30" y2="369.49" stroke="#111" stroke-width="0.9"/>
<line x1="305.70" y1="361.71" x2="307.30" y2="361.71" stroke="#111" stroke-width="0.9"/>
<line x1="305.70" y1="356.19" x2="307.30" y2="356.19" stroke="#111" stroke-width="0.9"/>
<line x1="305.70" y1="351.91" x2="307.30" y2="351.91" stroke="#111" stroke-width="0.9"/>
<line x1="305.70" y1="348.41" x2="307.30" y2="348.41" stroke="#111" stroke-width="0.9"/>
<line x1="305.70" y1="345.45" x2="307.30" y2="345.45" stroke="#111" stroke-width="0.9"/>
<line x1="305.70" y1="342.88" x2="307.30" y2="342.88" stroke="#111" stroke-width="0.9"/>
<line x1="305.70" y1="340.62" x2="307.30" y2="340.62" stroke="#111" stroke-width="0.9"/>
<line x1="304.70" y1="338.60" x2="307.30" y2="338.60" stroke="#111" stroke-width="1.1"/>
<line x1="305.70" y1="325.99" x2="307.30" y2="325.99" stroke="#111" stroke-width="0.9"/>
<line x1="305.70" y1="318.61" x2="307.30" y2="318.61" stroke="#111" stroke-width="0.9"/>
<line x1="305.70" y1="313.37" x2="307.30" y2="313.37" stroke="#111" stroke-width="0.9"/>
<line x1="305.70" y1="309.31" x2="307.30" y2="309.31" stroke="#111" stroke-width="0.9"/>
<line x1="305.70" y1="306.00" x2="307.30" y2="306.00" stroke="#111" stroke-width="0.9"/>
<line x1="305.70" y1="303.19" x2="307.30" y2="303.19" stroke="#111" stroke-width="0.9"/>
<line x1="305.70" y1="300.76" x2="307.30" y2="300.76" stroke="#111" stroke-width="0.9"/>
<line x1="305.70" y1="298.62" x2="307.30" y2="298.62" stroke="#111" stroke-width="0.9"/>
<line x1="304.70" y1="296.70" x2="307.30" y2="296.70" stroke="#111" stroke-width="1.1"/>
<line x1="305.70" y1="284.09" x2="307.30" y2="284.09" stroke="#111" stroke-width="0.9"/>
<line x1="304.70" y1="449.10" x2="307.30" y2="449.10" stroke="#111" stroke-width="1.1"/>
<line x1="305.70" y1="430.10" x2="307.30" y2="430.10" stroke="#111" stroke-width="0.9"/>
<line x1="305.70" y1="434.10" x2="307.30" y2="434.10" stroke="#111" stroke-width="0.9"/>
<line x1="305.70" y1="438.10" x2="307.30" y2="438.10" stroke="#111" stroke-width="0.9"/>
<line x1="305.70" y1="441.60" x2="307.30" y2="441.60" stroke="#111" stroke-width="0.9"/>
<line x1="305.70" y1="445.30" x2="307.30" y2="445.30" stroke="#111" stroke-width="0.9"/>
<line x1="305.70" y1="452.90" x2="307.30" y2="452.90" stroke="#111" stroke-width="0.9"/>
<line x1="305.70" y1="456.70" x2="307.30" y2="456.70" stroke="#111" stroke-width="0.9"/>
<line x1="305.70" y1="460.60" x2="307.30" y2="460.60" stroke="#111" stroke-width="0.9"/>
<line x1="305.70" y1="464.60" x2="307.30" y2="464.60" stroke="#111" stroke-width="0.9"/>
<line x1="307.30" y1="468.60" x2="307.30" y2="471.40" stroke="#111" stroke-width="1.0"/>
<line x1="314.56" y1="468.60" x2="314.56" y2="470.30" stroke="#111" stroke-width="0.9"/>
<line x1="321.82" y1="468.60" x2="321.82" y2="470.30" stroke="#111" stroke-width="0.9"/>
<line x1="329.08" y1="468.60" x2="329.08" y2="470.30" stroke="#111" stroke-width="0.9"/>
<line x1="336.34" y1="468.60" x2="336.34" y2="470.30" stroke="#111" stroke-width="0.9"/>
<line x1="343.60" y1="468.60" x2="343.60" y2="471.40" stroke="#111" stroke-width="1.0"/>
<line x1="350.86" y1="468.60" x2="350.86" y2="470.30" stroke="#111" stroke-width="0.9"/>
<line x1="358.12" y1="468.60" x2="358.12" y2="470.30" stroke="#111" stroke-width="0.9"/>
<line x1="365.37" y1="468.60" x2="365.37" y2="470.30" stroke="#111" stroke-width="0.9"/>
<line x1="372.63" y1="468.60" x2="372.63" y2="470.30" stroke="#111" stroke-width="0.9"/>
<line x1="379.89" y1="468.60" x2="379.89" y2="471.40" stroke="#111" stroke-width="1.0"/>
<line x1="387.15" y1="468.60" x2="387.15" y2="470.30" stroke="#111" stroke-width="0.9"/>
<line x1="394.41" y1="468.60" x2="394.41" y2="470.30" stroke="#111" stroke-width="0.9"/>
<line x1="401.67" y1="468.60" x2="401.67" y2="470.30" stroke="#111" stroke-width="0.9"/>
<line x1="408.93" y1="468.60" x2="408.93" y2="470.30" stroke="#111" stroke-width="0.9"/>
<line x1="416.19" y1="468.60" x2="416.19" y2="471.40" stroke="#111" stroke-width="1.0"/>
<line x1="423.45" y1="468.60" x2="423.45" y2="470.30" stroke="#111" stroke-width="0.9"/>
<line x1="430.71" y1="468.60" x2="430.71" y2="470.30" stroke="#111" stroke-width="0.9"/>
<line x1="437.97" y1="468.60" x2="437.97" y2="470.30" stroke="#111" stroke-width="0.9"/>
<line x1="445.23" y1="468.60" x2="445.23" y2="470.30" stroke="#111" stroke-width="0.9"/>
<line x1="452.49" y1="468.60" x2="452.49" y2="471.40" stroke="#111" stroke-width="1.0"/>
<line x1="459.75" y1="468.60" x2="459.75" y2="470.30" stroke="#111" stroke-width="0.9"/>
<line x1="467.01" y1="468.60" x2="467.01" y2="470.30" stroke="#111" stroke-width="0.9"/>
<line x1="474.27" y1="468.60" x2="474.27" y2="470.30" stroke="#111" stroke-width="0.9"/>
<line x1="481.52" y1="468.60" x2="481.52" y2="470.30" stroke="#111" stroke-width="0.9"/>
<line x1="488.78" y1="468.60" x2="488.78" y2="471.40" stroke="#111" stroke-width="1.0"/>
<line x1="496.04" y1="468.60" x2="496.04" y2="470.30" stroke="#111" stroke-width="0.9"/>
<rect x="339" y="278.80" width="1" height="189.80" fill="#f2e4ec" shape-rendering="crispEdges"/>
<rect x="340" y="278.80" width="1" height="189.80" fill="#b080a0" shape-rendering="crispEdges"/>
<rect x="341" y="278.80" width="1" height="189.80" fill="#e8d4e0" shape-rendering="crispEdges"/>
<rect x="307.30" y="409" width="190.30" height="1" fill="#f5e8f0" shape-rendering="crispEdges"/>
<rect x="307.30" y="410" width="190.30" height="1" fill="#b68ca8" shape-rendering="crispEdges"/>
<rect x="307.30" y="411" width="190.30" height="1" fill="#f3e8ef" shape-rendering="crispEdges"/>
<g><rect x="337.05" y="364.97" width="1.2" height="1.2" fill="#5a70b0"/><rect x="336.89" y="362.02" width="1.2" height="1.2" fill="#6a80b8"/><rect x="337.67" y="368.31" width="1.2" height="1.2" fill="#6a80b8"/><rect x="335.68" y="364.68" width="1.2" height="1.2" fill="#5a6aa0"/><rect x="336.68" y="367.48" width="1.2" height="1.2" fill="#7a90c0"/><rect x="334.91" y="364.53" width="1.2" height="1.2" fill="#6a80b8"/><rect x="336.91" y="376.94" width="1.2" height="1.2" fill="#5a70b0"/><rect x="335.04" y="363.53" width="1.2" height="1.2" fill="#7a90c0"/><rect x="336.22" y="372.86" width="1.2" height="1.2" fill="#7a90c0"/><rect x="334.82" y="361.95" width="1.2" height="1.2" fill="#5a6aa0"/><rect x="335.93" y="367.02" width="1.2" height="1.2" fill="#5a70b0"/><rect x="336.80" y="369.77" width="1.2" height="1.2" fill="#6a80b8"/><rect x="337.20" y="379.28" width="1.2" height="1.2" fill="#7a90c0"/><rect x="334.64" y="360.35" width="1.2" height="1.2" fill="#7a90c0"/><rect x="337.56" y="371.76" width="1.2" height="1.2" fill="#5a6aa0"/><rect x="335.34" y="364.14" width="1.2" height="1.2" fill="#8090c0"/><rect x="335.96" y="372.30" width="1.2" height="1.2" fill="#7a90c0"/><rect x="336.60" y="365.45" width="1.2" height="1.2" fill="#6a80b8"/><rect x="333.68" y="361.84" width="1.2" height="1.2" fill="#5a6aa0"/><rect x="337.05" y="371.00" width="1.2" height="1.2" fill="#8090c0"/><rect x="337.14" y="374.36" width="1.2" height="1.2" fill="#6a80b8"/><rect x="337.36" y="368.54" width="1.2" height="1.2" fill="#5a70b0"/><rect x="335.92" y="373.03" width="1.2" height="1.2" fill="#8090c0"/><rect x="336.59" y="375.29" width="1.2" height="1.2" fill="#7a90c0"/><rect x="336.63" y="373.02" width="1.2" height="1.2" fill="#6a80b8"/><rect x="337.08" y="374.50" width="1.2" height="1.2" fill="#7a90c0"/><rect x="335.95" y="375.66" width="1.2" height="1.2" fill="#7a90c0"/><rect x="336.00" y="379.08" width="1.2" height="1.2" fill="#7a90c0"/><rect x="337.61" y="369.47" width="1.2" height="1.2" fill="#7a90c0"/><rect x="336.73" y="375.04" width="1.2" height="1.2" fill="#7a90c0"/><rect x="335.89" y="360.57" width="1.2" height="1.2" fill="#8090c0"/><rect x="338.44" y="377.60" width="1.2" height="1.2" fill="#5a6aa0"/><rect x="337.39" y="373.94" width="1.2" height="1.2" fill="#8090c0"/><rect x="336.93" y="366.10" width="1.2" height="1.2" fill="#7a90c0"/><rect x="337.11" y="367.91" width="1.2" height="1.2" fill="#6a80b8"/><rect x="336.23" y="367.54" width="1.2" height="1.2" fill="#8090c0"/><rect x="336.56" y="363.63" width="1.2" height="1.2" fill="#7a90c0"/><rect x="335.65" y="371.74" width="1.2" height="1.2" fill="#8090c0"/><rect x="335.91" y="380.03" width="1.2" height="1.2" fill="#6a80b8"/><rect x="336.65" y="361.46" width="1.2" height="1.2" fill="#5a70b0"/><rect x="337.49" y="372.23" width="1.2" height="1.2" fill="#5a6aa0"/><rect x="336.20" y="370.11" width="1.2" height="1.2" fill="#5a70b0"/><rect x="337.90" y="366.69" width="1.2" height="1.2" fill="#7a90c0"/><rect x="336.74" y="375.83" width="1.2" height="1.2" fill="#8090c0"/><rect x="336.57" y="373.36" width="1.2" height="1.2" fill="#8090c0"/><rect x="336.92" y="368.49" width="1.2" height="1.2" fill="#6a80b8"/><rect x="335.30" y="364.63" width="1.2" height="1.2" fill="#8090c0"/><rect x="336.81" y="376.99" width="1.2" height="1.2" fill="#8090c0"/><rect x="337.00" y="363.99" width="1.2" height="1.2" fill="#5a6aa0"/><rect x="336.54" y="364.40" width="1.2" height="1.2" fill="#5a70b0"/><rect x="336.35" y="368.63" width="1.2" height="1.2" fill="#7a90c0"/><rect x="337.12" y="371.62" width="1.2" height="1.2" fill="#5a6aa0"/><rect x="337.36" y="368.34" width="1.2" height="1.2" fill="#6a80b8"/><rect x="335.71" y="370.18" width="1.2" height="1.2" fill="#6a80b8"/><rect x="337.36" y="368.89" width="1.2" height="1.2" fill="#5a70b0"/><rect x="335.95" y="367.00" width="1.2" height="1.2" fill="#8090c0"/><rect x="335.47" y="376.35" width="1.2" height="1.2" fill="#5a6aa0"/><rect x="335.24" y="364.55" width="1.2" height="1.2" fill="#7a90c0"/><rect x="335.66" y="367.04" width="1.2" height="1.2" fill="#7a90c0"/><rect x="336.99" y="379.63" width="1.2" height="1.2" fill="#5a70b0"/><rect x="336.74" y="361.10" width="1.2" height="1.2" fill="#7a90c0"/><rect x="336.15" y="373.68" width="1.2" height="1.2" fill="#6a80b8"/><rect x="336.06" y="377.78" width="1.2" height="1.2" fill="#8090c0"/><rect x="335.56" y="375.28" width="1.2" height="1.2" fill="#8090c0"/><rect x="338.23" y="364.61" width="1.2" height="1.2" fill="#6a80b8"/><rect x="336.44" y="372.52" width="1.2" height="1.2" fill="#7a90c0"/><rect x="336.92" y="362.54" width="1.2" height="1.2" fill="#5a70b0"/><rect x="335.08" y="371.32" width="1.2" height="1.2" fill="#5a70b0"/><rect x="335.24" y="363.47" width="1.2" height="1.2" fill="#5a6aa0"/><rect x="335.46" y="375.83" width="1.2" height="1.2" fill="#8090c0"/><rect x="336.09" y="378.69" width="1.2" height="1.2" fill="#5a6aa0"/><rect x="336.52" y="362.48" width="1.2" height="1.2" fill="#5a6aa0"/><rect x="336.06" y="377.67" width="1.2" height="1.2" fill="#7a90c0"/><rect x="336.12" y="361.81" width="1.2" height="1.2" fill="#5a6aa0"/><rect x="336.18" y="378.48" width="1.2" height="1.2" fill="#6a80b8"/><rect x="337.12" y="361.92" width="1.2" height="1.2" fill="#5a6aa0"/><rect x="337.01" y="369.37" width="1.2" height="1.2" fill="#8090c0"/><rect x="338.53" y="364.92" width="1.2" height="1.2" fill="#8090c0"/><rect x="336.14" y="377.48" width="1.2" height="1.2" fill="#5a6aa0"/><rect x="336.59" y="376.33" width="1.2" height="1.2" fill="#7a90c0"/><rect x="334.77" y="393.72" width="1.2" height="1.2" fill="#98b860"/><rect x="337.12" y="382.14" width="1.2" height="1.2" fill="#90b058"/><rect x="337.33" y="396.96" width="1.2" height="1.2" fill="#80a860"/><rect x="335.96" y="401.16" width="1.2" height="1.2" fill="#90b058"/><rect x="337.13" y="390.06" width="1.2" height="1.2" fill="#74a068"/><rect x="337.60" y="393.25" width="1.2" height="1.2" fill="#74a068"/><rect x="336.49" y="387.12" width="1.2" height="1.2" fill="#90b058"/><rect x="336.39" y="380.54" width="1.2" height="1.2" fill="#74a068"/><rect x="337.61" y="383.54" width="1.2" height="1.2" fill="#68987a"/><rect x="337.41" y="392.99" width="1.2" height="1.2" fill="#80a860"/><rect x="335.76" y="393.94" width="1.2" height="1.2" fill="#90b058"/><rect x="336.80" y="400.33" width="1.2" height="1.2" fill="#80a860"/><rect x="335.80" y="398.00" width="1.2" height="1.2" fill="#98b860"/><rect x="335.90" y="400.74" width="1.2" height="1.2" fill="#68987a"/><rect x="337.47" y="388.35" width="1.2" height="1.2" fill="#68987a"/><rect x="335.23" y="396.45" width="1.2" height="1.2" fill="#98b860"/><rect x="336.51" y="384.06" width="1.2" height="1.2" fill="#74a068"/><rect x="335.55" y="383.86" width="1.2" height="1.2" fill="#80a860"/><rect x="335.83" y="396.15" width="1.2" height="1.2" fill="#74a068"/><rect x="335.28" y="403.85" width="1.2" height="1.2" fill="#74a068"/><rect x="336.77" y="385.53" width="1.2" height="1.2" fill="#80a860"/><rect x="335.10" y="382.40" width="1.2" height="1.2" fill="#90b058"/><rect x="336.01" y="388.97" width="1.2" height="1.2" fill="#80a860"/><rect x="336.80" y="396.10" width="1.2" height="1.2" fill="#68987a"/><rect x="337.18" y="405.08" width="1.2" height="1.2" fill="#80a860"/><rect x="334.98" y="384.52" width="1.2" height="1.2" fill="#68987a"/><rect x="334.91" y="406.06" width="1.2" height="1.2" fill="#80a860"/><rect x="334.01" y="400.17" width="1.2" height="1.2" fill="#80a860"/><rect x="334.54" y="384.87" width="1.2" height="1.2" fill="#90b058"/><rect x="336.65" y="396.46" width="1.2" height="1.2" fill="#74a068"/><rect x="335.69" y="402.57" width="1.2" height="1.2" fill="#90b058"/><rect x="334.68" y="403.72" width="1.2" height="1.2" fill="#90b058"/><rect x="336.50" y="388.45" width="1.2" height="1.2" fill="#68987a"/><rect x="337.19" y="406.31" width="1.2" height="1.2" fill="#98b860"/><rect x="337.17" y="393.56" width="1.2" height="1.2" fill="#98b860"/><rect x="336.25" y="391.10" width="1.2" height="1.2" fill="#80a860"/><rect x="337.20" y="386.93" width="1.2" height="1.2" fill="#68987a"/><rect x="335.80" y="396.38" width="1.2" height="1.2" fill="#74a068"/><rect x="336.24" y="390.91" width="1.2" height="1.2" fill="#68987a"/><rect x="336.54" y="382.16" width="1.2" height="1.2" fill="#74a068"/><rect x="336.25" y="396.10" width="1.2" height="1.2" fill="#74a068"/><rect x="336.76" y="392.97" width="1.2" height="1.2" fill="#98b860"/><rect x="336.49" y="403.61" width="1.2" height="1.2" fill="#90b058"/><rect x="335.90" y="382.20" width="1.2" height="1.2" fill="#90b058"/><rect x="337.22" y="405.05" width="1.2" height="1.2" fill="#68987a"/><rect x="337.76" y="394.63" width="1.2" height="1.2" fill="#68987a"/><rect x="335.88" y="387.22" width="1.2" height="1.2" fill="#80a860"/><rect x="336.32" y="385.74" width="1.2" height="1.2" fill="#74a068"/><rect x="336.16" y="382.53" width="1.2" height="1.2" fill="#74a068"/><rect x="338.23" y="396.25" width="1.2" height="1.2" fill="#90b058"/><rect x="335.15" y="399.41" width="1.2" height="1.2" fill="#80a860"/><rect x="334.56" y="394.96" width="1.2" height="1.2" fill="#80a860"/><rect x="335.39" y="399.22" width="1.2" height="1.2" fill="#90b058"/><rect x="336.06" y="385.99" width="1.2" height="1.2" fill="#74a068"/><rect x="336.90" y="392.99" width="1.2" height="1.2" fill="#74a068"/><rect x="336.63" y="393.79" width="1.2" height="1.2" fill="#68987a"/><rect x="336.92" y="398.14" width="1.2" height="1.2" fill="#98b860"/><rect x="335.79" y="382.01" width="1.2" height="1.2" fill="#80a860"/><rect x="336.06" y="387.64" width="1.2" height="1.2" fill="#90b058"/><rect x="335.71" y="382.63" width="1.2" height="1.2" fill="#80a860"/><rect x="336.69" y="402.46" width="1.2" height="1.2" fill="#68987a"/><rect x="335.81" y="380.62" width="1.2" height="1.2" fill="#68987a"/><rect x="337.78" y="385.21" width="1.2" height="1.2" fill="#98b860"/><rect x="333.71" y="389.14" width="1.2" height="1.2" fill="#90b058"/><rect x="336.03" y="402.08" width="1.2" height="1.2" fill="#68987a"/><rect x="336.18" y="403.88" width="1.2" height="1.2" fill="#74a068"/><rect x="335.24" y="388.33" width="1.2" height="1.2" fill="#68987a"/><rect x="334.87" y="399.59" width="1.2" height="1.2" fill="#90b058"/><rect x="337.23" y="387.05" width="1.2" height="1.2" fill="#74a068"/><rect x="335.37" y="400.79" width="1.2" height="1.2" fill="#98b860"/><rect x="335.49" y="396.65" width="1.2" height="1.2" fill="#90b058"/><rect x="337.85" y="403.62" width="1.2" height="1.2" fill="#80a860"/><rect x="336.01" y="397.52" width="1.2" height="1.2" fill="#68987a"/><rect x="335.24" y="392.78" width="1.2" height="1.2" fill="#74a068"/><rect x="336.52" y="404.54" width="1.2" height="1.2" fill="#68987a"/><rect x="336.64" y="394.59" width="1.2" height="1.2" fill="#68987a"/><rect x="337.71" y="398.89" width="1.2" height="1.2" fill="#74a068"/><rect x="336.73" y="400.72" width="1.2" height="1.2" fill="#90b058"/><rect x="338.25" y="398.51" width="1.2" height="1.2" fill="#68987a"/><rect x="338.07" y="402.21" width="1.2" height="1.2" fill="#80a860"/><rect x="335.50" y="402.34" width="1.2" height="1.2" fill="#80a860"/><rect x="335.52" y="403.56" width="1.2" height="1.2" fill="#80a860"/><rect x="336.20" y="380.67" width="1.2" height="1.2" fill="#90b058"/><rect x="335.81" y="403.54" width="1.2" height="1.2" fill="#74a068"/><rect x="336.13" y="401.61" width="1.2" height="1.2" fill="#68987a"/><rect x="337.25" y="390.87" width="1.2" height="1.2" fill="#90b058"/><rect x="337.89" y="391.12" width="1.2" height="1.2" fill="#68987a"/><rect x="336.16" y="388.17" width="1.2" height="1.2" fill="#74a068"/><rect x="336.13" y="400.91" width="1.2" height="1.2" fill="#90b058"/><rect x="335.47" y="385.98" width="1.2" height="1.2" fill="#98b860"/><rect x="337.06" y="403.46" width="1.2" height="1.2" fill="#98b860"/><rect x="336.10" y="405.10" width="1.2" height="1.2" fill="#98b860"/><rect x="335.90" y="388.75" width="1.2" height="1.2" fill="#68987a"/><rect x="335.93" y="382.65" width="1.2" height="1.2" fill="#98b860"/><rect x="335.94" y="387.25" width="1.2" height="1.2" fill="#90b058"/><rect x="338.34" y="396.34" width="1.2" height="1.2" fill="#74a068"/><rect x="336.94" y="382.66" width="1.2" height="1.2" fill="#80a860"/><rect x="336.35" y="398.63" width="1.2" height="1.2" fill="#74a068"/><rect x="337.22" y="397.79" width="1.2" height="1.2" fill="#80a860"/><rect x="335.73" y="397.18" width="1.2" height="1.2" fill="#80a860"/><rect x="336.94" y="392.25" width="1.2" height="1.2" fill="#90b058"/><rect x="336.37" y="393.90" width="1.2" height="1.2" fill="#80a860"/><rect x="337.14" y="383.36" width="1.2" height="1.2" fill="#68987a"/><rect x="336.27" y="395.53" width="1.2" height="1.2" fill="#90b058"/><rect x="337.95" y="403.98" width="1.2" height="1.2" fill="#90b058"/><rect x="337.20" y="403.78" width="1.2" height="1.2" fill="#80a860"/><rect x="336.83" y="400.05" width="1.2" height="1.2" fill="#74a068"/><rect x="335.12" y="381.31" width="1.2" height="1.2" fill="#74a068"/><rect x="336.26" y="396.82" width="1.2" height="1.2" fill="#74a068"/><rect x="334.86" y="406.04" width="1.2" height="1.2" fill="#90b058"/><rect x="336.89" y="384.87" width="1.2" height="1.2" fill="#90b058"/><rect x="338.60" y="398.19" width="1.2" height="1.2" fill="#80a860"/><rect x="336.25" y="397.90" width="1.2" height="1.2" fill="#98b860"/><rect x="338.42" y="383.11" width="1.2" height="1.2" fill="#90b058"/><rect x="335.45" y="401.14" width="1.2" height="1.2" fill="#98b860"/><rect x="337.16" y="394.46" width="1.2" height="1.2" fill="#74a068"/><rect x="336.20" y="391.58" width="1.2" height="1.2" fill="#80a860"/><rect x="336.54" y="385.11" width="1.2" height="1.2" fill="#74a068"/><rect x="336.49" y="386.10" width="1.2" height="1.2" fill="#90b058"/><rect x="337.57" y="404.82" width="1.2" height="1.2" fill="#74a068"/><rect x="335.97" y="390.38" width="1.2" height="1.2" fill="#90b058"/><rect x="336.30" y="385.36" width="1.2" height="1.2" fill="#74a068"/><rect x="336.22" y="385.21" width="1.2" height="1.2" fill="#80a860"/><rect x="336.36" y="385.37" width="1.2" height="1.2" fill="#74a068"/><rect x="336.14" y="404.80" width="1.2" height="1.2" fill="#74a068"/><rect x="336.40" y="401.21" width="1.2" height="1.2" fill="#98b860"/><rect x="337.65" y="384.66" width="1.2" height="1.2" fill="#74a068"/><rect x="336.36" y="389.65" width="1.2" height="1.2" fill="#98b860"/><rect x="335.00" y="398.55" width="1.2" height="1.2" fill="#98b860"/><rect x="336.88" y="385.90" width="1.2" height="1.2" fill="#74a068"/><rect x="334.62" y="388.08" width="1.2" height="1.2" fill="#98b860"/><rect x="335.72" y="384.59" width="1.2" height="1.2" fill="#68987a"/><rect x="336.74" y="381.99" width="1.2" height="1.2" fill="#74a068"/><rect x="335.82" y="395.98" width="1.2" height="1.2" fill="#80a860"/><rect x="336.54" y="390.35" width="1.2" height="1.2" fill="#68987a"/><rect x="337.59" y="381.51" width="1.2" height="1.2" fill="#90b058"/><rect x="336.55" y="396.13" width="1.2" height="1.2" fill="#68987a"/><rect x="337.87" y="396.89" width="1.2" height="1.2" fill="#90b058"/><rect x="337.94" y="399.38" width="1.2" height="1.2" fill="#68987a"/><rect x="335.65" y="404.74" width="1.2" height="1.2" fill="#74a068"/><rect x="336.62" y="411.17" width="1.2" height="1.2" fill="#b0a040"/><rect x="336.35" y="409.33" width="1.2" height="1.2" fill="#b0a040"/><rect x="336.57" y="410.35" width="1.2" height="1.2" fill="#a0a050"/><rect x="336.09" y="411.17" width="1.2" height="1.2" fill="#b0a040"/><rect x="336.11" y="407.55" width="1.2" height="1.2" fill="#b0a040"/><rect x="335.22" y="410.71" width="1.2" height="1.2" fill="#c0a048"/><rect x="338.28" y="413.39" width="1.2" height="1.2" fill="#a0a050"/><rect x="337.44" y="407.59" width="1.2" height="1.2" fill="#b0a040"/><rect x="337.36" y="408.51" width="1.2" height="1.2" fill="#c0a048"/><rect x="336.76" y="408.07" width="1.2" height="1.2" fill="#c0a048"/><rect x="334.92" y="412.48" width="1.2" height="1.2" fill="#b0a040"/><rect x="336.12" y="413.50" width="1.2" height="1.2" fill="#c0a048"/><rect x="337.20" y="413.75" width="1.2" height="1.2" fill="#a0a050"/><rect x="336.63" y="413.23" width="1.2" height="1.2" fill="#c0a048"/><rect x="336.06" y="406.98" width="1.2" height="1.2" fill="#c0a048"/><rect x="336.55" y="412.71" width="1.2" height="1.2" fill="#b0a040"/><rect x="337.67" y="408.67" width="1.2" height="1.2" fill="#b0a040"/><rect x="334.55" y="408.02" width="1.2" height="1.2" fill="#a0a050"/><rect x="336.53" y="413.78" width="1.2" height="1.2" fill="#b0a040"/><rect x="336.40" y="414.05" width="1.2" height="1.2" fill="#a0a050"/><rect x="336.05" y="410.54" width="1.2" height="1.2" fill="#a0a050"/><rect x="336.58" y="409.11" width="1.2" height="1.2" fill="#b0a040"/><rect x="335.27" y="411.44" width="1.2" height="1.2" fill="#a0a050"/><rect x="336.32" y="406.90" width="1.2" height="1.2" fill="#b0a040"/><rect x="336.68" y="409.89" width="1.2" height="1.2" fill="#a0a050"/><rect x="336.72" y="408.99" width="1.2" height="1.2" fill="#c0a048"/><rect x="337.20" y="411.72" width="1.2" height="1.2" fill="#a0a050"/><rect x="337.29" y="411.53" width="1.2" height="1.2" fill="#b0a040"/><rect x="336.67" y="411.21" width="1.2" height="1.2" fill="#c0a048"/><rect x="336.41" y="410.76" width="1.2" height="1.2" fill="#c0a048"/><rect x="334.47" y="412.59" width="1.2" height="1.2" fill="#b0a040"/><rect x="335.12" y="410.60" width="1.2" height="1.2" fill="#a0a050"/><rect x="337.38" y="410.06" width="1.2" height="1.2" fill="#c0a048"/><rect x="336.31" y="414.39" width="1.2" height="1.2" fill="#a0a050"/><rect x="335.38" y="410.75" width="1.2" height="1.2" fill="#b0a040"/><rect x="335.83" y="408.49" width="1.2" height="1.2" fill="#a0a050"/><rect x="336.06" y="411.87" width="1.2" height="1.2" fill="#c0a048"/><rect x="334.18" y="413.95" width="1.2" height="1.2" fill="#b0a040"/><rect x="336.09" y="408.83" width="1.2" height="1.2" fill="#c0a048"/><rect x="337.10" y="412.05" width="1.2" height="1.2" fill="#a0a050"/><rect x="336.17" y="410.27" width="1.2" height="1.2" fill="#a0a050"/><rect x="337.23" y="407.73" width="1.2" height="1.2" fill="#b0a040"/><rect x="336.64" y="413.31" width="1.2" height="1.2" fill="#b0a040"/><rect x="335.63" y="407.81" width="1.2" height="1.2" fill="#b0a040"/><rect x="336.00" y="414.20" width="1.2" height="1.2" fill="#b0a040"/><rect x="337.31" y="420.47" width="1.2" height="1.2" fill="#6a8878"/><rect x="336.19" y="420.53" width="1.2" height="1.2" fill="#6a8878"/><rect x="335.94" y="417.01" width="1.2" height="1.2" fill="#7a9070"/><rect x="336.45" y="417.15" width="1.2" height="1.2" fill="#7a9070"/><rect x="337.27" y="417.43" width="1.2" height="1.2" fill="#7a9070"/><rect x="336.49" y="415.02" width="1.2" height="1.2" fill="#6a8878"/><rect x="336.05" y="417.24" width="1.2" height="1.2" fill="#5a8090"/><rect x="335.19" y="421.35" width="1.2" height="1.2" fill="#7a9070"/><rect x="336.93" y="415.96" width="1.2" height="1.2" fill="#5a8090"/><rect x="335.68" y="416.80" width="1.2" height="1.2" fill="#6a8878"/><rect x="337.39" y="416.82" width="1.2" height="1.2" fill="#6a8878"/><rect x="335.56" y="419.72" width="1.2" height="1.2" fill="#7a9070"/><rect x="335.98" y="417.43" width="1.2" height="1.2" fill="#7a9070"/><rect x="336.88" y="415.04" width="1.2" height="1.2" fill="#7a9070"/><rect x="337.14" y="415.88" width="1.2" height="1.2" fill="#6a8878"/><rect x="336.74" y="415.04" width="1.2" height="1.2" fill="#5a8090"/><rect x="336.65" y="419.56" width="1.2" height="1.2" fill="#5a8090"/><rect x="335.58" y="416.62" width="1.2" height="1.2" fill="#5a8090"/><rect x="334.91" y="420.68" width="1.2" height="1.2" fill="#7a9070"/><rect x="337.87" y="415.12" width="1.2" height="1.2" fill="#7a9070"/><rect x="335.60" y="420.22" width="1.2" height="1.2" fill="#7a9070"/><rect x="337.17" y="417.81" width="1.2" height="1.2" fill="#6a8878"/><rect x="336.33" y="418.43" width="1.2" height="1.2" fill="#7a9070"/><rect x="336.03" y="415.54" width="1.2" height="1.2" fill="#7a9070"/><rect x="336.58" y="414.65" width="1.2" height="1.2" fill="#7a9070"/><rect x="335.95" y="420.10" width="1.2" height="1.2" fill="#5a8090"/><rect x="335.38" y="416.02" width="1.2" height="1.2" fill="#7a9070"/><rect x="335.66" y="416.88" width="1.2" height="1.2" fill="#7a9070"/><rect x="336.80" y="415.27" width="1.2" height="1.2" fill="#6a8878"/><rect x="335.71" y="420.28" width="1.2" height="1.2" fill="#7a9070"/><rect x="336.68" y="425.15" width="1.2" height="1.2" fill="#5a70b0"/><rect x="336.04" y="422.11" width="1.2" height="1.2" fill="#5a6aa0"/><rect x="336.84" y="425.98" width="1.2" height="1.2" fill="#8090c0"/><rect x="336.89" y="425.27" width="1.2" height="1.2" fill="#8090c0"/><rect x="334.56" y="425.11" width="1.2" height="1.2" fill="#7a90c0"/><rect x="337.13" y="424.51" width="1.2" height="1.2" fill="#6a80b8"/><rect x="357.66" y="383.83" width="1.2" height="1.2" fill="#8c98c0"/><rect x="364.42" y="398.49" width="1.2" height="1.2" fill="#8c98c0"/><rect x="345.01" y="393.12" width="1.2" height="1.2" fill="#80b8d0"/><rect x="351.53" y="387.80" width="1.2" height="1.2" fill="#404c78"/><rect x="357.59" y="353.03" width="1.2" height="1.2" fill="#6a78a4"/><rect x="342.39" y="371.35" width="1.2" height="1.2" fill="#8c98c0"/><rect x="348.76" y="382.04" width="1.2" height="1.2" fill="#9c90c0"/><rect x="347.31" y="374.14" width="1.2" height="1.2" fill="#8c98c0"/><rect x="362.67" y="387.59" width="1.2" height="1.2" fill="#8c98c0"/><rect x="363.02" y="348.71" width="1.2" height="1.2" fill="#9c90c0"/><rect x="354.75" y="395.58" width="1.2" height="1.2" fill="#8c98c0"/><rect x="347.68" y="401.47" width="1.2" height="1.2" fill="#9c90c0"/><rect x="359.30" y="365.74" width="1.2" height="1.2" fill="#6a78a4"/><rect x="362.10" y="375.89" width="1.2" height="1.2" fill="#6a78a4"/><rect x="343.38" y="375.94" width="1.2" height="1.2" fill="#6a78a4"/><rect x="351.87" y="397.86" width="1.2" height="1.2" fill="#9c90c0"/><rect x="345.51" y="387.63" width="1.2" height="1.2" fill="#404c78"/><rect x="353.57" y="393.07" width="1.2" height="1.2" fill="#8c98c0"/><rect x="361.31" y="392.93" width="1.2" height="1.2" fill="#8c98c0"/><rect x="359.95" y="398.22" width="1.2" height="1.2" fill="#9c90c0"/><rect x="354.42" y="380.42" width="1.2" height="1.2" fill="#404c78"/><rect x="349.56" y="381.97" width="1.2" height="1.2" fill="#8c98c0"/><rect x="352.47" y="385.80" width="1.2" height="1.2" fill="#9c90c0"/><rect x="345.28" y="393.54" width="1.2" height="1.2" fill="#8c98c0"/><rect x="359.13" y="367.77" width="1.2" height="1.2" fill="#8c98c0"/><rect x="353.20" y="404.30" width="1.2" height="1.2" fill="#6a78a4"/><rect x="348.03" y="392.19" width="1.2" height="1.2" fill="#8c98c0"/><rect x="357.17" y="394.07" width="1.2" height="1.2" fill="#8c98c0"/><rect x="363.40" y="342.03" width="1.2" height="1.2" fill="#8c98c0"/><rect x="355.50" y="401.18" width="1.2" height="1.2" fill="#6a78a4"/><rect x="355.30" y="369.59" width="1.2" height="1.2" fill="#404c78"/><rect x="345.46" y="395.71" width="1.2" height="1.2" fill="#6a78a4"/><rect x="352.53" y="375.34" width="1.2" height="1.2" fill="#6a78a4"/><rect x="348.18" y="361.19" width="1.2" height="1.2" fill="#80b8d0"/><rect x="365.56" y="367.83" width="1.2" height="1.2" fill="#8c98c0"/><rect x="350.04" y="396.77" width="1.2" height="1.2" fill="#9c90c0"/><rect x="345.86" y="402.43" width="1.2" height="1.2" fill="#80b8d0"/><rect x="343.23" y="374.42" width="1.2" height="1.2" fill="#6a78a4"/><rect x="355.36" y="375.99" width="1.2" height="1.2" fill="#6a78a4"/><rect x="344.26" y="383.65" width="1.2" height="1.2" fill="#80b8d0"/><rect x="356.30" y="392.08" width="1.2" height="1.2" fill="#6a78a4"/><rect x="364.98" y="369.63" width="1.2" height="1.2" fill="#404c78"/><rect x="358.31" y="400.60" width="1.2" height="1.2" fill="#6a78a4"/><rect x="358.94" y="355.65" width="1.2" height="1.2" fill="#8c98c0"/><rect x="344.73" y="403.32" width="1.2" height="1.2" fill="#404c78"/><rect x="348.50" y="383.45" width="1.2" height="1.2" fill="#6a78a4"/><rect x="357.08" y="402.88" width="1.2" height="1.2" fill="#9c90c0"/><rect x="357.51" y="391.25" width="1.2" height="1.2" fill="#8c98c0"/><rect x="355.68" y="390.94" width="1.2" height="1.2" fill="#8c98c0"/><rect x="362.50" y="371.59" width="1.2" height="1.2" fill="#8c98c0"/><rect x="349.49" y="387.59" width="1.2" height="1.2" fill="#6a78a4"/><rect x="349.95" y="397.52" width="1.2" height="1.2" fill="#8c98c0"/><rect x="344.23" y="387.66" width="1.2" height="1.2" fill="#80b8d0"/><rect x="354.77" y="355.65" width="1.2" height="1.2" fill="#8c98c0"/><rect x="359.55" y="358.50" width="1.2" height="1.2" fill="#8c98c0"/><rect x="361.59" y="402.35" width="1.2" height="1.2" fill="#6a78a4"/><rect x="343.02" y="370.04" width="1.2" height="1.2" fill="#80b8d0"/><rect x="344.66" y="373.57" width="1.2" height="1.2" fill="#80b8d0"/><rect x="363.15" y="342.26" width="1.2" height="1.2" fill="#6a78a4"/><rect x="349.96" y="378.35" width="1.2" height="1.2" fill="#8c98c0"/><rect x="366.88" y="345.65" width="1.2" height="1.2" fill="#6a78a4"/><rect x="362.38" y="403.64" width="1.2" height="1.2" fill="#8c98c0"/><rect x="348.82" y="392.92" width="1.2" height="1.2" fill="#6a78a4"/><rect x="342.71" y="394.80" width="1.2" height="1.2" fill="#80b8d0"/><rect x="351.70" y="387.55" width="1.2" height="1.2" fill="#6a78a4"/><rect x="359.78" y="382.46" width="1.2" height="1.2" fill="#6a78a4"/><rect x="346.21" y="401.98" width="1.2" height="1.2" fill="#6a78a4"/><rect x="349.99" y="387.50" width="1.2" height="1.2" fill="#8c98c0"/><rect x="353.11" y="361.92" width="1.2" height="1.2" fill="#6a78a4"/><rect x="354.11" y="355.44" width="1.2" height="1.2" fill="#8c98c0"/><rect x="344.44" y="380.80" width="1.2" height="1.2" fill="#80b8d0"/><rect x="344.44" y="391.69" width="1.2" height="1.2" fill="#80b8d0"/><rect x="357.64" y="376.45" width="1.2" height="1.2" fill="#9c90c0"/><rect x="365.46" y="385.30" width="1.2" height="1.2" fill="#6a78a4"/><rect x="358.69" y="355.44" width="1.2" height="1.2" fill="#404c78"/><rect x="350.83" y="388.62" width="1.2" height="1.2" fill="#8c98c0"/><rect x="362.98" y="376.12" width="1.2" height="1.2" fill="#8c98c0"/><rect x="352.78" y="385.40" width="1.2" height="1.2" fill="#8c98c0"/><rect x="365.52" y="357.91" width="1.2" height="1.2" fill="#9c90c0"/><rect x="353.87" y="396.70" width="1.2" height="1.2" fill="#8c98c0"/><rect x="358.87" y="390.54" width="1.2" height="1.2" fill="#9c90c0"/><rect x="361.69" y="383.95" width="1.2" height="1.2" fill="#9c90c0"/><rect x="357.89" y="393.22" width="1.2" height="1.2" fill="#6a78a4"/><rect x="365.62" y="383.73" width="1.2" height="1.2" fill="#6a78a4"/><rect x="358.37" y="364.63" width="1.2" height="1.2" fill="#8c98c0"/><rect x="360.16" y="398.03" width="1.2" height="1.2" fill="#404c78"/><rect x="357.97" y="373.19" width="1.2" height="1.2" fill="#8c98c0"/><rect x="367.75" y="349.37" width="1.2" height="1.2" fill="#9c90c0"/><rect x="355.99" y="376.48" width="1.2" height="1.2" fill="#8c98c0"/><rect x="362.43" y="384.78" width="1.2" height="1.2" fill="#6a78a4"/><rect x="358.72" y="401.39" width="1.2" height="1.2" fill="#6a78a4"/><rect x="349.70" y="398.13" width="1.2" height="1.2" fill="#404c78"/><rect x="358.33" y="391.14" width="1.2" height="1.2" fill="#6a78a4"/><rect x="365.00" y="389.43" width="1.2" height="1.2" fill="#6a78a4"/><rect x="360.09" y="384.40" width="1.2" height="1.2" fill="#404c78"/><rect x="359.40" y="396.45" width="1.2" height="1.2" fill="#6a78a4"/><rect x="346.97" y="378.34" width="1.2" height="1.2" fill="#80b8d0"/><rect x="362.37" y="398.72" width="1.2" height="1.2" fill="#6a78a4"/><rect x="351.88" y="368.99" width="1.2" height="1.2" fill="#404c78"/><rect x="353.13" y="391.84" width="1.2" height="1.2" fill="#9c90c0"/><rect x="365.33" y="362.00" width="1.2" height="1.2" fill="#8c98c0"/><rect x="363.45" y="357.21" width="1.2" height="1.2" fill="#6a78a4"/><rect x="363.18" y="394.63" width="1.2" height="1.2" fill="#9c90c0"/><rect x="361.05" y="396.20" width="1.2" height="1.2" fill="#6a78a4"/><rect x="347.30" y="404.05" width="1.2" height="1.2" fill="#8c98c0"/><rect x="341.25" y="378.40" width="1.2" height="1.2" fill="#80b8d0"/><rect x="355.45" y="371.82" width="1.2" height="1.2" fill="#8c98c0"/><rect x="361.68" y="377.38" width="1.2" height="1.2" fill="#404c78"/><rect x="343.98" y="384.14" width="1.2" height="1.2" fill="#404c78"/><rect x="355.85" y="401.02" width="1.2" height="1.2" fill="#6a78a4"/><rect x="354.77" y="385.09" width="1.2" height="1.2" fill="#8c98c0"/><rect x="364.89" y="403.40" width="1.2" height="1.2" fill="#8c98c0"/><rect x="363.95" y="375.18" width="1.2" height="1.2" fill="#8c98c0"/><rect x="364.99" y="362.56" width="1.2" height="1.2" fill="#404c78"/><rect x="345.48" y="387.22" width="1.2" height="1.2" fill="#6a78a4"/><rect x="345.76" y="364.63" width="1.2" height="1.2" fill="#8c98c0"/><rect x="344.02" y="385.44" width="1.2" height="1.2" fill="#404c78"/><rect x="342.43" y="396.24" width="1.2" height="1.2" fill="#8c98c0"/><rect x="355.22" y="361.71" width="1.2" height="1.2" fill="#8c98c0"/><rect x="362.03" y="389.99" width="1.2" height="1.2" fill="#6a78a4"/><rect x="361.90" y="369.24" width="1.2" height="1.2" fill="#6a78a4"/><rect x="349.88" y="370.05" width="1.2" height="1.2" fill="#6a78a4"/><rect x="351.54" y="381.46" width="1.2" height="1.2" fill="#6a78a4"/><rect x="363.16" y="368.79" width="1.2" height="1.2" fill="#6a78a4"/><rect x="356.99" y="364.84" width="1.2" height="1.2" fill="#6a78a4"/><rect x="346.41" y="376.17" width="1.2" height="1.2" fill="#80b8d0"/><rect x="361.87" y="375.91" width="1.2" height="1.2" fill="#404c78"/><rect x="348.93" y="366.98" width="1.2" height="1.2" fill="#6a78a4"/><rect x="353.83" y="391.11" width="1.2" height="1.2" fill="#8c98c0"/><rect x="354.83" y="391.93" width="1.2" height="1.2" fill="#8c98c0"/><rect x="363.31" y="348.23" width="1.2" height="1.2" fill="#8c98c0"/><rect x="344.21" y="372.11" width="1.2" height="1.2" fill="#404c78"/><rect x="356.23" y="361.96" width="1.2" height="1.2" fill="#9c90c0"/><rect x="347.61" y="379.26" width="1.2" height="1.2" fill="#404c78"/><rect x="342.86" y="386.26" width="1.2" height="1.2" fill="#6a78a4"/><rect x="359.28" y="402.41" width="1.2" height="1.2" fill="#6a78a4"/><rect x="360.10" y="366.74" width="1.2" height="1.2" fill="#6a78a4"/><rect x="364.16" y="402.87" width="1.2" height="1.2" fill="#6a78a4"/><rect x="341.29" y="387.90" width="1.2" height="1.2" fill="#6a78a4"/><rect x="352.79" y="374.49" width="1.2" height="1.2" fill="#8c98c0"/><rect x="342.12" y="380.52" width="1.2" height="1.2" fill="#8c98c0"/><rect x="344.98" y="395.02" width="1.2" height="1.2" fill="#80b8d0"/><rect x="347.09" y="392.89" width="1.2" height="1.2" fill="#8c98c0"/><rect x="343.68" y="397.68" width="1.2" height="1.2" fill="#8c98c0"/><rect x="355.18" y="364.98" width="1.2" height="1.2" fill="#9c90c0"/><rect x="364.02" y="377.28" width="1.2" height="1.2" fill="#8c98c0"/><rect x="349.58" y="376.51" width="1.2" height="1.2" fill="#8c98c0"/><rect x="361.10" y="365.15" width="1.2" height="1.2" fill="#8c98c0"/><rect x="341.00" y="380.02" width="1.2" height="1.2" fill="#6a78a4"/><rect x="361.08" y="403.64" width="1.2" height="1.2" fill="#6a78a4"/><rect x="342.70" y="387.50" width="1.2" height="1.2" fill="#80b8d0"/><rect x="352.90" y="383.74" width="1.2" height="1.2" fill="#8c98c0"/><rect x="361.45" y="352.57" width="1.2" height="1.2" fill="#8c98c0"/><rect x="352.32" y="375.95" width="1.2" height="1.2" fill="#6a78a4"/><rect x="364.94" y="400.85" width="1.2" height="1.2" fill="#8c98c0"/><rect x="345.08" y="370.97" width="1.2" height="1.2" fill="#80b8d0"/><rect x="364.14" y="362.44" width="1.2" height="1.2" fill="#404c78"/><rect x="362.65" y="366.11" width="1.2" height="1.2" fill="#9c90c0"/><rect x="360.28" y="395.33" width="1.2" height="1.2" fill="#6a78a4"/><rect x="350.60" y="380.70" width="1.2" height="1.2" fill="#9c90c0"/><rect x="345.24" y="379.35" width="1.2" height="1.2" fill="#80b8d0"/><rect x="343.28" y="375.13" width="1.2" height="1.2" fill="#6a78a4"/><rect x="364.26" y="396.95" width="1.2" height="1.2" fill="#8c98c0"/><rect x="346.41" y="399.47" width="1.2" height="1.2" fill="#404c78"/><rect x="352.21" y="386.06" width="1.2" height="1.2" fill="#6a78a4"/><rect x="350.46" y="385.88" width="1.2" height="1.2" fill="#6a78a4"/><rect x="354.53" y="397.21" width="1.2" height="1.2" fill="#6a78a4"/><rect x="345.13" y="378.33" width="1.2" height="1.2" fill="#404c78"/><rect x="348.80" y="401.89" width="1.2" height="1.2" fill="#6a78a4"/><rect x="349.76" y="361.39" width="1.2" height="1.2" fill="#9c90c0"/><rect x="355.37" y="378.37" width="1.2" height="1.2" fill="#6a78a4"/><rect x="343.37" y="378.34" width="1.2" height="1.2" fill="#6a78a4"/><rect x="353.42" y="362.40" width="1.2" height="1.2" fill="#8c98c0"/><rect x="355.67" y="396.80" width="1.2" height="1.2" fill="#8c98c0"/><rect x="349.00" y="370.62" width="1.2" height="1.2" fill="#8c98c0"/><rect x="365.39" y="370.95" width="1.2" height="1.2" fill="#6a78a4"/><rect x="356.23" y="364.32" width="1.2" height="1.2" fill="#6a78a4"/><rect x="363.35" y="353.61" width="1.2" height="1.2" fill="#404c78"/><rect x="358.46" y="397.26" width="1.2" height="1.2" fill="#6a78a4"/><rect x="362.76" y="389.81" width="1.2" height="1.2" fill="#6a78a4"/><rect x="361.83" y="380.14" width="1.2" height="1.2" fill="#6a78a4"/><rect x="342.82" y="391.75" width="1.2" height="1.2" fill="#6a78a4"/><rect x="358.10" y="385.55" width="1.2" height="1.2" fill="#8c98c0"/><rect x="355.33" y="351.87" width="1.2" height="1.2" fill="#6a78a4"/><rect x="344.91" y="387.39" width="1.2" height="1.2" fill="#80b8d0"/><rect x="364.86" y="393.86" width="1.2" height="1.2" fill="#6a78a4"/><rect x="362.24" y="402.64" width="1.2" height="1.2" fill="#404c78"/><rect x="354.33" y="392.91" width="1.2" height="1.2" fill="#404c78"/><rect x="357.81" y="386.45" width="1.2" height="1.2" fill="#6a78a4"/><rect x="363.23" y="367.58" width="1.2" height="1.2" fill="#6a78a4"/><rect x="351.48" y="376.00" width="1.2" height="1.2" fill="#6a78a4"/><rect x="345.02" y="368.98" width="1.2" height="1.2" fill="#6a78a4"/><rect x="360.27" y="350.97" width="1.2" height="1.2" fill="#6a78a4"/><rect x="356.11" y="398.96" width="1.2" height="1.2" fill="#6a78a4"/><rect x="358.57" y="377.09" width="1.2" height="1.2" fill="#8c98c0"/><rect x="347.11" y="365.86" width="1.2" height="1.2" fill="#8c98c0"/><rect x="351.46" y="373.30" width="1.2" height="1.2" fill="#8c98c0"/><rect x="355.25" y="400.32" width="1.2" height="1.2" fill="#6a78a4"/><rect x="350.58" y="387.37" width="1.2" height="1.2" fill="#9c90c0"/><rect x="354.25" y="393.06" width="1.2" height="1.2" fill="#404c78"/><rect x="344.44" y="385.50" width="1.2" height="1.2" fill="#80b8d0"/><rect x="341.94" y="366.08" width="1.2" height="1.2" fill="#80b8d0"/><rect x="347.94" y="362.84" width="1.2" height="1.2" fill="#8c98c0"/><rect x="351.11" y="379.77" width="1.2" height="1.2" fill="#8c98c0"/><rect x="347.40" y="384.13" width="1.2" height="1.2" fill="#80b8d0"/><rect x="350.64" y="397.50" width="1.2" height="1.2" fill="#6a78a4"/><rect x="366.20" y="359.52" width="1.2" height="1.2" fill="#404c78"/><rect x="355.48" y="376.25" width="1.2" height="1.2" fill="#6a78a4"/><rect x="346.97" y="374.02" width="1.2" height="1.2" fill="#8c98c0"/><rect x="362.71" y="386.24" width="1.2" height="1.2" fill="#9c90c0"/><rect x="341.40" y="377.30" width="1.2" height="1.2" fill="#80b8d0"/><rect x="345.14" y="386.99" width="1.2" height="1.2" fill="#8c98c0"/><rect x="344.04" y="388.14" width="1.2" height="1.2" fill="#6a78a4"/><rect x="348.46" y="377.33" width="1.2" height="1.2" fill="#80b8d0"/><rect x="360.03" y="401.92" width="1.2" height="1.2" fill="#9c90c0"/><rect x="352.54" y="372.54" width="1.2" height="1.2" fill="#8c98c0"/><rect x="356.06" y="404.58" width="1.2" height="1.2" fill="#6a78a4"/><rect x="345.33" y="383.83" width="1.2" height="1.2" fill="#80b8d0"/><rect x="356.76" y="398.84" width="1.2" height="1.2" fill="#404c78"/><rect x="359.58" y="391.98" width="1.2" height="1.2" fill="#8c98c0"/><rect x="347.47" y="396.95" width="1.2" height="1.2" fill="#80b8d0"/><rect x="345.87" y="372.33" width="1.2" height="1.2" fill="#80b8d0"/><rect x="363.04" y="400.11" width="1.2" height="1.2" fill="#6a78a4"/><rect x="354.78" y="364.15" width="1.2" height="1.2" fill="#6a78a4"/><rect x="359.73" y="380.60" width="1.2" height="1.2" fill="#9c90c0"/><rect x="347.89" y="404.23" width="1.2" height="1.2" fill="#6a78a4"/><rect x="353.65" y="391.41" width="1.2" height="1.2" fill="#404c78"/><rect x="365.32" y="373.46" width="1.2" height="1.2" fill="#6a78a4"/><rect x="356.60" y="387.50" width="1.2" height="1.2" fill="#8c98c0"/><rect x="356.07" y="384.56" width="1.2" height="1.2" fill="#8c98c0"/><rect x="342.82" y="385.64" width="1.2" height="1.2" fill="#6a78a4"/><rect x="355.34" y="372.30" width="1.2" height="1.2" fill="#6a78a4"/><rect x="347.49" y="393.56" width="1.2" height="1.2" fill="#9c90c0"/><rect x="355.52" y="391.81" width="1.2" height="1.2" fill="#8c98c0"/><rect x="341.81" y="382.62" width="1.2" height="1.2" fill="#9c90c0"/><rect x="360.37" y="374.66" width="1.2" height="1.2" fill="#8c98c0"/><rect x="365.89" y="371.36" width="1.2" height="1.2" fill="#8c98c0"/><rect x="360.41" y="403.21" width="1.2" height="1.2" fill="#404c78"/><rect x="363.52" y="353.55" width="1.2" height="1.2" fill="#8c98c0"/><rect x="358.97" y="389.64" width="1.2" height="1.2" fill="#6a78a4"/><rect x="370.26" y="344.56" width="1.2" height="1.2" fill="#80b8d0"/><rect x="342.92" y="405.97" width="1.2" height="1.2" fill="#9a90c8"/><rect x="337.46" y="405.21" width="1.2" height="1.2" fill="#6a70b0"/><rect x="339.63" y="386.76" width="1.2" height="1.2" fill="#7a6ab0"/><rect x="339.49" y="397.91" width="1.2" height="1.2" fill="#6a70b0"/><rect x="338.45" y="374.11" width="1.2" height="1.2" fill="#6a70b0"/><rect x="342.24" y="397.72" width="1.2" height="1.2" fill="#7a6ab0"/><rect x="341.06" y="387.83" width="1.2" height="1.2" fill="#7a6ab0"/><rect x="340.93" y="402.32" width="1.2" height="1.2" fill="#8a80c0"/><rect x="342.67" y="370.95" width="1.2" height="1.2" fill="#5a68a8"/><rect x="341.56" y="370.90" width="1.2" height="1.2" fill="#6a70b0"/><rect x="337.98" y="378.03" width="1.2" height="1.2" fill="#9a90c8"/><rect x="340.75" y="385.95" width="1.2" height="1.2" fill="#6a70b0"/><rect x="340.99" y="392.10" width="1.2" height="1.2" fill="#7a6ab0"/><rect x="339.84" y="367.42" width="1.2" height="1.2" fill="#6a70b0"/><rect x="340.78" y="382.67" width="1.2" height="1.2" fill="#8a80c0"/><rect x="340.18" y="386.80" width="1.2" height="1.2" fill="#8a80c0"/><rect x="338.68" y="400.40" width="1.2" height="1.2" fill="#8a80c0"/><rect x="339.35" y="403.49" width="1.2" height="1.2" fill="#6a70b0"/><rect x="339.22" y="402.59" width="1.2" height="1.2" fill="#8a80c0"/><rect x="339.99" y="391.91" width="1.2" height="1.2" fill="#7a6ab0"/><rect x="341.78" y="388.38" width="1.2" height="1.2" fill="#6a70b0"/><rect x="338.58" y="399.27" width="1.2" height="1.2" fill="#8a80c0"/><rect x="339.85" y="386.29" width="1.2" height="1.2" fill="#6a70b0"/><rect x="341.64" y="397.85" width="1.2" height="1.2" fill="#8a80c0"/><rect x="341.73" y="378.88" width="1.2" height="1.2" fill="#7a6ab0"/><rect x="338.61" y="404.76" width="1.2" height="1.2" fill="#6a70b0"/><rect x="342.20" y="381.28" width="1.2" height="1.2" fill="#9a90c8"/><rect x="337.85" y="374.59" width="1.2" height="1.2" fill="#5a68a8"/><rect x="342.59" y="388.31" width="1.2" height="1.2" fill="#9a90c8"/><rect x="337.34" y="395.79" width="1.2" height="1.2" fill="#7a6ab0"/><rect x="342.16" y="379.43" width="1.2" height="1.2" fill="#9a90c8"/><rect x="339.60" y="387.76" width="1.2" height="1.2" fill="#5a68a8"/><rect x="341.35" y="390.20" width="1.2" height="1.2" fill="#7a6ab0"/><rect x="342.47" y="393.30" width="1.2" height="1.2" fill="#7a6ab0"/><rect x="339.03" y="404.76" width="1.2" height="1.2" fill="#5a68a8"/><rect x="341.04" y="382.92" width="1.2" height="1.2" fill="#6a70b0"/><rect x="341.70" y="376.55" width="1.2" height="1.2" fill="#7a6ab0"/><rect x="342.14" y="393.56" width="1.2" height="1.2" fill="#8a80c0"/><rect x="340.59" y="390.81" width="1.2" height="1.2" fill="#8a80c0"/><rect x="341.26" y="366.74" width="1.2" height="1.2" fill="#7a6ab0"/><rect x="337.85" y="421.79" width="1.2" height="1.2" fill="#9a90c8"/><rect x="340.80" y="410.26" width="1.2" height="1.2" fill="#6a70b0"/><rect x="340.06" y="417.01" width="1.2" height="1.2" fill="#5a68a8"/><rect x="340.93" y="421.49" width="1.2" height="1.2" fill="#6a70b0"/><rect x="340.72" y="414.73" width="1.2" height="1.2" fill="#5a68a8"/><rect x="342.18" y="412.40" width="1.2" height="1.2" fill="#6a70b0"/><rect x="340.94" y="422.38" width="1.2" height="1.2" fill="#7a6ab0"/><rect x="342.05" y="417.29" width="1.2" height="1.2" fill="#9a90c8"/><rect x="341.83" y="419.12" width="1.2" height="1.2" fill="#5a68a8"/><rect x="338.36" y="422.02" width="1.2" height="1.2" fill="#9a90c8"/></g>
<rect x="307.30" y="278.80" width="190.30" height="189.80" fill="none" stroke="#000" stroke-width="1.3"/>
<text x="310.90" y="301.80" font-size="7.6" text-anchor="start" fill="#1a1a1a" stroke="#1a1a1a" >G1</text>
<text x="310.90" y="310.50" font-size="7.6" text-anchor="start" fill="#8e3a7c" stroke="#8e3a7c" >51.5</text>
<text x="428.60" y="301.80" font-size="7.6" text-anchor="start" fill="#1a1a1a" stroke="#1a1a1a" >S-G2-M</text>
<text x="428.90" y="310.70" font-size="7.6" text-anchor="start" fill="#8e3a7c" stroke="#8e3a7c" >21.1</text>
<text x="310.90" y="445.80" font-size="7.6" text-anchor="start" fill="#1a1a1a" stroke="#1a1a1a" >G0</text>
<text x="310.90" y="454.40" font-size="7.6" text-anchor="start" fill="#8e3a7c" stroke="#8e3a7c" >27.4</text>
<text x="299.80" y="430.50" font-size="7.8" text-anchor="end" fill="#1a1a1a" stroke="#1a1a1a">10<tspan font-size="4.6" dy="-3.2">2</tspan></text>
<text x="299.80" y="384.90" font-size="7.8" text-anchor="end" fill="#1a1a1a" stroke="#1a1a1a">10<tspan font-size="4.6" dy="-3.2">3</tspan></text>
<text x="299.80" y="340.70" font-size="7.8" text-anchor="end" fill="#1a1a1a" stroke="#1a1a1a">10<tspan font-size="4.6" dy="-3.2">4</tspan></text>
<text x="299.80" y="298.80" font-size="7.8" text-anchor="end" fill="#1a1a1a" stroke="#1a1a1a">10<tspan font-size="4.6" dy="-3.2">5</tspan></text>
<text x="300.90" y="451.80" font-size="7.8" text-anchor="end" fill="#1a1a1a" stroke="#1a1a1a" >0</text>
<text x="307.30" y="481.80" font-size="8.0" text-anchor="middle" fill="#1a1a1a" stroke="#1a1a1a" >0</text>
<text x="343.60" y="481.80" font-size="8.0" text-anchor="middle" fill="#1a1a1a" stroke="#1a1a1a" >50k</text>
<text x="379.89" y="481.80" font-size="8.0" text-anchor="middle" fill="#1a1a1a" stroke="#1a1a1a" >100k</text>
<text x="416.19" y="481.80" font-size="8.0" text-anchor="middle" fill="#1a1a1a" stroke="#1a1a1a" >150k</text>
<text x="452.49" y="481.80" font-size="8.0" text-anchor="middle" fill="#1a1a1a" stroke="#1a1a1a" >200k</text>
<text x="488.78" y="481.80" font-size="8.0" text-anchor="middle" fill="#1a1a1a" stroke="#1a1a1a" >250k</text>
<text x="402.95" y="495.60" font-size="9.8" text-anchor="middle" fill="#1a1a1a" stroke="#1a1a1a" textLength="58.2" lengthAdjust="spacingAndGlyphs">Hoechst 33342</text>
<text transform="translate(282.40,373.50) rotate(-90)" font-size="10.2" text-anchor="middle" textLength="17.6" lengthAdjust="spacingAndGlyphs" fill="#1a1a1a" stroke="#1a1a1a">Ki67</text>
<text x="274.20" y="285.80" font-size="9.4" text-anchor="start" fill="#1a1a1a" stroke="#1a1a1a" >(iv)</text>
<line x1="49.50" y1="533.48" x2="49.50" y2="675.20" stroke="#111" stroke-width="1.4"/>
<line x1="48.80" y1="674.50" x2="258.80" y2="674.50" stroke="#111" stroke-width="1.4"/>
<line x1="45.50" y1="674.50" x2="49.50" y2="674.50" stroke="#111" stroke-width="1.2"/>
<text x="43.50" y="677.40" font-size="8.2" text-anchor="end" fill="#1a1a1a" stroke="#1a1a1a" >0</text>
<line x1="45.50" y1="639.62" x2="49.50" y2="639.62" stroke="#111" stroke-width="1.2"/>
<text x="43.50" y="642.52" font-size="8.2" text-anchor="end" fill="#1a1a1a" stroke="#1a1a1a" >20</text>
<line x1="45.50" y1="604.74" x2="49.50" y2="604.74" stroke="#111" stroke-width="1.2"/>
<text x="43.50" y="607.64" font-size="8.2" text-anchor="end" fill="#1a1a1a" stroke="#1a1a1a" >40</text>
<line x1="45.50" y1="569.86" x2="49.50" y2="569.86" stroke="#111" stroke-width="1.2"/>
<text x="43.50" y="572.76" font-size="8.2" text-anchor="end" fill="#1a1a1a" stroke="#1a1a1a" >60</text>
<line x1="45.50" y1="534.98" x2="49.50" y2="534.98" stroke="#111" stroke-width="1.2"/>
<text x="43.50" y="537.88" font-size="8.2" text-anchor="end" fill="#1a1a1a" stroke="#1a1a1a" >80</text>
<text transform="translate(28.20,602.94) rotate(-90)" font-size="9.3" text-anchor="middle" textLength="27.2" lengthAdjust="spacingAndGlyphs" fill="#1a1a1a" stroke="#1a1a1a">G0 (%)</text>
<circle cx="75.00" cy="621.00" r="2.5" fill="#980f3a"/>
<circle cx="61.25" cy="629.25" r="2.5" fill="#980f3a"/>
<circle cx="68.25" cy="631.00" r="2.5" fill="#980f3a"/>
<circle cx="75.50" cy="631.50" r="2.5" fill="#980f3a"/>
<circle cx="82.50" cy="630.25" r="2.5" fill="#980f3a"/>
<circle cx="89.50" cy="628.75" r="2.5" fill="#980f3a"/>
<circle cx="79.00" cy="640.00" r="2.5" fill="#980f3a"/>
<circle cx="72.00" cy="646.50" r="2.5" fill="#980f3a"/>
<circle cx="82.50" cy="648.00" r="2.5" fill="#980f3a"/>
<circle cx="68.25" cy="652.25" r="2.5" fill="#980f3a"/>
<circle cx="75.50" cy="655.00" r="2.5" fill="#980f3a"/>
<circle cx="75.50" cy="667.50" r="2.5" fill="#980f3a"/>
<line x1="58.00" y1="640.00" x2="93.00" y2="640.00" stroke="#111" stroke-width="1.4"/>
<text x="76.70" y="688.70" font-size="8.8" text-anchor="middle" fill="#1a1a1a" stroke="#1a1a1a"><tspan font-style="italic">D2</tspan><tspan font-size="5.2" dy="-3.3">-/-</tspan></text>
<text x="75.50" y="698.90" font-size="8.4" text-anchor="middle" fill="#1a1a1a" stroke="#1a1a1a" >Placebo</text>
<circle cx="124.20" cy="606.30" r="2.5" fill="#2c3e6a"/>
<circle cx="131.30" cy="607.60" r="2.5" fill="#2c3e6a"/>
<circle cx="120.60" cy="621.30" r="2.5" fill="#2c3e6a"/>
<circle cx="138.50" cy="620.90" r="2.5" fill="#2c3e6a"/>
<circle cx="127.90" cy="625.30" r="2.5" fill="#2c3e6a"/>
<circle cx="134.80" cy="626.70" r="2.5" fill="#2c3e6a"/>
<circle cx="120.60" cy="633.00" r="2.5" fill="#2c3e6a"/>
<circle cx="127.90" cy="634.00" r="2.5" fill="#2c3e6a"/>
<circle cx="120.60" cy="641.30" r="2.5" fill="#2c3e6a"/>
<circle cx="134.80" cy="642.60" r="2.5" fill="#2c3e6a"/>
<circle cx="127.90" cy="645.70" r="2.5" fill="#2c3e6a"/>
<line x1="110.50" y1="627.60" x2="145.50" y2="627.60" stroke="#111" stroke-width="1.4"/>
<text x="129.20" y="688.70" font-size="8.8" text-anchor="middle" fill="#1a1a1a" stroke="#1a1a1a"><tspan font-style="italic">D2</tspan><tspan font-size="5.2" dy="-3.3">-/-</tspan></text>
<text x="128.00" y="698.90" font-size="8.4" text-anchor="middle" fill="#1a1a1a" stroke="#1a1a1a" >MET</text>
<circle cx="176.90" cy="555.00" r="2.5" fill="#64a446"/>
<circle cx="183.80" cy="555.80" r="2.5" fill="#64a446"/>
<circle cx="172.80" cy="567.50" r="2.5" fill="#64a446"/>
<circle cx="180.30" cy="569.20" r="2.5" fill="#64a446"/>
<circle cx="187.40" cy="568.30" r="2.5" fill="#64a446"/>
<circle cx="176.40" cy="575.50" r="2.5" fill="#64a446"/>
<circle cx="183.40" cy="577.00" r="2.5" fill="#64a446"/>
<circle cx="173.30" cy="581.20" r="2.5" fill="#64a446"/>
<circle cx="187.40" cy="584.20" r="2.5" fill="#64a446"/>
<circle cx="179.80" cy="586.10" r="2.5" fill="#64a446"/>
<line x1="162.70" y1="571.70" x2="197.70" y2="571.70" stroke="#111" stroke-width="1.4"/>
<text x="181.40" y="688.70" font-size="8.8" text-anchor="middle" fill="#1a1a1a" stroke="#1a1a1a"><tspan font-style="italic">D2</tspan><tspan font-size="5.2" dy="-3.3">+/+</tspan></text>
<text x="180.20" y="698.90" font-size="8.4" text-anchor="middle" fill="#1a1a1a" stroke="#1a1a1a" >Placebo</text>
<circle cx="232.70" cy="554.80" r="2.5" fill="#3e1c50"/>
<circle cx="243.10" cy="564.30" r="2.5" fill="#3e1c50"/>
<circle cx="221.90" cy="567.70" r="2.5" fill="#3e1c50"/>
<circle cx="229.30" cy="570.00" r="2.5" fill="#3e1c50"/>
<circle cx="236.10" cy="568.70" r="2.5" fill="#3e1c50"/>
<circle cx="228.90" cy="583.30" r="2.5" fill="#3e1c50"/>
<circle cx="236.10" cy="588.20" r="2.5" fill="#3e1c50"/>
<circle cx="225.30" cy="595.20" r="2.5" fill="#3e1c50"/>
<circle cx="239.70" cy="596.70" r="2.5" fill="#3e1c50"/>
<circle cx="232.30" cy="600.30" r="2.5" fill="#3e1c50"/>
<line x1="215.00" y1="578.90" x2="250.00" y2="578.90" stroke="#111" stroke-width="1.4"/>
<text x="233.70" y="688.70" font-size="8.8" text-anchor="middle" fill="#1a1a1a" stroke="#1a1a1a"><tspan font-style="italic">D2</tspan><tspan font-size="5.2" dy="-3.3">+/+</tspan></text>
<text x="232.50" y="698.90" font-size="8.4" text-anchor="middle" fill="#1a1a1a" stroke="#1a1a1a" >MET</text>
<path d="M60.00,594.00 V590.50 H126.00 V594.00" fill="none" stroke="#111" stroke-width="1"/>
<text x="93.00" y="587.60" font-size="8.3" text-anchor="middle" textLength="28" lengthAdjust="spacingAndGlyphs" fill="#1a1a1a" stroke="#1a1a1a"><tspan font-style="italic">P</tspan> &lt; 0.05</text>
<path d="M169.50,545.70 V542.20 H235.70 V545.70" fill="none" stroke="#111" stroke-width="1"/>
<text x="202.60" y="539.30" font-size="8.3" text-anchor="middle" textLength="46.5" lengthAdjust="spacingAndGlyphs" fill="#1a1a1a" stroke="#1a1a1a">NS (<tspan font-style="italic">P</tspan> = 0.27)</text>
<line x1="303.00" y1="534.00" x2="303.00" y2="675.70" stroke="#111" stroke-width="1.4"/>
<line x1="302.30" y1="675.00" x2="512.50" y2="675.00" stroke="#111" stroke-width="1.4"/>
<line x1="299.00" y1="675.00" x2="303.00" y2="675.00" stroke="#111" stroke-width="1.2"/>
<text x="297.00" y="677.90" font-size="8.2" text-anchor="end" fill="#1a1a1a" stroke="#1a1a1a" >0</text>
<line x1="299.00" y1="628.50" x2="303.00" y2="628.50" stroke="#111" stroke-width="1.2"/>
<text x="297.00" y="631.40" font-size="8.2" text-anchor="end" fill="#1a1a1a" stroke="#1a1a1a" >20</text>
<line x1="299.00" y1="582.00" x2="303.00" y2="582.00" stroke="#111" stroke-width="1.2"/>
<text x="297.00" y="584.90" font-size="8.2" text-anchor="end" fill="#1a1a1a" stroke="#1a1a1a" >40</text>
<line x1="299.00" y1="535.50" x2="303.00" y2="535.50" stroke="#111" stroke-width="1.2"/>
<text x="297.00" y="538.40" font-size="8.2" text-anchor="end" fill="#1a1a1a" stroke="#1a1a1a" >60</text>
<text transform="translate(282.00,603.55) rotate(-90)" font-size="9.4" text-anchor="middle" textLength="46.5" lengthAdjust="spacingAndGlyphs" fill="#1a1a1a" stroke="#1a1a1a">S-G2-M (%)</text>
<circle cx="330.30" cy="588.00" r="2.5" fill="#980f3a"/>
<circle cx="329.80" cy="601.00" r="2.5" fill="#980f3a"/>
<circle cx="329.80" cy="608.60" r="2.5" fill="#980f3a"/>
<circle cx="315.40" cy="615.00" r="2.5" fill="#980f3a"/>
<circle cx="321.30" cy="615.00" r="2.5" fill="#980f3a"/>
<circle cx="344.60" cy="611.80" r="2.5" fill="#980f3a"/>
<circle cx="338.70" cy="615.00" r="2.5" fill="#980f3a"/>
<circle cx="327.00" cy="618.60" r="2.5" fill="#980f3a"/>
<circle cx="333.00" cy="617.10" r="2.5" fill="#980f3a"/>
<circle cx="326.40" cy="627.00" r="2.5" fill="#980f3a"/>
<circle cx="333.60" cy="628.10" r="2.5" fill="#980f3a"/>
<circle cx="329.80" cy="638.70" r="2.5" fill="#980f3a"/>
<line x1="312.80" y1="615.10" x2="347.80" y2="615.10" stroke="#111" stroke-width="1.4"/>
<text x="331.50" y="689.20" font-size="8.8" text-anchor="middle" fill="#1a1a1a" stroke="#1a1a1a"><tspan font-style="italic">D2</tspan><tspan font-size="5.2" dy="-3.3">-/-</tspan></text>
<text x="330.30" y="699.40" font-size="8.4" text-anchor="middle" fill="#1a1a1a" stroke="#1a1a1a" >Placebo</text>
<circle cx="378.90" cy="613.90" r="2.5" fill="#2c3e6a"/>
<circle cx="389.40" cy="615.00" r="2.5" fill="#2c3e6a"/>
<circle cx="368.30" cy="619.80" r="2.5" fill="#2c3e6a"/>
<circle cx="375.00" cy="621.30" r="2.5" fill="#2c3e6a"/>
<circle cx="385.80" cy="620.70" r="2.5" fill="#2c3e6a"/>
<circle cx="393.00" cy="622.80" r="2.5" fill="#2c3e6a"/>
<circle cx="382.20" cy="625.50" r="2.5" fill="#2c3e6a"/>
<circle cx="389.40" cy="629.80" r="2.5" fill="#2c3e6a"/>
<circle cx="375.00" cy="632.70" r="2.5" fill="#2c3e6a"/>
<circle cx="382.20" cy="635.50" r="2.5" fill="#2c3e6a"/>
<circle cx="382.20" cy="645.40" r="2.5" fill="#2c3e6a"/>
<line x1="364.50" y1="625.50" x2="399.50" y2="625.50" stroke="#111" stroke-width="1.4"/>
<text x="383.20" y="689.20" font-size="8.8" text-anchor="middle" fill="#1a1a1a" stroke="#1a1a1a"><tspan font-style="italic">D2</tspan><tspan font-size="5.2" dy="-3.3">-/-</tspan></text>
<text x="382.00" y="699.40" font-size="8.4" text-anchor="middle" fill="#1a1a1a" stroke="#1a1a1a" >MET</text>
<circle cx="430.75" cy="625.00" r="2.5" fill="#64a446"/>
<circle cx="438.00" cy="631.75" r="2.5" fill="#64a446"/>
<circle cx="434.25" cy="642.00" r="2.5" fill="#64a446"/>
<circle cx="420.00" cy="652.00" r="2.5" fill="#64a446"/>
<circle cx="427.00" cy="655.00" r="2.5" fill="#64a446"/>
<circle cx="430.75" cy="649.50" r="2.5" fill="#64a446"/>
<circle cx="438.00" cy="649.50" r="2.5" fill="#64a446"/>
<circle cx="434.25" cy="657.50" r="2.5" fill="#64a446"/>
<circle cx="441.25" cy="657.00" r="2.5" fill="#64a446"/>
<circle cx="448.75" cy="654.25" r="2.5" fill="#64a446"/>
<line x1="416.80" y1="647.50" x2="451.80" y2="647.50" stroke="#111" stroke-width="1.4"/>
<text x="435.50" y="689.20" font-size="8.8" text-anchor="middle" fill="#1a1a1a" stroke="#1a1a1a"><tspan font-style="italic">D2</tspan><tspan font-size="5.2" dy="-3.3">+/+</tspan></text>
<text x="434.30" y="699.40" font-size="8.4" text-anchor="middle" fill="#1a1a1a" stroke="#1a1a1a" >Placebo</text>
<circle cx="486.75" cy="627.00" r="2.5" fill="#3e1c50"/>
<circle cx="472.00" cy="640.75" r="2.5" fill="#3e1c50"/>
<circle cx="501.25" cy="640.25" r="2.5" fill="#3e1c50"/>
<circle cx="479.50" cy="646.50" r="2.5" fill="#3e1c50"/>
<circle cx="487.00" cy="646.50" r="2.5" fill="#3e1c50"/>
<circle cx="493.75" cy="646.00" r="2.5" fill="#3e1c50"/>
<circle cx="475.75" cy="653.00" r="2.5" fill="#3e1c50"/>
<circle cx="490.50" cy="653.00" r="2.5" fill="#3e1c50"/>
<circle cx="497.50" cy="652.50" r="2.5" fill="#3e1c50"/>
<circle cx="483.00" cy="659.00" r="2.5" fill="#3e1c50"/>
<line x1="469.30" y1="646.50" x2="504.30" y2="646.50" stroke="#111" stroke-width="1.4"/>
<text x="488.00" y="689.20" font-size="8.8" text-anchor="middle" fill="#1a1a1a" stroke="#1a1a1a"><tspan font-style="italic">D2</tspan><tspan font-size="5.2" dy="-3.3">+/+</tspan></text>
<text x="486.80" y="699.40" font-size="8.4" text-anchor="middle" fill="#1a1a1a" stroke="#1a1a1a" >MET</text>
<path d="M324.60,579.90 V576.40 H390.50 V579.90" fill="none" stroke="#111" stroke-width="1"/>
<text x="357.55" y="573.50" font-size="8.3" text-anchor="middle" textLength="28.5" lengthAdjust="spacingAndGlyphs" fill="#1a1a1a" stroke="#1a1a1a"><tspan font-style="italic">P</tspan> &lt; 0.05</text>
<path d="M423.75,613.50 V610.00 H496.25 V613.50" fill="none" stroke="#111" stroke-width="1"/>
<text x="460.00" y="607.10" font-size="8.3" text-anchor="middle" textLength="46.5" lengthAdjust="spacingAndGlyphs" fill="#1a1a1a" stroke="#1a1a1a">NS (<tspan font-style="italic">P</tspan> = 0.85)</text>
</svg>
</body></html>
